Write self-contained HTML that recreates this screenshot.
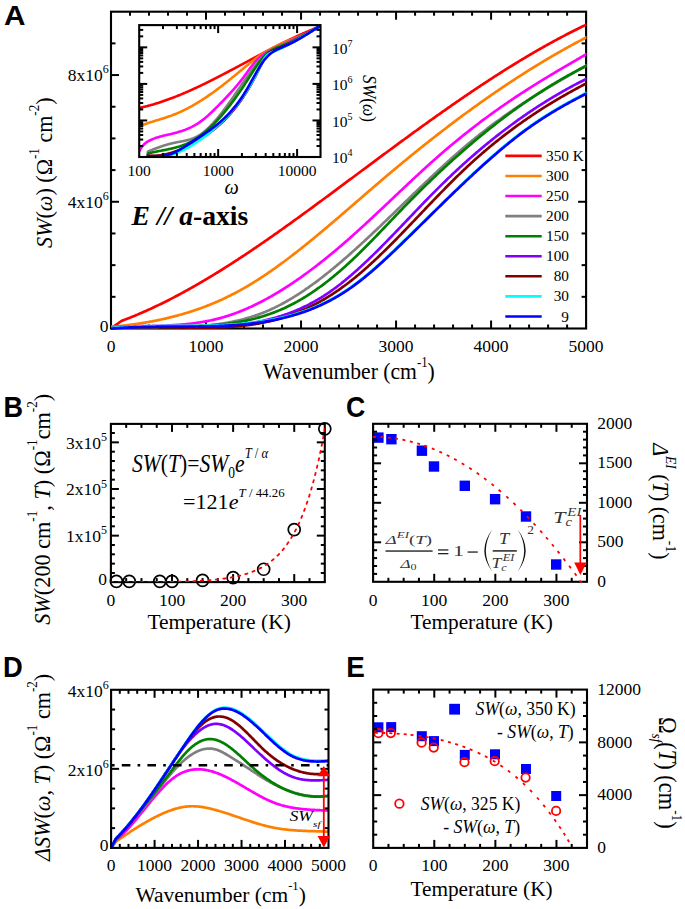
<!DOCTYPE html>
<html><head><meta charset="utf-8"><title>Figure</title>
<style>html,body{margin:0;padding:0;background:#fff;} svg{display:block;} text{fill:#000;}</style>
</head><body>
<svg width="685" height="909" viewBox="0 0 685 909">
<defs>
<clipPath id="clipA"><rect x="111" y="11.7" width="475.4" height="318.1"/></clipPath>
<clipPath id="clipI"><rect x="139.2" y="25.1" width="181.3" height="131.9"/></clipPath>
<clipPath id="clipB"><rect x="110.9" y="423.9" width="213.9" height="158.20000000000005"/></clipPath>
<clipPath id="clipC"><rect x="373.1" y="423.8" width="213.89999999999998" height="157.99999999999994"/></clipPath>
<clipPath id="clipD"><rect x="110.6" y="689.8" width="217.9" height="159.1"/></clipPath>
<clipPath id="clipE"><rect x="373.2" y="689.6" width="213.8" height="158.29999999999995"/></clipPath>
</defs>
<rect width="685" height="909" fill="#fff"/>
<rect x="111" y="11.7" width="475.1" height="316.8" fill="none" stroke="#000" stroke-width="2.1"/>
<line x1="130" y1="328.5" x2="130" y2="324.5" stroke="#000" stroke-width="2" />
<line x1="130" y1="11.7" x2="130" y2="15.7" stroke="#000" stroke-width="2" />
<line x1="149.01" y1="328.5" x2="149.01" y2="324.5" stroke="#000" stroke-width="2" />
<line x1="149.01" y1="11.7" x2="149.01" y2="15.7" stroke="#000" stroke-width="2" />
<line x1="168.01" y1="328.5" x2="168.01" y2="324.5" stroke="#000" stroke-width="2" />
<line x1="168.01" y1="11.7" x2="168.01" y2="15.7" stroke="#000" stroke-width="2" />
<line x1="187.02" y1="328.5" x2="187.02" y2="324.5" stroke="#000" stroke-width="2" />
<line x1="187.02" y1="11.7" x2="187.02" y2="15.7" stroke="#000" stroke-width="2" />
<line x1="206.02" y1="328.5" x2="206.02" y2="320.5" stroke="#000" stroke-width="2" />
<line x1="206.02" y1="11.7" x2="206.02" y2="19.7" stroke="#000" stroke-width="2" />
<line x1="225.02" y1="328.5" x2="225.02" y2="324.5" stroke="#000" stroke-width="2" />
<line x1="225.02" y1="11.7" x2="225.02" y2="15.7" stroke="#000" stroke-width="2" />
<line x1="244.03" y1="328.5" x2="244.03" y2="324.5" stroke="#000" stroke-width="2" />
<line x1="244.03" y1="11.7" x2="244.03" y2="15.7" stroke="#000" stroke-width="2" />
<line x1="263.03" y1="328.5" x2="263.03" y2="324.5" stroke="#000" stroke-width="2" />
<line x1="263.03" y1="11.7" x2="263.03" y2="15.7" stroke="#000" stroke-width="2" />
<line x1="282.04" y1="328.5" x2="282.04" y2="324.5" stroke="#000" stroke-width="2" />
<line x1="282.04" y1="11.7" x2="282.04" y2="15.7" stroke="#000" stroke-width="2" />
<line x1="301.04" y1="328.5" x2="301.04" y2="320.5" stroke="#000" stroke-width="2" />
<line x1="301.04" y1="11.7" x2="301.04" y2="19.7" stroke="#000" stroke-width="2" />
<line x1="320.04" y1="328.5" x2="320.04" y2="324.5" stroke="#000" stroke-width="2" />
<line x1="320.04" y1="11.7" x2="320.04" y2="15.7" stroke="#000" stroke-width="2" />
<line x1="339.05" y1="328.5" x2="339.05" y2="324.5" stroke="#000" stroke-width="2" />
<line x1="339.05" y1="11.7" x2="339.05" y2="15.7" stroke="#000" stroke-width="2" />
<line x1="358.05" y1="328.5" x2="358.05" y2="324.5" stroke="#000" stroke-width="2" />
<line x1="358.05" y1="11.7" x2="358.05" y2="15.7" stroke="#000" stroke-width="2" />
<line x1="377.06" y1="328.5" x2="377.06" y2="324.5" stroke="#000" stroke-width="2" />
<line x1="377.06" y1="11.7" x2="377.06" y2="15.7" stroke="#000" stroke-width="2" />
<line x1="396.06" y1="328.5" x2="396.06" y2="320.5" stroke="#000" stroke-width="2" />
<line x1="396.06" y1="11.7" x2="396.06" y2="19.7" stroke="#000" stroke-width="2" />
<line x1="415.06" y1="328.5" x2="415.06" y2="324.5" stroke="#000" stroke-width="2" />
<line x1="415.06" y1="11.7" x2="415.06" y2="15.7" stroke="#000" stroke-width="2" />
<line x1="434.07" y1="328.5" x2="434.07" y2="324.5" stroke="#000" stroke-width="2" />
<line x1="434.07" y1="11.7" x2="434.07" y2="15.7" stroke="#000" stroke-width="2" />
<line x1="453.07" y1="328.5" x2="453.07" y2="324.5" stroke="#000" stroke-width="2" />
<line x1="453.07" y1="11.7" x2="453.07" y2="15.7" stroke="#000" stroke-width="2" />
<line x1="472.08" y1="328.5" x2="472.08" y2="324.5" stroke="#000" stroke-width="2" />
<line x1="472.08" y1="11.7" x2="472.08" y2="15.7" stroke="#000" stroke-width="2" />
<line x1="491.08" y1="328.5" x2="491.08" y2="320.5" stroke="#000" stroke-width="2" />
<line x1="491.08" y1="11.7" x2="491.08" y2="19.7" stroke="#000" stroke-width="2" />
<line x1="510.08" y1="328.5" x2="510.08" y2="324.5" stroke="#000" stroke-width="2" />
<line x1="510.08" y1="11.7" x2="510.08" y2="15.7" stroke="#000" stroke-width="2" />
<line x1="529.09" y1="328.5" x2="529.09" y2="324.5" stroke="#000" stroke-width="2" />
<line x1="529.09" y1="11.7" x2="529.09" y2="15.7" stroke="#000" stroke-width="2" />
<line x1="548.09" y1="328.5" x2="548.09" y2="324.5" stroke="#000" stroke-width="2" />
<line x1="548.09" y1="11.7" x2="548.09" y2="15.7" stroke="#000" stroke-width="2" />
<line x1="567.1" y1="328.5" x2="567.1" y2="324.5" stroke="#000" stroke-width="2" />
<line x1="567.1" y1="11.7" x2="567.1" y2="15.7" stroke="#000" stroke-width="2" />
<line x1="111" y1="296.82" x2="115.5" y2="296.82" stroke="#000" stroke-width="2" />
<line x1="586.1" y1="296.82" x2="581.6" y2="296.82" stroke="#000" stroke-width="2" />
<line x1="111" y1="265.14" x2="115.5" y2="265.14" stroke="#000" stroke-width="2" />
<line x1="586.1" y1="265.14" x2="581.6" y2="265.14" stroke="#000" stroke-width="2" />
<line x1="111" y1="233.46" x2="115.5" y2="233.46" stroke="#000" stroke-width="2" />
<line x1="586.1" y1="233.46" x2="581.6" y2="233.46" stroke="#000" stroke-width="2" />
<line x1="111" y1="201.78" x2="119" y2="201.78" stroke="#000" stroke-width="2" />
<line x1="586.1" y1="201.78" x2="578.1" y2="201.78" stroke="#000" stroke-width="2" />
<line x1="111" y1="170.1" x2="115.5" y2="170.1" stroke="#000" stroke-width="2" />
<line x1="586.1" y1="170.1" x2="581.6" y2="170.1" stroke="#000" stroke-width="2" />
<line x1="111" y1="138.42" x2="115.5" y2="138.42" stroke="#000" stroke-width="2" />
<line x1="586.1" y1="138.42" x2="581.6" y2="138.42" stroke="#000" stroke-width="2" />
<line x1="111" y1="106.74" x2="115.5" y2="106.74" stroke="#000" stroke-width="2" />
<line x1="586.1" y1="106.74" x2="581.6" y2="106.74" stroke="#000" stroke-width="2" />
<line x1="111" y1="75.06" x2="119" y2="75.06" stroke="#000" stroke-width="2" />
<line x1="586.1" y1="75.06" x2="578.1" y2="75.06" stroke="#000" stroke-width="2" />
<line x1="111" y1="43.38" x2="115.5" y2="43.38" stroke="#000" stroke-width="2" />
<line x1="586.1" y1="43.38" x2="581.6" y2="43.38" stroke="#000" stroke-width="2" />
<g clip-path="url(#clipA)">
<path d="M111.2,328.3 L121.4,320.98 L122.4,320.61 L123.4,320.23 L124.4,319.85 L125.4,319.47 L126.4,319.09 L127.4,318.7 L128.4,318.3 L129.4,317.91 L130.4,317.51 L131.4,317.11 L132.4,316.7 L133.4,316.29 L134.4,315.88 L135.4,315.47 L136.4,315.05 L137.4,314.63 L138.4,314.21 L139.4,313.78 L140.4,313.35 L141.4,312.92 L142.4,312.49 L143.4,312.05 L144.4,311.61 L145.4,311.16 L146.4,310.72 L147.4,310.27 L148.4,309.81 L149.4,309.36 L150.4,308.9 L151.4,308.44 L152.4,307.98 L153.4,307.51 L154.4,307.04 L155.4,306.57 L156.4,306.09 L157.4,305.62 L158.4,305.14 L159.4,304.65 L160.4,304.17 L161.4,303.68 L162.4,303.19 L163.4,302.69 L164.4,302.2 L165.4,301.7 L166.4,301.2 L167.4,300.69 L168.4,300.19 L169.4,299.68 L170.4,299.17 L171.4,298.65 L172.4,298.13 L173.4,297.61 L174.4,297.09 L175.4,296.57 L176.4,296.04 L177.4,295.51 L178.4,294.98 L179.4,294.45 L180.4,293.91 L181.4,293.37 L182.4,292.83 L183.4,292.28 L184.4,291.74 L185.4,291.19 L186.4,290.64 L187.4,290.09 L188.4,289.53 L189.4,288.97 L190.4,288.41 L191.4,287.85 L192.4,287.29 L193.4,286.72 L194.4,286.15 L195.4,285.58 L196.4,285.01 L197.4,284.43 L198.4,283.85 L199.4,283.27 L200.4,282.69 L201.4,282.11 L202.4,281.52 L203.4,280.93 L204.4,280.34 L205.4,279.75 L206.4,279.15 L207.4,278.56 L208.4,277.96 L209.4,277.36 L210.4,276.75 L211.4,276.15 L212.4,275.54 L213.4,274.94 L214.4,274.32 L215.4,273.71 L216.4,273.1 L217.4,272.48 L218.4,271.86 L219.4,271.24 L220.4,270.62 L221.4,270 L222.4,269.37 L223.4,268.74 L224.4,268.12 L225.4,267.48 L226.4,266.85 L227.4,266.22 L228.4,265.58 L229.4,264.94 L230.4,264.3 L231.4,263.66 L232.4,263.02 L233.4,262.37 L234.4,261.73 L235.4,261.08 L236.4,260.43 L237.4,259.78 L238.4,259.13 L239.4,258.47 L240.4,257.82 L241.4,257.16 L242.4,256.5 L243.4,255.84 L244.4,255.18 L245.4,254.51 L246.4,253.85 L247.4,253.18 L248.4,252.51 L249.4,251.84 L250.4,251.17 L251.4,250.5 L252.4,249.83 L253.4,249.15 L254.4,248.47 L255.4,247.8 L256.4,247.12 L257.4,246.44 L258.4,245.75 L259.4,245.07 L260.4,244.39 L261.4,243.7 L262.4,243.01 L263.4,242.32 L264.4,241.63 L265.4,240.94 L266.4,240.25 L267.4,239.56 L268.4,238.86 L269.4,238.17 L270.4,237.47 L271.4,236.77 L272.4,236.07 L273.4,235.37 L274.4,234.67 L275.4,233.97 L276.4,233.27 L277.4,232.56 L278.4,231.86 L279.4,231.15 L280.4,230.44 L281.4,229.73 L282.4,229.02 L283.4,228.31 L284.4,227.6 L285.4,226.89 L286.4,226.17 L287.4,225.46 L288.4,224.75 L289.4,224.03 L290.4,223.31 L291.4,222.59 L292.4,221.88 L293.4,221.16 L294.4,220.44 L295.4,219.71 L296.4,218.99 L297.4,218.27 L298.4,217.55 L299.4,216.82 L300.4,216.1 L301.4,215.37 L302.4,214.64 L303.4,213.92 L304.4,213.19 L305.4,212.46 L306.4,211.73 L307.4,211 L308.4,210.27 L309.4,209.54 L310.4,208.81 L311.4,208.08 L312.4,207.34 L313.4,206.61 L314.4,205.88 L315.4,205.14 L316.4,204.41 L317.4,203.67 L318.4,202.93 L319.4,202.2 L320.4,201.46 L321.4,200.72 L322.4,199.99 L323.4,199.25 L324.4,198.51 L325.4,197.77 L326.4,197.03 L327.4,196.29 L328.4,195.55 L329.4,194.81 L330.4,194.07 L331.4,193.33 L332.4,192.59 L333.4,191.85 L334.4,191.1 L335.4,190.36 L336.4,189.62 L337.4,188.88 L338.4,188.13 L339.4,187.39 L340.4,186.65 L341.4,185.9 L342.4,185.16 L343.4,184.42 L344.4,183.67 L345.4,182.93 L346.4,182.19 L347.4,181.44 L348.4,180.7 L349.4,179.95 L350.4,179.21 L351.4,178.47 L352.4,177.72 L353.4,176.98 L354.4,176.23 L355.4,175.49 L356.4,174.74 L357.4,174 L358.4,173.26 L359.4,172.51 L360.4,171.77 L361.4,171.02 L362.4,170.28 L363.4,169.54 L364.4,168.79 L365.4,168.05 L366.4,167.31 L367.4,166.56 L368.4,165.82 L369.4,165.08 L370.4,164.33 L371.4,163.59 L372.4,162.85 L373.4,162.11 L374.4,161.37 L375.4,160.62 L376.4,159.88 L377.4,159.14 L378.4,158.4 L379.4,157.66 L380.4,156.92 L381.4,156.18 L382.4,155.44 L383.4,154.7 L384.4,153.96 L385.4,153.22 L386.4,152.48 L387.4,151.74 L388.4,151 L389.4,150.27 L390.4,149.53 L391.4,148.79 L392.4,148.05 L393.4,147.32 L394.4,146.58 L395.4,145.85 L396.4,145.11 L397.4,144.38 L398.4,143.64 L399.4,142.91 L400.4,142.18 L401.4,141.44 L402.4,140.71 L403.4,139.98 L404.4,139.25 L405.4,138.52 L406.4,137.79 L407.4,137.06 L408.4,136.33 L409.4,135.6 L410.4,134.87 L411.4,134.14 L412.4,133.42 L413.4,132.69 L414.4,131.96 L415.4,131.24 L416.4,130.51 L417.4,129.79 L418.4,129.07 L419.4,128.34 L420.4,127.62 L421.4,126.9 L422.4,126.18 L423.4,125.46 L424.4,124.74 L425.4,124.02 L426.4,123.31 L427.4,122.59 L428.4,121.87 L429.4,121.16 L430.4,120.44 L431.4,119.73 L432.4,119.01 L433.4,118.3 L434.4,117.59 L435.4,116.88 L436.4,116.17 L437.4,115.46 L438.4,114.75 L439.4,114.04 L440.4,113.34 L441.4,112.63 L442.4,111.93 L443.4,111.22 L444.4,110.52 L445.4,109.82 L446.4,109.12 L447.4,108.42 L448.4,107.72 L449.4,107.02 L450.4,106.32 L451.4,105.62 L452.4,104.93 L453.4,104.23 L454.4,103.54 L455.4,102.85 L456.4,102.16 L457.4,101.46 L458.4,100.78 L459.4,100.09 L460.4,99.4 L461.4,98.71 L462.4,98.03 L463.4,97.34 L464.4,96.66 L465.4,95.98 L466.4,95.3 L467.4,94.62 L468.4,93.94 L469.4,93.26 L470.4,92.59 L471.4,91.91 L472.4,91.24 L473.4,90.56 L474.4,89.89 L475.4,89.22 L476.4,88.55 L477.4,87.89 L478.4,87.22 L479.4,86.55 L480.4,85.89 L481.4,85.23 L482.4,84.56 L483.4,83.9 L484.4,83.25 L485.4,82.59 L486.4,81.93 L487.4,81.28 L488.4,80.62 L489.4,79.97 L490.4,79.32 L491.4,78.67 L492.4,78.02 L493.4,77.37 L494.4,76.73 L495.4,76.09 L496.4,75.44 L497.4,74.8 L498.4,74.16 L499.4,73.52 L500.4,72.89 L501.4,72.25 L502.4,71.62 L503.4,70.98 L504.4,70.35 L505.4,69.72 L506.4,69.1 L507.4,68.47 L508.4,67.84 L509.4,67.22 L510.4,66.6 L511.4,65.98 L512.4,65.36 L513.4,64.74 L514.4,64.13 L515.4,63.51 L516.4,62.9 L517.4,62.29 L518.4,61.68 L519.4,61.08 L520.4,60.47 L521.4,59.87 L522.4,59.26 L523.4,58.66 L524.4,58.06 L525.4,57.47 L526.4,56.87 L527.4,56.28 L528.4,55.68 L529.4,55.09 L530.4,54.51 L531.4,53.92 L532.4,53.33 L533.4,52.75 L534.4,52.17 L535.4,51.59 L536.4,51.01 L537.4,50.44 L538.4,49.86 L539.4,49.29 L540.4,48.72 L541.4,48.15 L542.4,47.58 L543.4,47.02 L544.4,46.46 L545.4,45.89 L546.4,45.34 L547.4,44.78 L548.4,44.22 L549.4,43.67 L550.4,43.12 L551.4,42.57 L552.4,42.02 L553.4,41.48 L554.4,40.93 L555.4,40.39 L556.4,39.85 L557.4,39.31 L558.4,38.78 L559.4,38.25 L560.4,37.71 L561.4,37.18 L562.4,36.66 L563.4,36.13 L564.4,35.61 L565.4,35.09 L566.4,34.57 L567.4,34.05 L568.4,33.54 L569.4,33.03 L570.4,32.52 L571.4,32.01 L572.4,31.5 L573.4,31 L574.4,30.5 L575.4,30 L576.4,29.5 L577.4,29.01 L578.4,28.51 L579.4,28.02 L580.4,27.53 L581.4,27.05 L582.4,26.57 L583.4,26.08 L584.4,25.61 L585.4,25.13 L586.4,24.65 L587,24.37" fill="none" stroke="#ff0000" stroke-width="2.7" stroke-linejoin="round" stroke-linecap="round" />
<path d="M111.2,326.96 L112.2,326.87 L113.2,326.77 L114.2,326.67 L115.2,326.57 L116.2,326.47 L117.2,326.36 L118.2,326.25 L119.2,326.15 L120.2,326.04 L121.2,325.92 L122.2,325.81 L123.2,325.69 L124.2,325.58 L125.2,325.45 L126.2,325.33 L127.2,325.21 L128.2,325.08 L129.2,324.95 L130.2,324.82 L131.2,324.69 L132.2,324.55 L133.2,324.41 L134.2,324.27 L135.2,324.13 L136.2,323.98 L137.2,323.84 L138.2,323.69 L139.2,323.53 L140.2,323.38 L141.2,323.22 L142.2,323.06 L143.2,322.9 L144.2,322.73 L145.2,322.56 L146.2,322.39 L147.2,322.22 L148.2,322.04 L149.2,321.86 L150.2,321.68 L151.2,321.5 L152.2,321.31 L153.2,321.12 L154.2,320.93 L155.2,320.73 L156.2,320.53 L157.2,320.33 L158.2,320.12 L159.2,319.91 L160.2,319.7 L161.2,319.49 L162.2,319.27 L163.2,319.05 L164.2,318.83 L165.2,318.6 L166.2,318.37 L167.2,318.13 L168.2,317.9 L169.2,317.66 L170.2,317.41 L171.2,317.17 L172.2,316.92 L173.2,316.66 L174.2,316.4 L175.2,316.14 L176.2,315.88 L177.2,315.61 L178.2,315.34 L179.2,315.06 L180.2,314.78 L181.2,314.5 L182.2,314.22 L183.2,313.93 L184.2,313.63 L185.2,313.33 L186.2,313.03 L187.2,312.73 L188.2,312.42 L189.2,312.1 L190.2,311.79 L191.2,311.47 L192.2,311.14 L193.2,310.81 L194.2,310.48 L195.2,310.14 L196.2,309.8 L197.2,309.46 L198.2,309.11 L199.2,308.75 L200.2,308.4 L201.2,308.03 L202.2,307.67 L203.2,307.3 L204.2,306.92 L205.2,306.54 L206.2,306.16 L207.2,305.77 L208.2,305.38 L209.2,304.98 L210.2,304.58 L211.2,304.17 L212.2,303.76 L213.2,303.35 L214.2,302.93 L215.2,302.5 L216.2,302.07 L217.2,301.64 L218.2,301.2 L219.2,300.76 L220.2,300.31 L221.2,299.86 L222.2,299.4 L223.2,298.94 L224.2,298.47 L225.2,298 L226.2,297.52 L227.2,297.04 L228.2,296.55 L229.2,296.06 L230.2,295.56 L231.2,295.06 L232.2,294.55 L233.2,294.04 L234.2,293.52 L235.2,293 L236.2,292.47 L237.2,291.94 L238.2,291.4 L239.2,290.86 L240.2,290.31 L241.2,289.75 L242.2,289.19 L243.2,288.63 L244.2,288.05 L245.2,287.48 L246.2,286.9 L247.2,286.31 L248.2,285.72 L249.2,285.13 L250.2,284.52 L251.2,283.92 L252.2,283.31 L253.2,282.69 L254.2,282.07 L255.2,281.45 L256.2,280.82 L257.2,280.18 L258.2,279.54 L259.2,278.9 L260.2,278.25 L261.2,277.6 L262.2,276.94 L263.2,276.28 L264.2,275.62 L265.2,274.95 L266.2,274.28 L267.2,273.6 L268.2,272.92 L269.2,272.23 L270.2,271.54 L271.2,270.84 L272.2,270.15 L273.2,269.44 L274.2,268.74 L275.2,268.03 L276.2,267.32 L277.2,266.6 L278.2,265.88 L279.2,265.15 L280.2,264.43 L281.2,263.69 L282.2,262.96 L283.2,262.22 L284.2,261.48 L285.2,260.73 L286.2,259.99 L287.2,259.23 L288.2,258.48 L289.2,257.72 L290.2,256.96 L291.2,256.2 L292.2,255.43 L293.2,254.66 L294.2,253.89 L295.2,253.11 L296.2,252.33 L297.2,251.55 L298.2,250.76 L299.2,249.98 L300.2,249.19 L301.2,248.39 L302.2,247.6 L303.2,246.8 L304.2,246 L305.2,245.2 L306.2,244.4 L307.2,243.59 L308.2,242.78 L309.2,241.97 L310.2,241.15 L311.2,240.34 L312.2,239.52 L313.2,238.7 L314.2,237.88 L315.2,237.05 L316.2,236.23 L317.2,235.4 L318.2,234.57 L319.2,233.74 L320.2,232.9 L321.2,232.07 L322.2,231.23 L323.2,230.39 L324.2,229.55 L325.2,228.71 L326.2,227.87 L327.2,227.03 L328.2,226.18 L329.2,225.33 L330.2,224.49 L331.2,223.64 L332.2,222.78 L333.2,221.93 L334.2,221.08 L335.2,220.23 L336.2,219.37 L337.2,218.52 L338.2,217.66 L339.2,216.8 L340.2,215.94 L341.2,215.08 L342.2,214.22 L343.2,213.36 L344.2,212.5 L345.2,211.64 L346.2,210.78 L347.2,209.91 L348.2,209.05 L349.2,208.18 L350.2,207.32 L351.2,206.46 L352.2,205.59 L353.2,204.73 L354.2,203.86 L355.2,202.99 L356.2,202.13 L357.2,201.26 L358.2,200.4 L359.2,199.53 L360.2,198.67 L361.2,197.8 L362.2,196.94 L363.2,196.07 L364.2,195.21 L365.2,194.34 L366.2,193.48 L367.2,192.61 L368.2,191.75 L369.2,190.89 L370.2,190.03 L371.2,189.16 L372.2,188.3 L373.2,187.44 L374.2,186.58 L375.2,185.72 L376.2,184.87 L377.2,184.01 L378.2,183.15 L379.2,182.3 L380.2,181.44 L381.2,180.59 L382.2,179.74 L383.2,178.89 L384.2,178.04 L385.2,177.19 L386.2,176.34 L387.2,175.5 L388.2,174.65 L389.2,173.81 L390.2,172.97 L391.2,172.12 L392.2,171.28 L393.2,170.45 L394.2,169.61 L395.2,168.77 L396.2,167.94 L397.2,167.11 L398.2,166.27 L399.2,165.44 L400.2,164.61 L401.2,163.79 L402.2,162.96 L403.2,162.13 L404.2,161.31 L405.2,160.49 L406.2,159.67 L407.2,158.85 L408.2,158.03 L409.2,157.21 L410.2,156.4 L411.2,155.58 L412.2,154.77 L413.2,153.96 L414.2,153.15 L415.2,152.34 L416.2,151.53 L417.2,150.72 L418.2,149.92 L419.2,149.12 L420.2,148.31 L421.2,147.51 L422.2,146.71 L423.2,145.92 L424.2,145.12 L425.2,144.32 L426.2,143.53 L427.2,142.74 L428.2,141.95 L429.2,141.16 L430.2,140.37 L431.2,139.58 L432.2,138.8 L433.2,138.02 L434.2,137.23 L435.2,136.45 L436.2,135.67 L437.2,134.9 L438.2,134.12 L439.2,133.35 L440.2,132.57 L441.2,131.8 L442.2,131.03 L443.2,130.26 L444.2,129.49 L445.2,128.73 L446.2,127.96 L447.2,127.2 L448.2,126.44 L449.2,125.68 L450.2,124.92 L451.2,124.16 L452.2,123.41 L453.2,122.65 L454.2,121.9 L455.2,121.15 L456.2,120.4 L457.2,119.65 L458.2,118.91 L459.2,118.16 L460.2,117.42 L461.2,116.68 L462.2,115.94 L463.2,115.2 L464.2,114.46 L465.2,113.73 L466.2,112.99 L467.2,112.26 L468.2,111.53 L469.2,110.8 L470.2,110.07 L471.2,109.35 L472.2,108.62 L473.2,107.9 L474.2,107.18 L475.2,106.46 L476.2,105.74 L477.2,105.03 L478.2,104.31 L479.2,103.6 L480.2,102.89 L481.2,102.18 L482.2,101.47 L483.2,100.76 L484.2,100.06 L485.2,99.36 L486.2,98.65 L487.2,97.95 L488.2,97.26 L489.2,96.56 L490.2,95.86 L491.2,95.17 L492.2,94.48 L493.2,93.79 L494.2,93.1 L495.2,92.41 L496.2,91.73 L497.2,91.05 L498.2,90.37 L499.2,89.69 L500.2,89.01 L501.2,88.33 L502.2,87.66 L503.2,86.98 L504.2,86.31 L505.2,85.64 L506.2,84.97 L507.2,84.31 L508.2,83.64 L509.2,82.98 L510.2,82.32 L511.2,81.66 L512.2,81 L513.2,80.35 L514.2,79.69 L515.2,79.04 L516.2,78.39 L517.2,77.74 L518.2,77.1 L519.2,76.45 L520.2,75.81 L521.2,75.17 L522.2,74.53 L523.2,73.89 L524.2,73.25 L525.2,72.62 L526.2,71.98 L527.2,71.35 L528.2,70.72 L529.2,70.1 L530.2,69.47 L531.2,68.85 L532.2,68.23 L533.2,67.61 L534.2,66.99 L535.2,66.37 L536.2,65.76 L537.2,65.15 L538.2,64.53 L539.2,63.93 L540.2,63.32 L541.2,62.71 L542.2,62.11 L543.2,61.51 L544.2,60.91 L545.2,60.31 L546.2,59.72 L547.2,59.12 L548.2,58.53 L549.2,57.94 L550.2,57.35 L551.2,56.76 L552.2,56.18 L553.2,55.6 L554.2,55.02 L555.2,54.44 L556.2,53.86 L557.2,53.29 L558.2,52.71 L559.2,52.14 L560.2,51.57 L561.2,51 L562.2,50.44 L563.2,49.88 L564.2,49.31 L565.2,48.75 L566.2,48.2 L567.2,47.64 L568.2,47.09 L569.2,46.54 L570.2,45.99 L571.2,45.44 L572.2,44.89 L573.2,44.35 L574.2,43.81 L575.2,43.27 L576.2,42.73 L577.2,42.19 L578.2,41.66 L579.2,41.13 L580.2,40.6 L581.2,40.07 L582.2,39.54 L583.2,39.02 L584.2,38.5 L585.2,37.98 L586.2,37.46 L587,37.05" fill="none" stroke="#ff8000" stroke-width="2.7" stroke-linejoin="round" stroke-linecap="round" />
<path d="M111.2,327.2 L112.2,327.14 L113.2,327.08 L114.2,327.03 L115.2,326.98 L116.2,326.92 L117.2,326.88 L118.2,326.83 L119.2,326.79 L120.2,326.75 L121.2,326.71 L122.2,326.67 L123.2,326.63 L124.2,326.6 L125.2,326.56 L126.2,326.53 L127.2,326.5 L128.2,326.47 L129.2,326.45 L130.2,326.42 L131.2,326.39 L132.2,326.37 L133.2,326.35 L134.2,326.32 L135.2,326.3 L136.2,326.28 L137.2,326.26 L138.2,326.24 L139.2,326.22 L140.2,326.2 L141.2,326.18 L142.2,326.16 L143.2,326.14 L144.2,326.12 L145.2,326.1 L146.2,326.08 L147.2,326.06 L148.2,326.04 L149.2,326.02 L150.2,326 L151.2,325.98 L152.2,325.95 L153.2,325.93 L154.2,325.91 L155.2,325.88 L156.2,325.85 L157.2,325.83 L158.2,325.8 L159.2,325.77 L160.2,325.74 L161.2,325.7 L162.2,325.67 L163.2,325.63 L164.2,325.59 L165.2,325.55 L166.2,325.51 L167.2,325.47 L168.2,325.42 L169.2,325.37 L170.2,325.32 L171.2,325.27 L172.2,325.22 L173.2,325.16 L174.2,325.1 L175.2,325.04 L176.2,324.97 L177.2,324.9 L178.2,324.83 L179.2,324.76 L180.2,324.68 L181.2,324.6 L182.2,324.52 L183.2,324.43 L184.2,324.34 L185.2,324.25 L186.2,324.15 L187.2,324.05 L188.2,323.94 L189.2,323.84 L190.2,323.72 L191.2,323.61 L192.2,323.49 L193.2,323.36 L194.2,323.23 L195.2,323.1 L196.2,322.96 L197.2,322.82 L198.2,322.67 L199.2,322.52 L200.2,322.36 L201.2,322.2 L202.2,322.04 L203.2,321.86 L204.2,321.69 L205.2,321.51 L206.2,321.32 L207.2,321.13 L208.2,320.93 L209.2,320.73 L210.2,320.52 L211.2,320.3 L212.2,320.08 L213.2,319.86 L214.2,319.63 L215.2,319.39 L216.2,319.14 L217.2,318.89 L218.2,318.64 L219.2,318.37 L220.2,318.1 L221.2,317.83 L222.2,317.54 L223.2,317.26 L224.2,316.96 L225.2,316.66 L226.2,316.35 L227.2,316.03 L228.2,315.71 L229.2,315.39 L230.2,315.05 L231.2,314.71 L232.2,314.37 L233.2,314.02 L234.2,313.66 L235.2,313.29 L236.2,312.92 L237.2,312.55 L238.2,312.16 L239.2,311.77 L240.2,311.38 L241.2,310.98 L242.2,310.57 L243.2,310.16 L244.2,309.74 L245.2,309.32 L246.2,308.89 L247.2,308.45 L248.2,308.01 L249.2,307.56 L250.2,307.11 L251.2,306.65 L252.2,306.19 L253.2,305.72 L254.2,305.24 L255.2,304.76 L256.2,304.27 L257.2,303.78 L258.2,303.28 L259.2,302.78 L260.2,302.27 L261.2,301.76 L262.2,301.24 L263.2,300.71 L264.2,300.18 L265.2,299.65 L266.2,299.11 L267.2,298.56 L268.2,298.01 L269.2,297.45 L270.2,296.89 L271.2,296.33 L272.2,295.75 L273.2,295.18 L274.2,294.6 L275.2,294.01 L276.2,293.42 L277.2,292.82 L278.2,292.22 L279.2,291.61 L280.2,291 L281.2,290.38 L282.2,289.76 L283.2,289.14 L284.2,288.51 L285.2,287.87 L286.2,287.23 L287.2,286.59 L288.2,285.94 L289.2,285.28 L290.2,284.63 L291.2,283.96 L292.2,283.29 L293.2,282.62 L294.2,281.95 L295.2,281.26 L296.2,280.58 L297.2,279.89 L298.2,279.19 L299.2,278.5 L300.2,277.79 L301.2,277.09 L302.2,276.37 L303.2,275.66 L304.2,274.94 L305.2,274.21 L306.2,273.49 L307.2,272.75 L308.2,272.02 L309.2,271.28 L310.2,270.53 L311.2,269.78 L312.2,269.03 L313.2,268.27 L314.2,267.51 L315.2,266.75 L316.2,265.98 L317.2,265.21 L318.2,264.43 L319.2,263.65 L320.2,262.87 L321.2,262.08 L322.2,261.29 L323.2,260.5 L324.2,259.7 L325.2,258.9 L326.2,258.09 L327.2,257.28 L328.2,256.47 L329.2,255.65 L330.2,254.83 L331.2,254.01 L332.2,253.18 L333.2,252.36 L334.2,251.52 L335.2,250.69 L336.2,249.85 L337.2,249 L338.2,248.16 L339.2,247.31 L340.2,246.45 L341.2,245.6 L342.2,244.74 L343.2,243.88 L344.2,243.01 L345.2,242.14 L346.2,241.27 L347.2,240.4 L348.2,239.52 L349.2,238.64 L350.2,237.76 L351.2,236.87 L352.2,235.98 L353.2,235.09 L354.2,234.2 L355.2,233.3 L356.2,232.4 L357.2,231.5 L358.2,230.59 L359.2,229.69 L360.2,228.78 L361.2,227.87 L362.2,226.95 L363.2,226.04 L364.2,225.12 L365.2,224.2 L366.2,223.28 L367.2,222.36 L368.2,221.43 L369.2,220.5 L370.2,219.58 L371.2,218.65 L372.2,217.72 L373.2,216.78 L374.2,215.85 L375.2,214.91 L376.2,213.98 L377.2,213.04 L378.2,212.1 L379.2,211.16 L380.2,210.22 L381.2,209.28 L382.2,208.34 L383.2,207.4 L384.2,206.45 L385.2,205.51 L386.2,204.56 L387.2,203.62 L388.2,202.67 L389.2,201.73 L390.2,200.78 L391.2,199.84 L392.2,198.89 L393.2,197.94 L394.2,197 L395.2,196.05 L396.2,195.1 L397.2,194.16 L398.2,193.21 L399.2,192.27 L400.2,191.32 L401.2,190.38 L402.2,189.43 L403.2,188.49 L404.2,187.55 L405.2,186.61 L406.2,185.67 L407.2,184.73 L408.2,183.79 L409.2,182.85 L410.2,181.91 L411.2,180.98 L412.2,180.04 L413.2,179.11 L414.2,178.18 L415.2,177.25 L416.2,176.32 L417.2,175.39 L418.2,174.46 L419.2,173.54 L420.2,172.62 L421.2,171.7 L422.2,170.78 L423.2,169.86 L424.2,168.95 L425.2,168.03 L426.2,167.12 L427.2,166.21 L428.2,165.31 L429.2,164.4 L430.2,163.5 L431.2,162.61 L432.2,161.71 L433.2,160.82 L434.2,159.93 L435.2,159.04 L436.2,158.15 L437.2,157.27 L438.2,156.39 L439.2,155.51 L440.2,154.64 L441.2,153.77 L442.2,152.91 L443.2,152.04 L444.2,151.18 L445.2,150.32 L446.2,149.47 L447.2,148.62 L448.2,147.77 L449.2,146.93 L450.2,146.08 L451.2,145.25 L452.2,144.41 L453.2,143.58 L454.2,142.75 L455.2,141.92 L456.2,141.1 L457.2,140.28 L458.2,139.46 L459.2,138.64 L460.2,137.83 L461.2,137.02 L462.2,136.22 L463.2,135.41 L464.2,134.61 L465.2,133.82 L466.2,133.02 L467.2,132.23 L468.2,131.44 L469.2,130.66 L470.2,129.87 L471.2,129.09 L472.2,128.32 L473.2,127.54 L474.2,126.77 L475.2,126 L476.2,125.24 L477.2,124.47 L478.2,123.71 L479.2,122.95 L480.2,122.2 L481.2,121.45 L482.2,120.7 L483.2,119.95 L484.2,119.21 L485.2,118.46 L486.2,117.73 L487.2,116.99 L488.2,116.26 L489.2,115.53 L490.2,114.8 L491.2,114.07 L492.2,113.35 L493.2,112.63 L494.2,111.91 L495.2,111.19 L496.2,110.48 L497.2,109.77 L498.2,109.06 L499.2,108.36 L500.2,107.66 L501.2,106.96 L502.2,106.26 L503.2,105.56 L504.2,104.87 L505.2,104.18 L506.2,103.49 L507.2,102.81 L508.2,102.13 L509.2,101.45 L510.2,100.77 L511.2,100.09 L512.2,99.42 L513.2,98.75 L514.2,98.08 L515.2,97.41 L516.2,96.75 L517.2,96.09 L518.2,95.43 L519.2,94.77 L520.2,94.12 L521.2,93.47 L522.2,92.82 L523.2,92.17 L524.2,91.52 L525.2,90.88 L526.2,90.24 L527.2,89.6 L528.2,88.96 L529.2,88.32 L530.2,87.69 L531.2,87.06 L532.2,86.43 L533.2,85.8 L534.2,85.17 L535.2,84.54 L536.2,83.92 L537.2,83.3 L538.2,82.68 L539.2,82.06 L540.2,81.45 L541.2,80.83 L542.2,80.22 L543.2,79.61 L544.2,79 L545.2,78.39 L546.2,77.78 L547.2,77.17 L548.2,76.57 L549.2,75.96 L550.2,75.36 L551.2,74.76 L552.2,74.16 L553.2,73.56 L554.2,72.97 L555.2,72.37 L556.2,71.78 L557.2,71.18 L558.2,70.59 L559.2,70 L560.2,69.41 L561.2,68.82 L562.2,68.23 L563.2,67.64 L564.2,67.06 L565.2,66.47 L566.2,65.89 L567.2,65.3 L568.2,64.72 L569.2,64.14 L570.2,63.55 L571.2,62.97 L572.2,62.39 L573.2,61.81 L574.2,61.23 L575.2,60.65 L576.2,60.08 L577.2,59.5 L578.2,58.92 L579.2,58.34 L580.2,57.77 L581.2,57.19 L582.2,56.62 L583.2,56.04 L584.2,55.47 L585.2,54.89 L586.2,54.32 L587,53.86" fill="none" stroke="#ff00ff" stroke-width="2.7" stroke-linejoin="round" stroke-linecap="round" />
<path d="M111.2,328.16 L112.2,328.09 L113.2,328.03 L114.2,327.96 L115.2,327.9 L116.2,327.85 L117.2,327.79 L118.2,327.74 L119.2,327.69 L120.2,327.64 L121.2,327.6 L122.2,327.55 L123.2,327.51 L124.2,327.48 L125.2,327.44 L126.2,327.41 L127.2,327.37 L128.2,327.34 L129.2,327.32 L130.2,327.29 L131.2,327.27 L132.2,327.24 L133.2,327.22 L134.2,327.2 L135.2,327.19 L136.2,327.17 L137.2,327.15 L138.2,327.14 L139.2,327.13 L140.2,327.12 L141.2,327.11 L142.2,327.1 L143.2,327.09 L144.2,327.08 L145.2,327.07 L146.2,327.07 L147.2,327.06 L148.2,327.06 L149.2,327.05 L150.2,327.05 L151.2,327.04 L152.2,327.04 L153.2,327.04 L154.2,327.04 L155.2,327.03 L156.2,327.03 L157.2,327.03 L158.2,327.03 L159.2,327.02 L160.2,327.02 L161.2,327.02 L162.2,327.01 L163.2,327.01 L164.2,327 L165.2,327 L166.2,326.99 L167.2,326.99 L168.2,326.98 L169.2,326.97 L170.2,326.96 L171.2,326.95 L172.2,326.94 L173.2,326.93 L174.2,326.92 L175.2,326.9 L176.2,326.88 L177.2,326.87 L178.2,326.85 L179.2,326.83 L180.2,326.81 L181.2,326.78 L182.2,326.76 L183.2,326.73 L184.2,326.7 L185.2,326.67 L186.2,326.64 L187.2,326.6 L188.2,326.57 L189.2,326.53 L190.2,326.48 L191.2,326.44 L192.2,326.39 L193.2,326.35 L194.2,326.29 L195.2,326.24 L196.2,326.18 L197.2,326.12 L198.2,326.06 L199.2,326 L200.2,325.93 L201.2,325.86 L202.2,325.78 L203.2,325.71 L204.2,325.63 L205.2,325.54 L206.2,325.45 L207.2,325.36 L208.2,325.27 L209.2,325.17 L210.2,325.07 L211.2,324.96 L212.2,324.86 L213.2,324.74 L214.2,324.63 L215.2,324.51 L216.2,324.38 L217.2,324.25 L218.2,324.12 L219.2,323.98 L220.2,323.84 L221.2,323.69 L222.2,323.54 L223.2,323.39 L224.2,323.23 L225.2,323.07 L226.2,322.9 L227.2,322.72 L228.2,322.54 L229.2,322.36 L230.2,322.17 L231.2,321.98 L232.2,321.78 L233.2,321.57 L234.2,321.37 L235.2,321.15 L236.2,320.93 L237.2,320.71 L238.2,320.47 L239.2,320.24 L240.2,319.99 L241.2,319.75 L242.2,319.49 L243.2,319.23 L244.2,318.97 L245.2,318.69 L246.2,318.42 L247.2,318.13 L248.2,317.84 L249.2,317.55 L250.2,317.24 L251.2,316.93 L252.2,316.62 L253.2,316.29 L254.2,315.96 L255.2,315.63 L256.2,315.29 L257.2,314.94 L258.2,314.58 L259.2,314.22 L260.2,313.85 L261.2,313.47 L262.2,313.08 L263.2,312.69 L264.2,312.29 L265.2,311.88 L266.2,311.47 L267.2,311.05 L268.2,310.62 L269.2,310.18 L270.2,309.74 L271.2,309.28 L272.2,308.82 L273.2,308.35 L274.2,307.88 L275.2,307.4 L276.2,306.91 L277.2,306.41 L278.2,305.9 L279.2,305.39 L280.2,304.87 L281.2,304.34 L282.2,303.81 L283.2,303.26 L284.2,302.72 L285.2,302.16 L286.2,301.6 L287.2,301.03 L288.2,300.45 L289.2,299.87 L290.2,299.28 L291.2,298.68 L292.2,298.08 L293.2,297.47 L294.2,296.86 L295.2,296.23 L296.2,295.61 L297.2,294.97 L298.2,294.33 L299.2,293.68 L300.2,293.03 L301.2,292.37 L302.2,291.71 L303.2,291.03 L304.2,290.36 L305.2,289.67 L306.2,288.99 L307.2,288.29 L308.2,287.59 L309.2,286.89 L310.2,286.18 L311.2,285.46 L312.2,284.74 L313.2,284.01 L314.2,283.28 L315.2,282.54 L316.2,281.8 L317.2,281.05 L318.2,280.3 L319.2,279.54 L320.2,278.77 L321.2,278.01 L322.2,277.23 L323.2,276.46 L324.2,275.67 L325.2,274.89 L326.2,274.1 L327.2,273.3 L328.2,272.5 L329.2,271.7 L330.2,270.89 L331.2,270.07 L332.2,269.26 L333.2,268.43 L334.2,267.61 L335.2,266.78 L336.2,265.94 L337.2,265.11 L338.2,264.26 L339.2,263.42 L340.2,262.57 L341.2,261.71 L342.2,260.86 L343.2,260 L344.2,259.13 L345.2,258.27 L346.2,257.39 L347.2,256.52 L348.2,255.64 L349.2,254.76 L350.2,253.88 L351.2,252.99 L352.2,252.1 L353.2,251.21 L354.2,250.31 L355.2,249.41 L356.2,248.51 L357.2,247.6 L358.2,246.7 L359.2,245.79 L360.2,244.87 L361.2,243.96 L362.2,243.04 L363.2,242.12 L364.2,241.2 L365.2,240.27 L366.2,239.35 L367.2,238.42 L368.2,237.48 L369.2,236.55 L370.2,235.61 L371.2,234.68 L372.2,233.74 L373.2,232.8 L374.2,231.85 L375.2,230.91 L376.2,229.96 L377.2,229.01 L378.2,228.06 L379.2,227.11 L380.2,226.16 L381.2,225.2 L382.2,224.25 L383.2,223.29 L384.2,222.33 L385.2,221.37 L386.2,220.41 L387.2,219.45 L388.2,218.49 L389.2,217.52 L390.2,216.56 L391.2,215.6 L392.2,214.63 L393.2,213.66 L394.2,212.7 L395.2,211.73 L396.2,210.76 L397.2,209.79 L398.2,208.82 L399.2,207.85 L400.2,206.89 L401.2,205.92 L402.2,204.95 L403.2,203.98 L404.2,203.01 L405.2,202.04 L406.2,201.07 L407.2,200.1 L408.2,199.13 L409.2,198.16 L410.2,197.19 L411.2,196.23 L412.2,195.26 L413.2,194.29 L414.2,193.33 L415.2,192.36 L416.2,191.4 L417.2,190.43 L418.2,189.47 L419.2,188.51 L420.2,187.55 L421.2,186.59 L422.2,185.63 L423.2,184.67 L424.2,183.72 L425.2,182.76 L426.2,181.81 L427.2,180.86 L428.2,179.91 L429.2,178.96 L430.2,178.01 L431.2,177.07 L432.2,176.13 L433.2,175.18 L434.2,174.24 L435.2,173.31 L436.2,172.37 L437.2,171.44 L438.2,170.51 L439.2,169.58 L440.2,168.65 L441.2,167.73 L442.2,166.8 L443.2,165.88 L444.2,164.97 L445.2,164.05 L446.2,163.14 L447.2,162.23 L448.2,161.33 L449.2,160.42 L450.2,159.52 L451.2,158.63 L452.2,157.73 L453.2,156.84 L454.2,155.95 L455.2,155.07 L456.2,154.19 L457.2,153.31 L458.2,152.43 L459.2,151.56 L460.2,150.69 L461.2,149.83 L462.2,148.97 L463.2,148.11 L464.2,147.26 L465.2,146.41 L466.2,145.56 L467.2,144.72 L468.2,143.89 L469.2,143.05 L470.2,142.22 L471.2,141.4 L472.2,140.57 L473.2,139.76 L474.2,138.94 L475.2,138.13 L476.2,137.32 L477.2,136.52 L478.2,135.72 L479.2,134.92 L480.2,134.13 L481.2,133.34 L482.2,132.56 L483.2,131.78 L484.2,131 L485.2,130.22 L486.2,129.45 L487.2,128.69 L488.2,127.92 L489.2,127.16 L490.2,126.4 L491.2,125.65 L492.2,124.9 L493.2,124.15 L494.2,123.41 L495.2,122.67 L496.2,121.93 L497.2,121.2 L498.2,120.47 L499.2,119.74 L500.2,119.02 L501.2,118.3 L502.2,117.58 L503.2,116.87 L504.2,116.16 L505.2,115.45 L506.2,114.75 L507.2,114.05 L508.2,113.35 L509.2,112.66 L510.2,111.97 L511.2,111.28 L512.2,110.59 L513.2,109.91 L514.2,109.23 L515.2,108.55 L516.2,107.88 L517.2,107.21 L518.2,106.54 L519.2,105.88 L520.2,105.22 L521.2,104.56 L522.2,103.9 L523.2,103.25 L524.2,102.6 L525.2,101.95 L526.2,101.3 L527.2,100.66 L528.2,100.02 L529.2,99.38 L530.2,98.74 L531.2,98.11 L532.2,97.48 L533.2,96.85 L534.2,96.22 L535.2,95.6 L536.2,94.97 L537.2,94.35 L538.2,93.73 L539.2,93.12 L540.2,92.5 L541.2,91.89 L542.2,91.28 L543.2,90.67 L544.2,90.06 L545.2,89.45 L546.2,88.85 L547.2,88.25 L548.2,87.65 L549.2,87.05 L550.2,86.45 L551.2,85.85 L552.2,85.26 L553.2,84.66 L554.2,84.07 L555.2,83.48 L556.2,82.89 L557.2,82.3 L558.2,81.71 L559.2,81.12 L560.2,80.54 L561.2,79.95 L562.2,79.37 L563.2,78.79 L564.2,78.2 L565.2,77.62 L566.2,77.04 L567.2,76.46 L568.2,75.89 L569.2,75.31 L570.2,74.73 L571.2,74.15 L572.2,73.58 L573.2,73 L574.2,72.42 L575.2,71.85 L576.2,71.27 L577.2,70.7 L578.2,70.12 L579.2,69.55 L580.2,68.98 L581.2,68.4 L582.2,67.83 L583.2,67.26 L584.2,66.68 L585.2,66.11 L586.2,65.53 L587,65.07" fill="none" stroke="#808080" stroke-width="2.7" stroke-linejoin="round" stroke-linecap="round" />
<path d="M111.2,328.35 L112.2,328.26 L113.2,328.16 L114.2,328.08 L115.2,327.99 L116.2,327.91 L117.2,327.83 L118.2,327.75 L119.2,327.68 L120.2,327.61 L121.2,327.54 L122.2,327.48 L123.2,327.42 L124.2,327.36 L125.2,327.3 L126.2,327.25 L127.2,327.2 L128.2,327.15 L129.2,327.1 L130.2,327.06 L131.2,327.02 L132.2,326.98 L133.2,326.94 L134.2,326.91 L135.2,326.87 L136.2,326.84 L137.2,326.81 L138.2,326.79 L139.2,326.76 L140.2,326.74 L141.2,326.71 L142.2,326.69 L143.2,326.67 L144.2,326.65 L145.2,326.64 L146.2,326.62 L147.2,326.61 L148.2,326.6 L149.2,326.58 L150.2,326.57 L151.2,326.56 L152.2,326.55 L153.2,326.54 L154.2,326.54 L155.2,326.53 L156.2,326.52 L157.2,326.52 L158.2,326.51 L159.2,326.51 L160.2,326.51 L161.2,326.5 L162.2,326.5 L163.2,326.49 L164.2,326.49 L165.2,326.49 L166.2,326.48 L167.2,326.48 L168.2,326.48 L169.2,326.47 L170.2,326.47 L171.2,326.47 L172.2,326.46 L173.2,326.46 L174.2,326.45 L175.2,326.45 L176.2,326.44 L177.2,326.43 L178.2,326.42 L179.2,326.42 L180.2,326.41 L181.2,326.4 L182.2,326.38 L183.2,326.37 L184.2,326.36 L185.2,326.34 L186.2,326.33 L187.2,326.31 L188.2,326.29 L189.2,326.27 L190.2,326.25 L191.2,326.22 L192.2,326.2 L193.2,326.17 L194.2,326.14 L195.2,326.11 L196.2,326.08 L197.2,326.04 L198.2,326.01 L199.2,325.97 L200.2,325.93 L201.2,325.88 L202.2,325.84 L203.2,325.79 L204.2,325.74 L205.2,325.69 L206.2,325.63 L207.2,325.57 L208.2,325.51 L209.2,325.45 L210.2,325.38 L211.2,325.31 L212.2,325.24 L213.2,325.17 L214.2,325.09 L215.2,325.01 L216.2,324.92 L217.2,324.84 L218.2,324.75 L219.2,324.65 L220.2,324.55 L221.2,324.45 L222.2,324.35 L223.2,324.24 L224.2,324.13 L225.2,324.01 L226.2,323.89 L227.2,323.77 L228.2,323.64 L229.2,323.51 L230.2,323.37 L231.2,323.23 L232.2,323.09 L233.2,322.94 L234.2,322.79 L235.2,322.63 L236.2,322.47 L237.2,322.3 L238.2,322.13 L239.2,321.95 L240.2,321.77 L241.2,321.59 L242.2,321.4 L243.2,321.2 L244.2,321 L245.2,320.8 L246.2,320.59 L247.2,320.37 L248.2,320.15 L249.2,319.93 L250.2,319.7 L251.2,319.46 L252.2,319.22 L253.2,318.97 L254.2,318.72 L255.2,318.46 L256.2,318.19 L257.2,317.92 L258.2,317.65 L259.2,317.37 L260.2,317.08 L261.2,316.78 L262.2,316.48 L263.2,316.18 L264.2,315.86 L265.2,315.54 L266.2,315.22 L267.2,314.89 L268.2,314.55 L269.2,314.2 L270.2,313.85 L271.2,313.49 L272.2,313.13 L273.2,312.75 L274.2,312.37 L275.2,311.99 L276.2,311.59 L277.2,311.19 L278.2,310.79 L279.2,310.37 L280.2,309.95 L281.2,309.52 L282.2,309.08 L283.2,308.64 L284.2,308.19 L285.2,307.73 L286.2,307.26 L287.2,306.79 L288.2,306.3 L289.2,305.81 L290.2,305.31 L291.2,304.81 L292.2,304.29 L293.2,303.77 L294.2,303.24 L295.2,302.7 L296.2,302.16 L297.2,301.6 L298.2,301.04 L299.2,300.47 L300.2,299.9 L301.2,299.31 L302.2,298.72 L303.2,298.12 L304.2,297.51 L305.2,296.9 L306.2,296.27 L307.2,295.64 L308.2,295.01 L309.2,294.36 L310.2,293.71 L311.2,293.05 L312.2,292.38 L313.2,291.71 L314.2,291.02 L315.2,290.34 L316.2,289.64 L317.2,288.94 L318.2,288.22 L319.2,287.51 L320.2,286.78 L321.2,286.05 L322.2,285.31 L323.2,284.56 L324.2,283.81 L325.2,283.05 L326.2,282.28 L327.2,281.51 L328.2,280.73 L329.2,279.94 L330.2,279.14 L331.2,278.34 L332.2,277.53 L333.2,276.72 L334.2,275.9 L335.2,275.07 L336.2,274.23 L337.2,273.39 L338.2,272.54 L339.2,271.69 L340.2,270.83 L341.2,269.96 L342.2,269.08 L343.2,268.2 L344.2,267.31 L345.2,266.42 L346.2,265.52 L347.2,264.61 L348.2,263.7 L349.2,262.78 L350.2,261.86 L351.2,260.92 L352.2,259.99 L353.2,259.04 L354.2,258.09 L355.2,257.14 L356.2,256.18 L357.2,255.21 L358.2,254.24 L359.2,253.27 L360.2,252.29 L361.2,251.3 L362.2,250.31 L363.2,249.32 L364.2,248.32 L365.2,247.32 L366.2,246.32 L367.2,245.31 L368.2,244.29 L369.2,243.28 L370.2,242.26 L371.2,241.24 L372.2,240.21 L373.2,239.18 L374.2,238.15 L375.2,237.12 L376.2,236.09 L377.2,235.05 L378.2,234.01 L379.2,232.97 L380.2,231.93 L381.2,230.89 L382.2,229.84 L383.2,228.8 L384.2,227.75 L385.2,226.71 L386.2,225.66 L387.2,224.61 L388.2,223.56 L389.2,222.51 L390.2,221.46 L391.2,220.42 L392.2,219.37 L393.2,218.32 L394.2,217.27 L395.2,216.23 L396.2,215.18 L397.2,214.14 L398.2,213.1 L399.2,212.06 L400.2,211.02 L401.2,209.98 L402.2,208.95 L403.2,207.91 L404.2,206.88 L405.2,205.85 L406.2,204.83 L407.2,203.8 L408.2,202.78 L409.2,201.77 L410.2,200.75 L411.2,199.74 L412.2,198.73 L413.2,197.72 L414.2,196.71 L415.2,195.71 L416.2,194.71 L417.2,193.71 L418.2,192.72 L419.2,191.73 L420.2,190.74 L421.2,189.75 L422.2,188.77 L423.2,187.79 L424.2,186.81 L425.2,185.83 L426.2,184.86 L427.2,183.89 L428.2,182.92 L429.2,181.95 L430.2,180.99 L431.2,180.03 L432.2,179.07 L433.2,178.12 L434.2,177.17 L435.2,176.22 L436.2,175.27 L437.2,174.33 L438.2,173.39 L439.2,172.45 L440.2,171.51 L441.2,170.58 L442.2,169.65 L443.2,168.72 L444.2,167.8 L445.2,166.87 L446.2,165.95 L447.2,165.04 L448.2,164.12 L449.2,163.21 L450.2,162.3 L451.2,161.4 L452.2,160.5 L453.2,159.6 L454.2,158.7 L455.2,157.8 L456.2,156.91 L457.2,156.02 L458.2,155.14 L459.2,154.25 L460.2,153.37 L461.2,152.49 L462.2,151.62 L463.2,150.75 L464.2,149.88 L465.2,149.01 L466.2,148.15 L467.2,147.29 L468.2,146.43 L469.2,145.57 L470.2,144.72 L471.2,143.87 L472.2,143.02 L473.2,142.18 L474.2,141.34 L475.2,140.5 L476.2,139.66 L477.2,138.83 L478.2,138 L479.2,137.17 L480.2,136.35 L481.2,135.53 L482.2,134.71 L483.2,133.89 L484.2,133.08 L485.2,132.27 L486.2,131.46 L487.2,130.66 L488.2,129.86 L489.2,129.06 L490.2,128.26 L491.2,127.47 L492.2,126.68 L493.2,125.89 L494.2,125.11 L495.2,124.33 L496.2,123.55 L497.2,122.78 L498.2,122 L499.2,121.24 L500.2,120.47 L501.2,119.71 L502.2,118.95 L503.2,118.19 L504.2,117.43 L505.2,116.68 L506.2,115.93 L507.2,115.19 L508.2,114.45 L509.2,113.71 L510.2,112.97 L511.2,112.24 L512.2,111.51 L513.2,110.78 L514.2,110.05 L515.2,109.33 L516.2,108.61 L517.2,107.9 L518.2,107.18 L519.2,106.47 L520.2,105.77 L521.2,105.06 L522.2,104.36 L523.2,103.67 L524.2,102.97 L525.2,102.28 L526.2,101.59 L527.2,100.91 L528.2,100.22 L529.2,99.54 L530.2,98.87 L531.2,98.19 L532.2,97.52 L533.2,96.86 L534.2,96.19 L535.2,95.53 L536.2,94.87 L537.2,94.22 L538.2,93.57 L539.2,92.92 L540.2,92.27 L541.2,91.63 L542.2,90.99 L543.2,90.35 L544.2,89.72 L545.2,89.09 L546.2,88.46 L547.2,87.84 L548.2,87.22 L549.2,86.6 L550.2,85.99 L551.2,85.38 L552.2,84.77 L553.2,84.16 L554.2,83.56 L555.2,82.96 L556.2,82.37 L557.2,81.77 L558.2,81.18 L559.2,80.6 L560.2,80.01 L561.2,79.43 L562.2,78.86 L563.2,78.28 L564.2,77.71 L565.2,77.15 L566.2,76.58 L567.2,76.02 L568.2,75.46 L569.2,74.91 L570.2,74.36 L571.2,73.81 L572.2,73.27 L573.2,72.72 L574.2,72.19 L575.2,71.65 L576.2,71.12 L577.2,70.59 L578.2,70.06 L579.2,69.54 L580.2,69.02 L581.2,68.51 L582.2,67.99 L583.2,67.49 L584.2,66.98 L585.2,66.48 L586.2,65.98 L587,65.58" fill="none" stroke="#008000" stroke-width="2.7" stroke-linejoin="round" stroke-linecap="round" />
<path d="M111.2,328.34 L112.2,328.24 L113.2,328.14 L114.2,328.04 L115.2,327.95 L116.2,327.86 L117.2,327.77 L118.2,327.69 L119.2,327.6 L120.2,327.53 L121.2,327.45 L122.2,327.38 L123.2,327.32 L124.2,327.25 L125.2,327.19 L126.2,327.13 L127.2,327.07 L128.2,327.02 L129.2,326.97 L130.2,326.92 L131.2,326.88 L132.2,326.84 L133.2,326.8 L134.2,326.76 L135.2,326.72 L136.2,326.69 L137.2,326.66 L138.2,326.63 L139.2,326.6 L140.2,326.58 L141.2,326.56 L142.2,326.54 L143.2,326.52 L144.2,326.5 L145.2,326.49 L146.2,326.47 L147.2,326.46 L148.2,326.45 L149.2,326.44 L150.2,326.43 L151.2,326.43 L152.2,326.42 L153.2,326.42 L154.2,326.42 L155.2,326.42 L156.2,326.42 L157.2,326.42 L158.2,326.43 L159.2,326.43 L160.2,326.43 L161.2,326.44 L162.2,326.45 L163.2,326.45 L164.2,326.46 L165.2,326.47 L166.2,326.48 L167.2,326.49 L168.2,326.5 L169.2,326.51 L170.2,326.52 L171.2,326.53 L172.2,326.54 L173.2,326.55 L174.2,326.56 L175.2,326.57 L176.2,326.58 L177.2,326.59 L178.2,326.6 L179.2,326.61 L180.2,326.62 L181.2,326.63 L182.2,326.64 L183.2,326.65 L184.2,326.66 L185.2,326.67 L186.2,326.68 L187.2,326.68 L188.2,326.69 L189.2,326.7 L190.2,326.7 L191.2,326.7 L192.2,326.71 L193.2,326.71 L194.2,326.71 L195.2,326.71 L196.2,326.71 L197.2,326.7 L198.2,326.7 L199.2,326.69 L200.2,326.69 L201.2,326.68 L202.2,326.67 L203.2,326.65 L204.2,326.64 L205.2,326.63 L206.2,326.61 L207.2,326.59 L208.2,326.57 L209.2,326.55 L210.2,326.52 L211.2,326.49 L212.2,326.46 L213.2,326.43 L214.2,326.4 L215.2,326.36 L216.2,326.33 L217.2,326.29 L218.2,326.24 L219.2,326.2 L220.2,326.15 L221.2,326.1 L222.2,326.04 L223.2,325.99 L224.2,325.93 L225.2,325.87 L226.2,325.8 L227.2,325.73 L228.2,325.66 L229.2,325.59 L230.2,325.51 L231.2,325.43 L232.2,325.34 L233.2,325.26 L234.2,325.17 L235.2,325.07 L236.2,324.97 L237.2,324.87 L238.2,324.77 L239.2,324.66 L240.2,324.55 L241.2,324.43 L242.2,324.31 L243.2,324.19 L244.2,324.06 L245.2,323.92 L246.2,323.79 L247.2,323.65 L248.2,323.5 L249.2,323.35 L250.2,323.2 L251.2,323.04 L252.2,322.88 L253.2,322.71 L254.2,322.54 L255.2,322.36 L256.2,322.18 L257.2,322 L258.2,321.81 L259.2,321.61 L260.2,321.41 L261.2,321.21 L262.2,321 L263.2,320.78 L264.2,320.56 L265.2,320.33 L266.2,320.1 L267.2,319.87 L268.2,319.62 L269.2,319.38 L270.2,319.12 L271.2,318.86 L272.2,318.6 L273.2,318.33 L274.2,318.06 L275.2,317.77 L276.2,317.49 L277.2,317.19 L278.2,316.89 L279.2,316.59 L280.2,316.28 L281.2,315.96 L282.2,315.64 L283.2,315.31 L284.2,314.97 L285.2,314.63 L286.2,314.28 L287.2,313.92 L288.2,313.56 L289.2,313.19 L290.2,312.81 L291.2,312.43 L292.2,312.04 L293.2,311.65 L294.2,311.24 L295.2,310.83 L296.2,310.42 L297.2,309.99 L298.2,309.56 L299.2,309.12 L300.2,308.68 L301.2,308.22 L302.2,307.76 L303.2,307.29 L304.2,306.82 L305.2,306.33 L306.2,305.84 L307.2,305.35 L308.2,304.84 L309.2,304.33 L310.2,303.8 L311.2,303.27 L312.2,302.74 L313.2,302.19 L314.2,301.64 L315.2,301.07 L316.2,300.5 L317.2,299.93 L318.2,299.34 L319.2,298.74 L320.2,298.14 L321.2,297.53 L322.2,296.91 L323.2,296.28 L324.2,295.64 L325.2,294.99 L326.2,294.34 L327.2,293.67 L328.2,293 L329.2,292.32 L330.2,291.63 L331.2,290.92 L332.2,290.22 L333.2,289.5 L334.2,288.77 L335.2,288.03 L336.2,287.29 L337.2,286.54 L338.2,285.78 L339.2,285.01 L340.2,284.23 L341.2,283.45 L342.2,282.66 L343.2,281.86 L344.2,281.05 L345.2,280.23 L346.2,279.41 L347.2,278.58 L348.2,277.75 L349.2,276.9 L350.2,276.05 L351.2,275.19 L352.2,274.33 L353.2,273.46 L354.2,272.58 L355.2,271.7 L356.2,270.81 L357.2,269.92 L358.2,269.02 L359.2,268.11 L360.2,267.2 L361.2,266.28 L362.2,265.36 L363.2,264.43 L364.2,263.49 L365.2,262.55 L366.2,261.61 L367.2,260.66 L368.2,259.71 L369.2,258.75 L370.2,257.79 L371.2,256.82 L372.2,255.85 L373.2,254.87 L374.2,253.89 L375.2,252.91 L376.2,251.92 L377.2,250.93 L378.2,249.94 L379.2,248.94 L380.2,247.94 L381.2,246.93 L382.2,245.92 L383.2,244.91 L384.2,243.9 L385.2,242.88 L386.2,241.86 L387.2,240.84 L388.2,239.82 L389.2,238.79 L390.2,237.76 L391.2,236.73 L392.2,235.7 L393.2,234.66 L394.2,233.63 L395.2,232.59 L396.2,231.55 L397.2,230.51 L398.2,229.47 L399.2,228.42 L400.2,227.38 L401.2,226.33 L402.2,225.29 L403.2,224.24 L404.2,223.19 L405.2,222.15 L406.2,221.1 L407.2,220.05 L408.2,219 L409.2,217.95 L410.2,216.9 L411.2,215.86 L412.2,214.81 L413.2,213.76 L414.2,212.71 L415.2,211.67 L416.2,210.62 L417.2,209.58 L418.2,208.54 L419.2,207.5 L420.2,206.45 L421.2,205.42 L422.2,204.38 L423.2,203.34 L424.2,202.31 L425.2,201.28 L426.2,200.25 L427.2,199.22 L428.2,198.19 L429.2,197.17 L430.2,196.15 L431.2,195.13 L432.2,194.11 L433.2,193.1 L434.2,192.09 L435.2,191.08 L436.2,190.08 L437.2,189.08 L438.2,188.08 L439.2,187.09 L440.2,186.1 L441.2,185.11 L442.2,184.13 L443.2,183.15 L444.2,182.17 L445.2,181.2 L446.2,180.23 L447.2,179.27 L448.2,178.31 L449.2,177.35 L450.2,176.4 L451.2,175.45 L452.2,174.5 L453.2,173.56 L454.2,172.62 L455.2,171.69 L456.2,170.75 L457.2,169.83 L458.2,168.9 L459.2,167.98 L460.2,167.06 L461.2,166.15 L462.2,165.24 L463.2,164.34 L464.2,163.43 L465.2,162.53 L466.2,161.64 L467.2,160.75 L468.2,159.86 L469.2,158.98 L470.2,158.09 L471.2,157.22 L472.2,156.34 L473.2,155.47 L474.2,154.61 L475.2,153.74 L476.2,152.88 L477.2,152.03 L478.2,151.18 L479.2,150.33 L480.2,149.48 L481.2,148.64 L482.2,147.8 L483.2,146.97 L484.2,146.14 L485.2,145.31 L486.2,144.48 L487.2,143.66 L488.2,142.85 L489.2,142.03 L490.2,141.22 L491.2,140.42 L492.2,139.61 L493.2,138.81 L494.2,138.02 L495.2,137.22 L496.2,136.43 L497.2,135.65 L498.2,134.86 L499.2,134.09 L500.2,133.31 L501.2,132.54 L502.2,131.77 L503.2,131 L504.2,130.24 L505.2,129.48 L506.2,128.73 L507.2,127.98 L508.2,127.23 L509.2,126.48 L510.2,125.74 L511.2,125 L512.2,124.27 L513.2,123.54 L514.2,122.81 L515.2,122.09 L516.2,121.36 L517.2,120.65 L518.2,119.93 L519.2,119.22 L520.2,118.51 L521.2,117.81 L522.2,117.11 L523.2,116.41 L524.2,115.72 L525.2,115.02 L526.2,114.34 L527.2,113.65 L528.2,112.97 L529.2,112.29 L530.2,111.62 L531.2,110.95 L532.2,110.28 L533.2,109.61 L534.2,108.95 L535.2,108.3 L536.2,107.64 L537.2,106.99 L538.2,106.34 L539.2,105.7 L540.2,105.05 L541.2,104.42 L542.2,103.78 L543.2,103.15 L544.2,102.52 L545.2,101.89 L546.2,101.27 L547.2,100.65 L548.2,100.04 L549.2,99.42 L550.2,98.81 L551.2,98.21 L552.2,97.61 L553.2,97.01 L554.2,96.41 L555.2,95.82 L556.2,95.23 L557.2,94.64 L558.2,94.05 L559.2,93.47 L560.2,92.9 L561.2,92.32 L562.2,91.75 L563.2,91.18 L564.2,90.62 L565.2,90.06 L566.2,89.5 L567.2,88.94 L568.2,88.39 L569.2,87.84 L570.2,87.29 L571.2,86.75 L572.2,86.21 L573.2,85.67 L574.2,85.14 L575.2,84.61 L576.2,84.08 L577.2,83.56 L578.2,83.04 L579.2,82.52 L580.2,82 L581.2,81.49 L582.2,80.98 L583.2,80.48 L584.2,79.97 L585.2,79.47 L586.2,78.98 L587,78.58" fill="none" stroke="#8000ff" stroke-width="2.7" stroke-linejoin="round" stroke-linecap="round" />
<path d="M111.2,328.29 L112.2,328.2 L113.2,328.12 L114.2,328.04 L115.2,327.96 L116.2,327.88 L117.2,327.81 L118.2,327.74 L119.2,327.68 L120.2,327.61 L121.2,327.55 L122.2,327.5 L123.2,327.44 L124.2,327.39 L125.2,327.35 L126.2,327.3 L127.2,327.26 L128.2,327.22 L129.2,327.18 L130.2,327.15 L131.2,327.11 L132.2,327.08 L133.2,327.06 L134.2,327.03 L135.2,327.01 L136.2,326.99 L137.2,326.97 L138.2,326.95 L139.2,326.94 L140.2,326.93 L141.2,326.92 L142.2,326.91 L143.2,326.9 L144.2,326.9 L145.2,326.89 L146.2,326.89 L147.2,326.89 L148.2,326.89 L149.2,326.9 L150.2,326.9 L151.2,326.91 L152.2,326.92 L153.2,326.92 L154.2,326.93 L155.2,326.94 L156.2,326.96 L157.2,326.97 L158.2,326.98 L159.2,327 L160.2,327.01 L161.2,327.03 L162.2,327.05 L163.2,327.06 L164.2,327.08 L165.2,327.1 L166.2,327.12 L167.2,327.14 L168.2,327.16 L169.2,327.18 L170.2,327.2 L171.2,327.22 L172.2,327.25 L173.2,327.27 L174.2,327.29 L175.2,327.31 L176.2,327.33 L177.2,327.35 L178.2,327.38 L179.2,327.4 L180.2,327.42 L181.2,327.44 L182.2,327.46 L183.2,327.48 L184.2,327.5 L185.2,327.52 L186.2,327.53 L187.2,327.55 L188.2,327.57 L189.2,327.58 L190.2,327.6 L191.2,327.61 L192.2,327.63 L193.2,327.64 L194.2,327.65 L195.2,327.66 L196.2,327.67 L197.2,327.68 L198.2,327.68 L199.2,327.69 L200.2,327.69 L201.2,327.69 L202.2,327.69 L203.2,327.69 L204.2,327.69 L205.2,327.69 L206.2,327.68 L207.2,327.67 L208.2,327.66 L209.2,327.65 L210.2,327.64 L211.2,327.62 L212.2,327.6 L213.2,327.58 L214.2,327.56 L215.2,327.54 L216.2,327.51 L217.2,327.48 L218.2,327.45 L219.2,327.42 L220.2,327.38 L221.2,327.34 L222.2,327.3 L223.2,327.26 L224.2,327.21 L225.2,327.16 L226.2,327.11 L227.2,327.05 L228.2,326.99 L229.2,326.93 L230.2,326.87 L231.2,326.8 L232.2,326.73 L233.2,326.66 L234.2,326.58 L235.2,326.5 L236.2,326.41 L237.2,326.33 L238.2,326.23 L239.2,326.14 L240.2,326.04 L241.2,325.94 L242.2,325.83 L243.2,325.72 L244.2,325.61 L245.2,325.49 L246.2,325.37 L247.2,325.24 L248.2,325.11 L249.2,324.98 L250.2,324.84 L251.2,324.7 L252.2,324.55 L253.2,324.4 L254.2,324.25 L255.2,324.09 L256.2,323.92 L257.2,323.75 L258.2,323.58 L259.2,323.4 L260.2,323.22 L261.2,323.03 L262.2,322.84 L263.2,322.64 L264.2,322.43 L265.2,322.23 L266.2,322.01 L267.2,321.79 L268.2,321.57 L269.2,321.34 L270.2,321.11 L271.2,320.87 L272.2,320.62 L273.2,320.37 L274.2,320.12 L275.2,319.85 L276.2,319.59 L277.2,319.31 L278.2,319.03 L279.2,318.75 L280.2,318.46 L281.2,318.16 L282.2,317.86 L283.2,317.55 L284.2,317.23 L285.2,316.91 L286.2,316.59 L287.2,316.25 L288.2,315.91 L289.2,315.57 L290.2,315.21 L291.2,314.85 L292.2,314.49 L293.2,314.11 L294.2,313.73 L295.2,313.35 L296.2,312.96 L297.2,312.56 L298.2,312.15 L299.2,311.74 L300.2,311.32 L301.2,310.9 L302.2,310.46 L303.2,310.02 L304.2,309.58 L305.2,309.12 L306.2,308.67 L307.2,308.2 L308.2,307.73 L309.2,307.25 L310.2,306.76 L311.2,306.26 L312.2,305.76 L313.2,305.26 L314.2,304.74 L315.2,304.22 L316.2,303.69 L317.2,303.16 L318.2,302.61 L319.2,302.06 L320.2,301.51 L321.2,300.94 L322.2,300.37 L323.2,299.79 L324.2,299.21 L325.2,298.62 L326.2,298.02 L327.2,297.41 L328.2,296.8 L329.2,296.18 L330.2,295.55 L331.2,294.91 L332.2,294.27 L333.2,293.62 L334.2,292.96 L335.2,292.3 L336.2,291.62 L337.2,290.94 L338.2,290.26 L339.2,289.56 L340.2,288.86 L341.2,288.15 L342.2,287.44 L343.2,286.71 L344.2,285.98 L345.2,285.24 L346.2,284.49 L347.2,283.74 L348.2,282.98 L349.2,282.21 L350.2,281.43 L351.2,280.64 L352.2,279.85 L353.2,279.05 L354.2,278.25 L355.2,277.43 L356.2,276.61 L357.2,275.78 L358.2,274.95 L359.2,274.1 L360.2,273.26 L361.2,272.4 L362.2,271.54 L363.2,270.67 L364.2,269.8 L365.2,268.92 L366.2,268.03 L367.2,267.14 L368.2,266.24 L369.2,265.34 L370.2,264.43 L371.2,263.51 L372.2,262.59 L373.2,261.67 L374.2,260.74 L375.2,259.8 L376.2,258.86 L377.2,257.92 L378.2,256.97 L379.2,256.01 L380.2,255.06 L381.2,254.09 L382.2,253.12 L383.2,252.15 L384.2,251.18 L385.2,250.2 L386.2,249.21 L387.2,248.23 L388.2,247.24 L389.2,246.24 L390.2,245.25 L391.2,244.24 L392.2,243.24 L393.2,242.23 L394.2,241.22 L395.2,240.21 L396.2,239.19 L397.2,238.18 L398.2,237.16 L399.2,236.13 L400.2,235.11 L401.2,234.08 L402.2,233.05 L403.2,232.02 L404.2,230.98 L405.2,229.95 L406.2,228.91 L407.2,227.87 L408.2,226.83 L409.2,225.79 L410.2,224.75 L411.2,223.7 L412.2,222.66 L413.2,221.61 L414.2,220.57 L415.2,219.52 L416.2,218.47 L417.2,217.42 L418.2,216.37 L419.2,215.32 L420.2,214.27 L421.2,213.22 L422.2,212.18 L423.2,211.13 L424.2,210.08 L425.2,209.03 L426.2,207.98 L427.2,206.93 L428.2,205.89 L429.2,204.84 L430.2,203.8 L431.2,202.75 L432.2,201.71 L433.2,200.67 L434.2,199.63 L435.2,198.59 L436.2,197.55 L437.2,196.52 L438.2,195.49 L439.2,194.45 L440.2,193.42 L441.2,192.4 L442.2,191.37 L443.2,190.35 L444.2,189.33 L445.2,188.31 L446.2,187.3 L447.2,186.28 L448.2,185.27 L449.2,184.27 L450.2,183.26 L451.2,182.26 L452.2,181.27 L453.2,180.27 L454.2,179.28 L455.2,178.3 L456.2,177.31 L457.2,176.34 L458.2,175.36 L459.2,174.39 L460.2,173.42 L461.2,172.46 L462.2,171.5 L463.2,170.55 L464.2,169.6 L465.2,168.66 L466.2,167.72 L467.2,166.78 L468.2,165.85 L469.2,164.93 L470.2,164.01 L471.2,163.09 L472.2,162.18 L473.2,161.28 L474.2,160.37 L475.2,159.48 L476.2,158.58 L477.2,157.7 L478.2,156.81 L479.2,155.93 L480.2,155.06 L481.2,154.19 L482.2,153.32 L483.2,152.46 L484.2,151.61 L485.2,150.75 L486.2,149.91 L487.2,149.06 L488.2,148.22 L489.2,147.39 L490.2,146.56 L491.2,145.73 L492.2,144.91 L493.2,144.09 L494.2,143.28 L495.2,142.47 L496.2,141.66 L497.2,140.86 L498.2,140.07 L499.2,139.27 L500.2,138.48 L501.2,137.7 L502.2,136.92 L503.2,136.14 L504.2,135.37 L505.2,134.6 L506.2,133.83 L507.2,133.07 L508.2,132.32 L509.2,131.56 L510.2,130.81 L511.2,130.07 L512.2,129.33 L513.2,128.59 L514.2,127.85 L515.2,127.12 L516.2,126.4 L517.2,125.67 L518.2,124.95 L519.2,124.24 L520.2,123.53 L521.2,122.82 L522.2,122.11 L523.2,121.41 L524.2,120.71 L525.2,120.02 L526.2,119.33 L527.2,118.64 L528.2,117.96 L529.2,117.28 L530.2,116.6 L531.2,115.92 L532.2,115.25 L533.2,114.59 L534.2,113.92 L535.2,113.26 L536.2,112.61 L537.2,111.95 L538.2,111.3 L539.2,110.65 L540.2,110.01 L541.2,109.37 L542.2,108.73 L543.2,108.1 L544.2,107.47 L545.2,106.84 L546.2,106.21 L547.2,105.59 L548.2,104.97 L549.2,104.35 L550.2,103.74 L551.2,103.13 L552.2,102.52 L553.2,101.92 L554.2,101.32 L555.2,100.72 L556.2,100.12 L557.2,99.53 L558.2,98.94 L559.2,98.35 L560.2,97.77 L561.2,97.19 L562.2,96.61 L563.2,96.03 L564.2,95.46 L565.2,94.89 L566.2,94.32 L567.2,93.75 L568.2,93.19 L569.2,92.63 L570.2,92.07 L571.2,91.51 L572.2,90.96 L573.2,90.41 L574.2,89.86 L575.2,89.32 L576.2,88.77 L577.2,88.23 L578.2,87.69 L579.2,87.16 L580.2,86.62 L581.2,86.09 L582.2,85.56 L583.2,85.04 L584.2,84.51 L585.2,83.99 L586.2,83.47 L587,83.05" fill="none" stroke="#800000" stroke-width="2.7" stroke-linejoin="round" stroke-linecap="round" />
<path d="M111.2,327.95 L112.2,327.86 L113.2,327.78 L114.2,327.69 L115.2,327.61 L116.2,327.54 L117.2,327.46 L118.2,327.39 L119.2,327.32 L120.2,327.25 L121.2,327.18 L122.2,327.12 L123.2,327.06 L124.2,327 L125.2,326.94 L126.2,326.89 L127.2,326.84 L128.2,326.79 L129.2,326.74 L130.2,326.69 L131.2,326.64 L132.2,326.6 L133.2,326.56 L134.2,326.52 L135.2,326.48 L136.2,326.45 L137.2,326.41 L138.2,326.38 L139.2,326.35 L140.2,326.32 L141.2,326.29 L142.2,326.26 L143.2,326.24 L144.2,326.21 L145.2,326.19 L146.2,326.17 L147.2,326.15 L148.2,326.13 L149.2,326.11 L150.2,326.09 L151.2,326.08 L152.2,326.06 L153.2,326.05 L154.2,326.04 L155.2,326.03 L156.2,326.01 L157.2,326 L158.2,325.99 L159.2,325.99 L160.2,325.98 L161.2,325.97 L162.2,325.96 L163.2,325.96 L164.2,325.95 L165.2,325.95 L166.2,325.94 L167.2,325.94 L168.2,325.93 L169.2,325.93 L170.2,325.93 L171.2,325.92 L172.2,325.92 L173.2,325.92 L174.2,325.92 L175.2,325.91 L176.2,325.91 L177.2,325.91 L178.2,325.91 L179.2,325.9 L180.2,325.9 L181.2,325.9 L182.2,325.89 L183.2,325.89 L184.2,325.89 L185.2,325.88 L186.2,325.88 L187.2,325.87 L188.2,325.87 L189.2,325.86 L190.2,325.86 L191.2,325.85 L192.2,325.84 L193.2,325.84 L194.2,325.83 L195.2,325.82 L196.2,325.81 L197.2,325.8 L198.2,325.79 L199.2,325.77 L200.2,325.76 L201.2,325.74 L202.2,325.73 L203.2,325.71 L204.2,325.69 L205.2,325.68 L206.2,325.66 L207.2,325.63 L208.2,325.61 L209.2,325.59 L210.2,325.56 L211.2,325.54 L212.2,325.51 L213.2,325.48 L214.2,325.45 L215.2,325.41 L216.2,325.38 L217.2,325.34 L218.2,325.31 L219.2,325.27 L220.2,325.23 L221.2,325.18 L222.2,325.14 L223.2,325.09 L224.2,325.04 L225.2,324.99 L226.2,324.94 L227.2,324.89 L228.2,324.83 L229.2,324.77 L230.2,324.71 L231.2,324.65 L232.2,324.58 L233.2,324.52 L234.2,324.45 L235.2,324.37 L236.2,324.3 L237.2,324.22 L238.2,324.14 L239.2,324.06 L240.2,323.97 L241.2,323.89 L242.2,323.8 L243.2,323.7 L244.2,323.61 L245.2,323.51 L246.2,323.41 L247.2,323.31 L248.2,323.2 L249.2,323.09 L250.2,322.98 L251.2,322.86 L252.2,322.74 L253.2,322.62 L254.2,322.5 L255.2,322.37 L256.2,322.24 L257.2,322.1 L258.2,321.96 L259.2,321.82 L260.2,321.68 L261.2,321.53 L262.2,321.38 L263.2,321.22 L264.2,321.06 L265.2,320.9 L266.2,320.73 L267.2,320.56 L268.2,320.39 L269.2,320.21 L270.2,320.03 L271.2,319.85 L272.2,319.66 L273.2,319.47 L274.2,319.27 L275.2,319.07 L276.2,318.86 L277.2,318.65 L278.2,318.44 L279.2,318.22 L280.2,318 L281.2,317.77 L282.2,317.54 L283.2,317.31 L284.2,317.06 L285.2,316.82 L286.2,316.57 L287.2,316.31 L288.2,316.05 L289.2,315.79 L290.2,315.52 L291.2,315.24 L292.2,314.96 L293.2,314.68 L294.2,314.38 L295.2,314.09 L296.2,313.79 L297.2,313.48 L298.2,313.16 L299.2,312.85 L300.2,312.52 L301.2,312.19 L302.2,311.85 L303.2,311.51 L304.2,311.16 L305.2,310.81 L306.2,310.45 L307.2,310.08 L308.2,309.71 L309.2,309.33 L310.2,308.95 L311.2,308.55 L312.2,308.16 L313.2,307.75 L314.2,307.34 L315.2,306.92 L316.2,306.5 L317.2,306.06 L318.2,305.63 L319.2,305.18 L320.2,304.73 L321.2,304.27 L322.2,303.8 L323.2,303.33 L324.2,302.84 L325.2,302.36 L326.2,301.86 L327.2,301.36 L328.2,300.85 L329.2,300.33 L330.2,299.8 L331.2,299.27 L332.2,298.72 L333.2,298.17 L334.2,297.62 L335.2,297.05 L336.2,296.48 L337.2,295.9 L338.2,295.31 L339.2,294.71 L340.2,294.1 L341.2,293.49 L342.2,292.86 L343.2,292.23 L344.2,291.59 L345.2,290.94 L346.2,290.28 L347.2,289.62 L348.2,288.94 L349.2,288.26 L350.2,287.56 L351.2,286.86 L352.2,286.15 L353.2,285.43 L354.2,284.7 L355.2,283.97 L356.2,283.22 L357.2,282.47 L358.2,281.71 L359.2,280.94 L360.2,280.16 L361.2,279.38 L362.2,278.59 L363.2,277.79 L364.2,276.98 L365.2,276.17 L366.2,275.35 L367.2,274.53 L368.2,273.69 L369.2,272.85 L370.2,272.01 L371.2,271.16 L372.2,270.3 L373.2,269.44 L374.2,268.57 L375.2,267.69 L376.2,266.81 L377.2,265.93 L378.2,265.04 L379.2,264.14 L380.2,263.24 L381.2,262.34 L382.2,261.43 L383.2,260.52 L384.2,259.6 L385.2,258.68 L386.2,257.75 L387.2,256.82 L388.2,255.89 L389.2,254.95 L390.2,254.01 L391.2,253.07 L392.2,252.12 L393.2,251.17 L394.2,250.22 L395.2,249.27 L396.2,248.31 L397.2,247.35 L398.2,246.39 L399.2,245.43 L400.2,244.46 L401.2,243.49 L402.2,242.52 L403.2,241.55 L404.2,240.58 L405.2,239.61 L406.2,238.63 L407.2,237.66 L408.2,236.68 L409.2,235.7 L410.2,234.73 L411.2,233.75 L412.2,232.77 L413.2,231.79 L414.2,230.81 L415.2,229.82 L416.2,228.84 L417.2,227.86 L418.2,226.88 L419.2,225.89 L420.2,224.91 L421.2,223.92 L422.2,222.94 L423.2,221.95 L424.2,220.97 L425.2,219.98 L426.2,219 L427.2,218.01 L428.2,217.03 L429.2,216.04 L430.2,215.06 L431.2,214.07 L432.2,213.09 L433.2,212.1 L434.2,211.12 L435.2,210.14 L436.2,209.15 L437.2,208.17 L438.2,207.19 L439.2,206.21 L440.2,205.23 L441.2,204.25 L442.2,203.27 L443.2,202.29 L444.2,201.31 L445.2,200.34 L446.2,199.36 L447.2,198.39 L448.2,197.41 L449.2,196.44 L450.2,195.47 L451.2,194.5 L452.2,193.53 L453.2,192.56 L454.2,191.6 L455.2,190.63 L456.2,189.67 L457.2,188.71 L458.2,187.75 L459.2,186.79 L460.2,185.83 L461.2,184.88 L462.2,183.93 L463.2,182.97 L464.2,182.03 L465.2,181.08 L466.2,180.13 L467.2,179.19 L468.2,178.25 L469.2,177.31 L470.2,176.37 L471.2,175.44 L472.2,174.51 L473.2,173.58 L474.2,172.65 L475.2,171.72 L476.2,170.8 L477.2,169.88 L478.2,168.96 L479.2,168.05 L480.2,167.14 L481.2,166.23 L482.2,165.32 L483.2,164.42 L484.2,163.52 L485.2,162.62 L486.2,161.72 L487.2,160.83 L488.2,159.95 L489.2,159.06 L490.2,158.18 L491.2,157.3 L492.2,156.42 L493.2,155.55 L494.2,154.68 L495.2,153.82 L496.2,152.96 L497.2,152.1 L498.2,151.24 L499.2,150.39 L500.2,149.55 L501.2,148.7 L502.2,147.87 L503.2,147.03 L504.2,146.2 L505.2,145.37 L506.2,144.55 L507.2,143.73 L508.2,142.91 L509.2,142.1 L510.2,141.3 L511.2,140.49 L512.2,139.7 L513.2,138.9 L514.2,138.11 L515.2,137.33 L516.2,136.55 L517.2,135.77 L518.2,135 L519.2,134.24 L520.2,133.48 L521.2,132.72 L522.2,131.97 L523.2,131.22 L524.2,130.48 L525.2,129.74 L526.2,129.01 L527.2,128.29 L528.2,127.57 L529.2,126.85 L530.2,126.14 L531.2,125.43 L532.2,124.73 L533.2,124.04 L534.2,123.35 L535.2,122.67 L536.2,121.99 L537.2,121.31 L538.2,120.64 L539.2,119.98 L540.2,119.32 L541.2,118.66 L542.2,118.01 L543.2,117.36 L544.2,116.72 L545.2,116.09 L546.2,115.45 L547.2,114.82 L548.2,114.2 L549.2,113.58 L550.2,112.96 L551.2,112.35 L552.2,111.74 L553.2,111.14 L554.2,110.54 L555.2,109.94 L556.2,109.35 L557.2,108.76 L558.2,108.18 L559.2,107.6 L560.2,107.02 L561.2,106.45 L562.2,105.88 L563.2,105.31 L564.2,104.74 L565.2,104.18 L566.2,103.63 L567.2,103.07 L568.2,102.52 L569.2,101.97 L570.2,101.43 L571.2,100.88 L572.2,100.34 L573.2,99.81 L574.2,99.27 L575.2,98.74 L576.2,98.21 L577.2,97.68 L578.2,97.16 L579.2,96.64 L580.2,96.12 L581.2,95.6 L582.2,95.08 L583.2,94.57 L584.2,94.06 L585.2,93.55 L586.2,93.04 L587,92.64" fill="none" stroke="#00ffff" stroke-width="2.7" stroke-linejoin="round" stroke-linecap="round" />
<path d="M111.2,328.65 L112.2,328.56 L113.2,328.48 L114.2,328.39 L115.2,328.31 L116.2,328.24 L117.2,328.16 L118.2,328.09 L119.2,328.02 L120.2,327.95 L121.2,327.88 L122.2,327.82 L123.2,327.76 L124.2,327.7 L125.2,327.64 L126.2,327.59 L127.2,327.54 L128.2,327.49 L129.2,327.44 L130.2,327.39 L131.2,327.34 L132.2,327.3 L133.2,327.26 L134.2,327.22 L135.2,327.18 L136.2,327.15 L137.2,327.11 L138.2,327.08 L139.2,327.05 L140.2,327.02 L141.2,326.99 L142.2,326.96 L143.2,326.94 L144.2,326.91 L145.2,326.89 L146.2,326.87 L147.2,326.85 L148.2,326.83 L149.2,326.81 L150.2,326.79 L151.2,326.78 L152.2,326.76 L153.2,326.75 L154.2,326.74 L155.2,326.73 L156.2,326.71 L157.2,326.7 L158.2,326.69 L159.2,326.69 L160.2,326.68 L161.2,326.67 L162.2,326.66 L163.2,326.66 L164.2,326.65 L165.2,326.65 L166.2,326.64 L167.2,326.64 L168.2,326.63 L169.2,326.63 L170.2,326.63 L171.2,326.62 L172.2,326.62 L173.2,326.62 L174.2,326.62 L175.2,326.61 L176.2,326.61 L177.2,326.61 L178.2,326.61 L179.2,326.6 L180.2,326.6 L181.2,326.6 L182.2,326.59 L183.2,326.59 L184.2,326.59 L185.2,326.58 L186.2,326.58 L187.2,326.57 L188.2,326.57 L189.2,326.56 L190.2,326.56 L191.2,326.55 L192.2,326.54 L193.2,326.54 L194.2,326.53 L195.2,326.52 L196.2,326.51 L197.2,326.5 L198.2,326.49 L199.2,326.47 L200.2,326.46 L201.2,326.44 L202.2,326.43 L203.2,326.41 L204.2,326.39 L205.2,326.38 L206.2,326.36 L207.2,326.33 L208.2,326.31 L209.2,326.29 L210.2,326.26 L211.2,326.24 L212.2,326.21 L213.2,326.18 L214.2,326.15 L215.2,326.11 L216.2,326.08 L217.2,326.04 L218.2,326.01 L219.2,325.97 L220.2,325.93 L221.2,325.88 L222.2,325.84 L223.2,325.79 L224.2,325.74 L225.2,325.69 L226.2,325.64 L227.2,325.59 L228.2,325.53 L229.2,325.47 L230.2,325.41 L231.2,325.35 L232.2,325.28 L233.2,325.22 L234.2,325.15 L235.2,325.07 L236.2,325 L237.2,324.92 L238.2,324.84 L239.2,324.76 L240.2,324.67 L241.2,324.59 L242.2,324.5 L243.2,324.4 L244.2,324.31 L245.2,324.21 L246.2,324.11 L247.2,324.01 L248.2,323.9 L249.2,323.79 L250.2,323.68 L251.2,323.56 L252.2,323.44 L253.2,323.32 L254.2,323.2 L255.2,323.07 L256.2,322.94 L257.2,322.8 L258.2,322.66 L259.2,322.52 L260.2,322.38 L261.2,322.23 L262.2,322.08 L263.2,321.92 L264.2,321.76 L265.2,321.6 L266.2,321.43 L267.2,321.26 L268.2,321.09 L269.2,320.91 L270.2,320.73 L271.2,320.55 L272.2,320.36 L273.2,320.17 L274.2,319.97 L275.2,319.77 L276.2,319.56 L277.2,319.35 L278.2,319.14 L279.2,318.92 L280.2,318.7 L281.2,318.47 L282.2,318.24 L283.2,318.01 L284.2,317.76 L285.2,317.52 L286.2,317.27 L287.2,317.01 L288.2,316.75 L289.2,316.49 L290.2,316.22 L291.2,315.94 L292.2,315.66 L293.2,315.38 L294.2,315.08 L295.2,314.79 L296.2,314.49 L297.2,314.18 L298.2,313.86 L299.2,313.55 L300.2,313.22 L301.2,312.89 L302.2,312.55 L303.2,312.21 L304.2,311.86 L305.2,311.51 L306.2,311.15 L307.2,310.78 L308.2,310.41 L309.2,310.03 L310.2,309.65 L311.2,309.25 L312.2,308.86 L313.2,308.45 L314.2,308.04 L315.2,307.62 L316.2,307.2 L317.2,306.76 L318.2,306.33 L319.2,305.88 L320.2,305.43 L321.2,304.97 L322.2,304.5 L323.2,304.03 L324.2,303.54 L325.2,303.06 L326.2,302.56 L327.2,302.06 L328.2,301.55 L329.2,301.03 L330.2,300.5 L331.2,299.97 L332.2,299.42 L333.2,298.87 L334.2,298.32 L335.2,297.75 L336.2,297.18 L337.2,296.6 L338.2,296.01 L339.2,295.41 L340.2,294.8 L341.2,294.19 L342.2,293.56 L343.2,292.93 L344.2,292.29 L345.2,291.64 L346.2,290.98 L347.2,290.32 L348.2,289.64 L349.2,288.96 L350.2,288.26 L351.2,287.56 L352.2,286.85 L353.2,286.13 L354.2,285.4 L355.2,284.67 L356.2,283.92 L357.2,283.17 L358.2,282.41 L359.2,281.64 L360.2,280.86 L361.2,280.08 L362.2,279.29 L363.2,278.49 L364.2,277.68 L365.2,276.87 L366.2,276.05 L367.2,275.23 L368.2,274.39 L369.2,273.55 L370.2,272.71 L371.2,271.86 L372.2,271 L373.2,270.14 L374.2,269.27 L375.2,268.39 L376.2,267.51 L377.2,266.63 L378.2,265.74 L379.2,264.84 L380.2,263.94 L381.2,263.04 L382.2,262.13 L383.2,261.22 L384.2,260.3 L385.2,259.38 L386.2,258.45 L387.2,257.52 L388.2,256.59 L389.2,255.65 L390.2,254.71 L391.2,253.77 L392.2,252.82 L393.2,251.87 L394.2,250.92 L395.2,249.97 L396.2,249.01 L397.2,248.05 L398.2,247.09 L399.2,246.13 L400.2,245.16 L401.2,244.19 L402.2,243.22 L403.2,242.25 L404.2,241.28 L405.2,240.31 L406.2,239.33 L407.2,238.36 L408.2,237.38 L409.2,236.4 L410.2,235.43 L411.2,234.45 L412.2,233.47 L413.2,232.49 L414.2,231.51 L415.2,230.52 L416.2,229.54 L417.2,228.56 L418.2,227.58 L419.2,226.59 L420.2,225.61 L421.2,224.62 L422.2,223.64 L423.2,222.65 L424.2,221.67 L425.2,220.68 L426.2,219.7 L427.2,218.71 L428.2,217.73 L429.2,216.74 L430.2,215.76 L431.2,214.77 L432.2,213.79 L433.2,212.8 L434.2,211.82 L435.2,210.84 L436.2,209.85 L437.2,208.87 L438.2,207.89 L439.2,206.91 L440.2,205.93 L441.2,204.95 L442.2,203.97 L443.2,202.99 L444.2,202.01 L445.2,201.04 L446.2,200.06 L447.2,199.09 L448.2,198.11 L449.2,197.14 L450.2,196.17 L451.2,195.2 L452.2,194.23 L453.2,193.26 L454.2,192.3 L455.2,191.33 L456.2,190.37 L457.2,189.41 L458.2,188.45 L459.2,187.49 L460.2,186.53 L461.2,185.58 L462.2,184.63 L463.2,183.67 L464.2,182.73 L465.2,181.78 L466.2,180.83 L467.2,179.89 L468.2,178.95 L469.2,178.01 L470.2,177.07 L471.2,176.14 L472.2,175.21 L473.2,174.28 L474.2,173.35 L475.2,172.42 L476.2,171.5 L477.2,170.58 L478.2,169.66 L479.2,168.75 L480.2,167.84 L481.2,166.93 L482.2,166.02 L483.2,165.12 L484.2,164.22 L485.2,163.32 L486.2,162.42 L487.2,161.53 L488.2,160.65 L489.2,159.76 L490.2,158.88 L491.2,158 L492.2,157.12 L493.2,156.25 L494.2,155.38 L495.2,154.52 L496.2,153.66 L497.2,152.8 L498.2,151.94 L499.2,151.09 L500.2,150.25 L501.2,149.4 L502.2,148.57 L503.2,147.73 L504.2,146.9 L505.2,146.07 L506.2,145.25 L507.2,144.43 L508.2,143.61 L509.2,142.8 L510.2,142 L511.2,141.19 L512.2,140.4 L513.2,139.6 L514.2,138.81 L515.2,138.03 L516.2,137.25 L517.2,136.47 L518.2,135.7 L519.2,134.94 L520.2,134.18 L521.2,133.42 L522.2,132.67 L523.2,131.92 L524.2,131.18 L525.2,130.44 L526.2,129.71 L527.2,128.99 L528.2,128.27 L529.2,127.55 L530.2,126.84 L531.2,126.13 L532.2,125.43 L533.2,124.74 L534.2,124.05 L535.2,123.37 L536.2,122.69 L537.2,122.01 L538.2,121.34 L539.2,120.68 L540.2,120.02 L541.2,119.36 L542.2,118.71 L543.2,118.06 L544.2,117.42 L545.2,116.79 L546.2,116.15 L547.2,115.52 L548.2,114.9 L549.2,114.28 L550.2,113.66 L551.2,113.05 L552.2,112.44 L553.2,111.84 L554.2,111.24 L555.2,110.64 L556.2,110.05 L557.2,109.46 L558.2,108.88 L559.2,108.3 L560.2,107.72 L561.2,107.15 L562.2,106.58 L563.2,106.01 L564.2,105.44 L565.2,104.88 L566.2,104.33 L567.2,103.77 L568.2,103.22 L569.2,102.67 L570.2,102.13 L571.2,101.58 L572.2,101.04 L573.2,100.51 L574.2,99.97 L575.2,99.44 L576.2,98.91 L577.2,98.38 L578.2,97.86 L579.2,97.34 L580.2,96.82 L581.2,96.3 L582.2,95.78 L583.2,95.27 L584.2,94.76 L585.2,94.25 L586.2,93.74 L587,93.34" fill="none" stroke="#0000ff" stroke-width="2.7" stroke-linejoin="round" stroke-linecap="round" />
</g>
<text x="111" y="352.3" font-size="17.5" text-anchor="middle" style="font-family:'Liberation Serif',serif;" >0</text>
<text x="206.02" y="352.3" font-size="17.5" text-anchor="middle" style="font-family:'Liberation Serif',serif;" >1000</text>
<text x="301.04" y="352.3" font-size="17.5" text-anchor="middle" style="font-family:'Liberation Serif',serif;" >2000</text>
<text x="396.06" y="352.3" font-size="17.5" text-anchor="middle" style="font-family:'Liberation Serif',serif;" >3000</text>
<text x="491.08" y="352.3" font-size="17.5" text-anchor="middle" style="font-family:'Liberation Serif',serif;" >4000</text>
<text x="586.1" y="352.3" font-size="17.5" text-anchor="middle" style="font-family:'Liberation Serif',serif;" >5000</text>
<text x="108.5" y="332.3" font-size="17.5" text-anchor="end" style="font-family:'Liberation Serif',serif;" >0</text>
<text x="108.8" y="207.88" font-size="17.5" text-anchor="end" style="font-family:'Liberation Serif',serif;" >4x10<tspan font-size="12" dy="-7.8">6</tspan></text>
<text x="108.8" y="81.16" font-size="17.5" text-anchor="end" style="font-family:'Liberation Serif',serif;" >8x10<tspan font-size="12" dy="-7.8">6</tspan></text>
<line x1="505.3" y1="155.9" x2="541.7" y2="155.9" stroke="#ff0000" stroke-width="2.6" />
<text x="546" y="161" font-size="15.3" text-anchor="start" style="font-family:'Liberation Serif',serif;" >350 K</text>
<line x1="505.3" y1="175.97" x2="541.7" y2="175.97" stroke="#ff8000" stroke-width="2.6" />
<text x="569" y="181.07" font-size="15.3" text-anchor="end" style="font-family:'Liberation Serif',serif;" >300</text>
<line x1="505.3" y1="196.04" x2="541.7" y2="196.04" stroke="#ff00ff" stroke-width="2.6" />
<text x="569" y="201.14" font-size="15.3" text-anchor="end" style="font-family:'Liberation Serif',serif;" >250</text>
<line x1="505.3" y1="216.11" x2="541.7" y2="216.11" stroke="#808080" stroke-width="2.6" />
<text x="569" y="221.21" font-size="15.3" text-anchor="end" style="font-family:'Liberation Serif',serif;" >200</text>
<line x1="505.3" y1="236.18" x2="541.7" y2="236.18" stroke="#008000" stroke-width="2.6" />
<text x="569" y="241.28" font-size="15.3" text-anchor="end" style="font-family:'Liberation Serif',serif;" >150</text>
<line x1="505.3" y1="256.25" x2="541.7" y2="256.25" stroke="#8000ff" stroke-width="2.6" />
<text x="569" y="261.35" font-size="15.3" text-anchor="end" style="font-family:'Liberation Serif',serif;" >100</text>
<line x1="505.3" y1="276.32" x2="541.7" y2="276.32" stroke="#800000" stroke-width="2.6" />
<text x="569" y="281.42" font-size="15.3" text-anchor="end" style="font-family:'Liberation Serif',serif;" >80</text>
<line x1="505.3" y1="296.39" x2="541.7" y2="296.39" stroke="#00ffff" stroke-width="2.6" />
<text x="569" y="301.49" font-size="15.3" text-anchor="end" style="font-family:'Liberation Serif',serif;" >30</text>
<line x1="505.3" y1="316.46" x2="541.7" y2="316.46" stroke="#0000ff" stroke-width="2.6" />
<text x="569" y="321.56" font-size="15.3" text-anchor="end" style="font-family:'Liberation Serif',serif;" >9</text>
<rect x="139.2" y="25.1" width="181.3" height="131.9" fill="#fff" stroke="none"/>
<g clip-path="url(#clipI)">
<path d="M139.2,107.98 L139.9,107.83 L140.6,107.68 L141.3,107.52 L142,107.36 L142.7,107.2 L143.4,107.03 L144.1,106.86 L144.8,106.69 L145.5,106.52 L146.2,106.34 L146.9,106.16 L147.6,105.98 L148.3,105.79 L149,105.6 L149.7,105.41 L150.4,105.22 L151.1,105.02 L151.8,104.83 L152.5,104.63 L153.2,104.42 L153.9,104.22 L154.6,104.01 L155.3,103.8 L156,103.58 L156.7,103.37 L157.4,103.15 L158.1,102.93 L158.8,102.7 L159.5,102.48 L160.2,102.25 L160.9,102.02 L161.6,101.78 L162.3,101.55 L163,101.31 L163.7,101.07 L164.4,100.83 L165.1,100.58 L165.8,100.34 L166.5,100.09 L167.2,99.84 L167.9,99.58 L168.6,99.33 L169.3,99.07 L170,98.81 L170.7,98.55 L171.4,98.29 L172.1,98.02 L172.8,97.75 L173.5,97.48 L174.2,97.21 L174.9,96.94 L175.6,96.66 L176.3,96.38 L177,96.1 L177.7,95.82 L178.4,95.54 L179.1,95.25 L179.8,94.96 L180.5,94.68 L181.2,94.38 L181.9,94.09 L182.6,93.8 L183.3,93.5 L184,93.2 L184.7,92.9 L185.4,92.6 L186.1,92.3 L186.8,91.99 L187.5,91.69 L188.2,91.38 L188.9,91.07 L189.6,90.76 L190.3,90.45 L191,90.13 L191.7,89.82 L192.4,89.5 L193.1,89.18 L193.8,88.86 L194.5,88.54 L195.2,88.21 L195.9,87.89 L196.6,87.56 L197.3,87.24 L198,86.91 L198.7,86.58 L199.4,86.24 L200.1,85.91 L200.8,85.58 L201.5,85.24 L202.2,84.91 L202.9,84.57 L203.6,84.23 L204.3,83.89 L205,83.55 L205.7,83.21 L206.4,82.86 L207.1,82.52 L207.8,82.17 L208.5,81.82 L209.2,81.48 L209.9,81.13 L210.6,80.78 L211.3,80.43 L212,80.07 L212.7,79.72 L213.4,79.37 L214.1,79.01 L214.8,78.66 L215.5,78.3 L216.2,77.94 L216.9,77.58 L217.6,77.23 L218.3,76.87 L219,76.5 L219.7,76.14 L220.4,75.78 L221.1,75.42 L221.8,75.05 L222.5,74.69 L223.2,74.32 L223.9,73.96 L224.6,73.59 L225.3,73.23 L226,72.86 L226.7,72.49 L227.4,72.12 L228.1,71.75 L228.8,71.38 L229.5,71.01 L230.2,70.64 L230.9,70.27 L231.6,69.9 L232.3,69.53 L233,69.16 L233.7,68.78 L234.4,68.41 L235.1,68.04 L235.8,67.66 L236.5,67.29 L237.2,66.91 L237.9,66.54 L238.6,66.17 L239.3,65.79 L240,65.42 L240.7,65.04 L241.4,64.67 L242.1,64.29 L242.8,63.92 L243.5,63.54 L244.2,63.16 L244.9,62.79 L245.6,62.41 L246.3,62.04 L247,61.66 L247.7,61.29 L248.4,60.91 L249.1,60.54 L249.8,60.16 L250.5,59.79 L251.2,59.41 L251.9,59.04 L252.6,58.66 L253.3,58.29 L254,57.91 L254.7,57.54 L255.4,57.17 L256.1,56.79 L256.8,56.42 L257.5,56.05 L258.2,55.68 L258.9,55.3 L259.6,54.93 L260.3,54.56 L261,54.19 L261.7,53.82 L262.4,53.45 L263.1,53.08 L263.8,52.71 L264.5,52.35 L265.2,51.98 L265.9,51.61 L266.6,51.24 L267.3,50.88 L268,50.51 L268.7,50.15 L269.4,49.79 L270.1,49.42 L270.8,49.06 L271.5,48.7 L272.2,48.34 L272.9,47.98 L273.6,47.62 L274.3,47.26 L275,46.9 L275.7,46.55 L276.4,46.19 L277.1,45.84 L277.8,45.48 L278.5,45.13 L279.2,44.78 L279.9,44.43 L280.6,44.08 L281.3,43.73 L282,43.38 L282.7,43.04 L283.4,42.69 L284.1,42.35 L284.8,42 L285.5,41.66 L286.2,41.32 L286.9,40.98 L287.6,40.64 L288.3,40.3 L289,39.97 L289.7,39.63 L290.4,39.3 L291.1,38.97 L291.8,38.63 L292.5,38.31 L293.2,37.98 L293.9,37.65 L294.6,37.32 L295.3,37 L296,36.68 L296.7,36.35 L297.4,36.03 L298.1,35.71 L298.8,35.4 L299.5,35.08 L300.2,34.77 L300.9,34.45 L301.6,34.14 L302.3,33.83 L303,33.52 L303.7,33.21 L304.4,32.91 L305.1,32.6 L305.8,32.3 L306.5,32 L307.2,31.7 L307.9,31.4 L308.6,31.11 L309.3,30.81 L310,30.52 L310.7,30.23 L311.4,29.94 L312.1,29.65 L312.8,29.36 L313.5,29.08 L314.2,28.79 L314.9,28.51 L315.6,28.23 L316.3,27.95 L317,27.68 L317.7,27.4 L318.4,27.13 L319.1,26.86 L319.8,26.59 L320.5,26.32 L320.8,26.21" fill="none" stroke="#ff0000" stroke-width="2.6" stroke-linejoin="round" stroke-linecap="round" />
<path d="M139.2,126.5 L139.9,126.2 L140.6,125.91 L141.3,125.62 L142,125.33 L142.7,125.06 L143.4,124.79 L144.1,124.52 L144.8,124.26 L145.5,124 L146.2,123.75 L146.9,123.5 L147.6,123.26 L148.3,123.02 L149,122.78 L149.7,122.55 L150.4,122.32 L151.1,122.09 L151.8,121.87 L152.5,121.64 L153.2,121.42 L153.9,121.2 L154.6,120.99 L155.3,120.77 L156,120.55 L156.7,120.34 L157.4,120.13 L158.1,119.91 L158.8,119.7 L159.5,119.49 L160.2,119.27 L160.9,119.06 L161.6,118.84 L162.3,118.63 L163,118.41 L163.7,118.19 L164.4,117.97 L165.1,117.75 L165.8,117.52 L166.5,117.29 L167.2,117.06 L167.9,116.83 L168.6,116.59 L169.3,116.35 L170,116.1 L170.7,115.85 L171.4,115.6 L172.1,115.34 L172.8,115.08 L173.5,114.81 L174.2,114.54 L174.9,114.26 L175.6,113.98 L176.3,113.69 L177,113.4 L177.7,113.1 L178.4,112.79 L179.1,112.49 L179.8,112.17 L180.5,111.86 L181.2,111.53 L181.9,111.21 L182.6,110.88 L183.3,110.54 L184,110.2 L184.7,109.85 L185.4,109.5 L186.1,109.15 L186.8,108.79 L187.5,108.43 L188.2,108.06 L188.9,107.69 L189.6,107.31 L190.3,106.93 L191,106.55 L191.7,106.16 L192.4,105.76 L193.1,105.37 L193.8,104.97 L194.5,104.56 L195.2,104.15 L195.9,103.74 L196.6,103.32 L197.3,102.9 L198,102.47 L198.7,102.04 L199.4,101.61 L200.1,101.17 L200.8,100.73 L201.5,100.29 L202.2,99.84 L202.9,99.39 L203.6,98.93 L204.3,98.48 L205,98.01 L205.7,97.55 L206.4,97.08 L207.1,96.61 L207.8,96.13 L208.5,95.65 L209.2,95.17 L209.9,94.68 L210.6,94.19 L211.3,93.7 L212,93.2 L212.7,92.71 L213.4,92.2 L214.1,91.7 L214.8,91.19 L215.5,90.68 L216.2,90.17 L216.9,89.65 L217.6,89.13 L218.3,88.61 L219,88.08 L219.7,87.55 L220.4,87.02 L221.1,86.49 L221.8,85.95 L222.5,85.41 L223.2,84.87 L223.9,84.33 L224.6,83.78 L225.3,83.23 L226,82.68 L226.7,82.13 L227.4,81.57 L228.1,81.01 L228.8,80.45 L229.5,79.89 L230.2,79.32 L230.9,78.75 L231.6,78.18 L232.3,77.61 L233,77.04 L233.7,76.46 L234.4,75.88 L235.1,75.31 L235.8,74.73 L236.5,74.15 L237.2,73.57 L237.9,72.98 L238.6,72.4 L239.3,71.82 L240,71.24 L240.7,70.66 L241.4,70.08 L242.1,69.5 L242.8,68.92 L243.5,68.35 L244.2,67.77 L244.9,67.2 L245.6,66.62 L246.3,66.05 L247,65.49 L247.7,64.92 L248.4,64.36 L249.1,63.8 L249.8,63.24 L250.5,62.69 L251.2,62.13 L251.9,61.59 L252.6,61.04 L253.3,60.51 L254,59.97 L254.7,59.44 L255.4,58.91 L256.1,58.39 L256.8,57.88 L257.5,57.37 L258.2,56.86 L258.9,56.36 L259.6,55.87 L260.3,55.38 L261,54.9 L261.7,54.42 L262.4,53.95 L263.1,53.49 L263.8,53.04 L264.5,52.59 L265.2,52.15 L265.9,51.72 L266.6,51.29 L267.3,50.87 L268,50.46 L268.7,50.06 L269.4,49.66 L270.1,49.27 L270.8,48.88 L271.5,48.51 L272.2,48.13 L272.9,47.76 L273.6,47.4 L274.3,47.05 L275,46.7 L275.7,46.35 L276.4,46.01 L277.1,45.67 L277.8,45.34 L278.5,45.01 L279.2,44.69 L279.9,44.37 L280.6,44.06 L281.3,43.75 L282,43.44 L282.7,43.13 L283.4,42.83 L284.1,42.54 L284.8,42.24 L285.5,41.95 L286.2,41.66 L286.9,41.37 L287.6,41.09 L288.3,40.8 L289,40.52 L289.7,40.24 L290.4,39.96 L291.1,39.68 L291.8,39.41 L292.5,39.13 L293.2,38.85 L293.9,38.57 L294.6,38.29 L295.3,38.01 L296,37.73 L296.7,37.45 L297.4,37.17 L298.1,36.89 L298.8,36.6 L299.5,36.31 L300.2,36.02 L300.9,35.73 L301.6,35.43 L302.3,35.13 L303,34.83 L303.7,34.53 L304.4,34.22 L305.1,33.9 L305.8,33.58 L306.5,33.26 L307.2,32.93 L307.9,32.6 L308.6,32.27 L309.3,31.92 L310,31.57 L310.7,31.22 L311.4,30.86 L312.1,30.49 L312.8,30.12 L313.5,29.74 L314.2,29.35 L314.9,28.95 L315.6,28.55 L316.3,28.14 L317,27.72 L317.7,27.29 L318.4,26.85 L319.1,26.41 L319.8,25.95 L320.5,25.49 L320.8,25.29" fill="none" stroke="#ff8000" stroke-width="2.6" stroke-linejoin="round" stroke-linecap="round" />
<path d="M139.2,151.41 L139.9,150.05 L140.6,148.82 L141.3,147.72 L142,146.72 L142.7,145.83 L143.4,145.03 L144.1,144.31 L144.8,143.67 L145.5,143.09 L146.2,142.57 L146.9,142.09 L147.6,141.66 L148.3,141.25 L149,140.87 L149.7,140.5 L150.4,140.15 L151.1,139.81 L151.8,139.49 L152.5,139.19 L153.2,138.89 L153.9,138.61 L154.6,138.35 L155.3,138.09 L156,137.85 L156.7,137.61 L157.4,137.39 L158.1,137.17 L158.8,136.97 L159.5,136.77 L160.2,136.58 L160.9,136.39 L161.6,136.21 L162.3,136.03 L163,135.86 L163.7,135.69 L164.4,135.53 L165.1,135.36 L165.8,135.2 L166.5,135.04 L167.2,134.88 L167.9,134.72 L168.6,134.56 L169.3,134.39 L170,134.23 L170.7,134.06 L171.4,133.89 L172.1,133.72 L172.8,133.55 L173.5,133.37 L174.2,133.19 L174.9,133.01 L175.6,132.82 L176.3,132.63 L177,132.44 L177.7,132.24 L178.4,132.04 L179.1,131.83 L179.8,131.62 L180.5,131.4 L181.2,131.17 L181.9,130.94 L182.6,130.7 L183.3,130.46 L184,130.21 L184.7,129.95 L185.4,129.69 L186.1,129.41 L186.8,129.13 L187.5,128.84 L188.2,128.55 L188.9,128.24 L189.6,127.92 L190.3,127.6 L191,127.26 L191.7,126.92 L192.4,126.57 L193.1,126.2 L193.8,125.83 L194.5,125.44 L195.2,125.04 L195.9,124.63 L196.6,124.21 L197.3,123.78 L198,123.33 L198.7,122.88 L199.4,122.41 L200.1,121.92 L200.8,121.43 L201.5,120.92 L202.2,120.39 L202.9,119.85 L203.6,119.3 L204.3,118.74 L205,118.16 L205.7,117.57 L206.4,116.97 L207.1,116.36 L207.8,115.73 L208.5,115.1 L209.2,114.46 L209.9,113.81 L210.6,113.16 L211.3,112.49 L212,111.82 L212.7,111.15 L213.4,110.47 L214.1,109.78 L214.8,109.09 L215.5,108.4 L216.2,107.7 L216.9,107 L217.6,106.3 L218.3,105.59 L219,104.89 L219.7,104.18 L220.4,103.48 L221.1,102.77 L221.8,102.05 L222.5,101.34 L223.2,100.62 L223.9,99.9 L224.6,99.18 L225.3,98.45 L226,97.72 L226.7,96.98 L227.4,96.24 L228.1,95.5 L228.8,94.74 L229.5,93.99 L230.2,93.23 L230.9,92.46 L231.6,91.68 L232.3,90.9 L233,90.11 L233.7,89.32 L234.4,88.51 L235.1,87.7 L235.8,86.88 L236.5,86.06 L237.2,85.22 L237.9,84.38 L238.6,83.52 L239.3,82.66 L240,81.78 L240.7,80.9 L241.4,80 L242.1,79.1 L242.8,78.18 L243.5,77.25 L244.2,76.31 L244.9,75.36 L245.6,74.41 L246.3,73.44 L247,72.48 L247.7,71.51 L248.4,70.55 L249.1,69.59 L249.8,68.64 L250.5,67.7 L251.2,66.77 L251.9,65.86 L252.6,64.97 L253.3,64.1 L254,63.25 L254.7,62.43 L255.4,61.64 L256.1,60.88 L256.8,60.15 L257.5,59.44 L258.2,58.77 L258.9,58.11 L259.6,57.49 L260.3,56.89 L261,56.31 L261.7,55.75 L262.4,55.21 L263.1,54.7 L263.8,54.2 L264.5,53.72 L265.2,53.26 L265.9,52.81 L266.6,52.38 L267.3,51.96 L268,51.55 L268.7,51.16 L269.4,50.78 L270.1,50.4 L270.8,50.04 L271.5,49.68 L272.2,49.33 L272.9,48.98 L273.6,48.64 L274.3,48.3 L275,47.97 L275.7,47.63 L276.4,47.3 L277.1,46.97 L277.8,46.64 L278.5,46.32 L279.2,45.99 L279.9,45.67 L280.6,45.34 L281.3,45.02 L282,44.7 L282.7,44.38 L283.4,44.06 L284.1,43.74 L284.8,43.43 L285.5,43.11 L286.2,42.79 L286.9,42.47 L287.6,42.16 L288.3,41.84 L289,41.52 L289.7,41.21 L290.4,40.89 L291.1,40.57 L291.8,40.25 L292.5,39.93 L293.2,39.62 L293.9,39.3 L294.6,38.97 L295.3,38.65 L296,38.33 L296.7,38.01 L297.4,37.68 L298.1,37.35 L298.8,37.03 L299.5,36.7 L300.2,36.36 L300.9,36.03 L301.6,35.7 L302.3,35.36 L303,35.02 L303.7,34.68 L304.4,34.33 L305.1,33.99 L305.8,33.64 L306.5,33.29 L307.2,32.93 L307.9,32.58 L308.6,32.22 L309.3,31.85 L310,31.49 L310.7,31.12 L311.4,30.75 L312.1,30.37 L312.8,29.99 L313.5,29.61 L314.2,29.22 L314.9,28.83 L315.6,28.44 L316.3,28.04 L317,27.64 L317.7,27.23 L318.4,26.82 L319.1,26.4 L319.8,25.98 L320.5,25.56 L320.8,25.37" fill="none" stroke="#ff00ff" stroke-width="2.6" stroke-linejoin="round" stroke-linecap="round" />
<path d="M147.9,157 L147.9,151.6 L148.6,151.3 L149.3,151.01 L150,150.72 L150.7,150.43 L151.4,150.15 L152.1,149.86 L152.8,149.58 L153.5,149.31 L154.2,149.03 L154.9,148.76 L155.6,148.49 L156.3,148.22 L157,147.96 L157.7,147.7 L158.4,147.44 L159.1,147.19 L159.8,146.94 L160.5,146.7 L161.2,146.46 L161.9,146.22 L162.6,145.99 L163.3,145.76 L164,145.53 L164.7,145.31 L165.4,145.1 L166.1,144.89 L166.8,144.68 L167.5,144.48 L168.2,144.28 L168.9,144.09 L169.6,143.91 L170.3,143.73 L171,143.55 L171.7,143.38 L172.4,143.22 L173.1,143.06 L173.8,142.91 L174.5,142.77 L175.2,142.62 L175.9,142.49 L176.6,142.35 L177.3,142.22 L178,142.09 L178.7,141.96 L179.4,141.83 L180.1,141.7 L180.8,141.57 L181.5,141.43 L182.2,141.3 L182.9,141.16 L183.6,141.01 L184.3,140.86 L185,140.71 L185.7,140.55 L186.4,140.38 L187.1,140.21 L187.8,140.02 L188.5,139.83 L189.2,139.63 L189.9,139.41 L190.6,139.19 L191.3,138.95 L192,138.7 L192.7,138.44 L193.4,138.17 L194.1,137.87 L194.8,137.57 L195.5,137.24 L196.2,136.9 L196.9,136.55 L197.6,136.17 L198.3,135.77 L199,135.36 L199.7,134.92 L200.4,134.47 L201.1,133.99 L201.8,133.5 L202.5,132.98 L203.2,132.45 L203.9,131.9 L204.6,131.34 L205.3,130.75 L206,130.15 L206.7,129.53 L207.4,128.9 L208.1,128.25 L208.8,127.58 L209.5,126.9 L210.2,126.2 L210.9,125.49 L211.6,124.76 L212.3,124.02 L213,123.26 L213.7,122.5 L214.4,121.71 L215.1,120.92 L215.8,120.11 L216.5,119.3 L217.2,118.47 L217.9,117.62 L218.6,116.77 L219.3,115.91 L220,115.03 L220.7,114.15 L221.4,113.26 L222.1,112.35 L222.8,111.44 L223.5,110.52 L224.2,109.59 L224.9,108.65 L225.6,107.71 L226.3,106.75 L227,105.79 L227.7,104.83 L228.4,103.85 L229.1,102.88 L229.8,101.89 L230.5,100.9 L231.2,99.91 L231.9,98.91 L232.6,97.9 L233.3,96.89 L234,95.88 L234.7,94.86 L235.4,93.85 L236.1,92.82 L236.8,91.8 L237.5,90.77 L238.2,89.75 L238.9,88.72 L239.6,87.69 L240.3,86.66 L241,85.63 L241.7,84.59 L242.4,83.56 L243.1,82.53 L243.8,81.5 L244.5,80.48 L245.2,79.45 L245.9,78.43 L246.6,77.42 L247.3,76.41 L248,75.4 L248.7,74.41 L249.4,73.42 L250.1,72.43 L250.8,71.46 L251.5,70.5 L252.2,69.54 L252.9,68.6 L253.6,67.67 L254.3,66.75 L255,65.85 L255.7,64.96 L256.4,64.09 L257.1,63.23 L257.8,62.38 L258.5,61.56 L259.2,60.75 L259.9,59.96 L260.6,59.19 L261.3,58.44 L262,57.72 L262.7,57.01 L263.4,56.33 L264.1,55.67 L264.8,55.03 L265.5,54.42 L266.2,53.83 L266.9,53.26 L267.6,52.72 L268.3,52.2 L269,51.69 L269.7,51.21 L270.4,50.75 L271.1,50.3 L271.8,49.87 L272.5,49.45 L273.2,49.05 L273.9,48.67 L274.6,48.29 L275.3,47.93 L276,47.58 L276.7,47.24 L277.4,46.91 L278.1,46.58 L278.8,46.27 L279.5,45.96 L280.2,45.65 L280.9,45.35 L281.6,45.06 L282.3,44.77 L283,44.47 L283.7,44.18 L284.4,43.89 L285.1,43.6 L285.8,43.31 L286.5,43.02 L287.2,42.73 L287.9,42.43 L288.6,42.14 L289.3,41.84 L290,41.54 L290.7,41.24 L291.4,40.93 L292.1,40.63 L292.8,40.32 L293.5,40.01 L294.2,39.7 L294.9,39.39 L295.6,39.07 L296.3,38.76 L297,38.44 L297.7,38.11 L298.4,37.79 L299.1,37.46 L299.8,37.12 L300.5,36.79 L301.2,36.45 L301.9,36.11 L302.6,35.76 L303.3,35.41 L304,35.06 L304.7,34.71 L305.4,34.35 L306.1,33.98 L306.8,33.61 L307.5,33.24 L308.2,32.86 L308.9,32.48 L309.6,32.1 L310.3,31.71 L311,31.31 L311.7,30.91 L312.4,30.51 L313.1,30.1 L313.8,29.69 L314.5,29.27 L315.2,28.84 L315.9,28.41 L316.6,27.97 L317.3,27.53 L318,27.09 L318.7,26.63 L319.4,26.17 L320.1,25.71 L320.8,25.24 L320.8,25.24" fill="none" stroke="#808080" stroke-width="2.6" stroke-linejoin="round" stroke-linecap="round" />
<path d="M147.9,157 L147.9,153.55 L148.6,153.37 L149.3,153.19 L150,153.01 L150.7,152.84 L151.4,152.67 L152.1,152.51 L152.8,152.35 L153.5,152.2 L154.2,152.05 L154.9,151.9 L155.6,151.75 L156.3,151.61 L157,151.47 L157.7,151.33 L158.4,151.19 L159.1,151.06 L159.8,150.92 L160.5,150.79 L161.2,150.65 L161.9,150.52 L162.6,150.39 L163.3,150.25 L164,150.12 L164.7,149.98 L165.4,149.85 L166.1,149.71 L166.8,149.57 L167.5,149.43 L168.2,149.29 L168.9,149.14 L169.6,148.99 L170.3,148.84 L171,148.69 L171.7,148.53 L172.4,148.37 L173.1,148.2 L173.8,148.03 L174.5,147.85 L175.2,147.67 L175.9,147.49 L176.6,147.3 L177.3,147.1 L178,146.9 L178.7,146.69 L179.4,146.47 L180.1,146.25 L180.8,146.02 L181.5,145.78 L182.2,145.54 L182.9,145.28 L183.6,145.02 L184.3,144.75 L185,144.47 L185.7,144.19 L186.4,143.89 L187.1,143.58 L187.8,143.27 L188.5,142.94 L189.2,142.6 L189.9,142.26 L190.6,141.9 L191.3,141.53 L192,141.15 L192.7,140.76 L193.4,140.35 L194.1,139.94 L194.8,139.51 L195.5,139.08 L196.2,138.63 L196.9,138.17 L197.6,137.71 L198.3,137.23 L199,136.74 L199.7,136.24 L200.4,135.73 L201.1,135.2 L201.8,134.67 L202.5,134.13 L203.2,133.58 L203.9,133.02 L204.6,132.44 L205.3,131.86 L206,131.27 L206.7,130.67 L207.4,130.05 L208.1,129.43 L208.8,128.8 L209.5,128.15 L210.2,127.5 L210.9,126.84 L211.6,126.17 L212.3,125.49 L213,124.8 L213.7,124.1 L214.4,123.39 L215.1,122.67 L215.8,121.94 L216.5,121.2 L217.2,120.45 L217.9,119.7 L218.6,118.93 L219.3,118.16 L220,117.38 L220.7,116.58 L221.4,115.78 L222.1,114.97 L222.8,114.15 L223.5,113.33 L224.2,112.49 L224.9,111.65 L225.6,110.79 L226.3,109.93 L227,109.06 L227.7,108.18 L228.4,107.3 L229.1,106.4 L229.8,105.5 L230.5,104.59 L231.2,103.67 L231.9,102.74 L232.6,101.8 L233.3,100.86 L234,99.91 L234.7,98.95 L235.4,97.98 L236.1,97.01 L236.8,96.03 L237.5,95.04 L238.2,94.04 L238.9,93.03 L239.6,92.02 L240.3,91 L241,89.97 L241.7,88.94 L242.4,87.9 L243.1,86.85 L243.8,85.79 L244.5,84.73 L245.2,83.66 L245.9,82.58 L246.6,81.5 L247.3,80.41 L248,79.31 L248.7,78.21 L249.4,77.1 L250.1,76 L250.8,74.89 L251.5,73.79 L252.2,72.69 L252.9,71.6 L253.6,70.52 L254.3,69.44 L255,68.38 L255.7,67.33 L256.4,66.29 L257.1,65.27 L257.8,64.27 L258.5,63.29 L259.2,62.32 L259.9,61.39 L260.6,60.48 L261.3,59.59 L262,58.73 L262.7,57.91 L263.4,57.11 L264.1,56.35 L264.8,55.63 L265.5,54.94 L266.2,54.29 L266.9,53.67 L267.6,53.09 L268.3,52.53 L269,52.01 L269.7,51.51 L270.4,51.04 L271.1,50.6 L271.8,50.18 L272.5,49.78 L273.2,49.4 L273.9,49.03 L274.6,48.69 L275.3,48.36 L276,48.04 L276.7,47.74 L277.4,47.45 L278.1,47.16 L278.8,46.89 L279.5,46.62 L280.2,46.35 L280.9,46.09 L281.6,45.82 L282.3,45.56 L283,45.3 L283.7,45.03 L284.4,44.75 L285.1,44.48 L285.8,44.19 L286.5,43.9 L287.2,43.6 L287.9,43.29 L288.6,42.98 L289.3,42.67 L290,42.34 L290.7,42.02 L291.4,41.69 L292.1,41.35 L292.8,41.01 L293.5,40.66 L294.2,40.31 L294.9,39.95 L295.6,39.6 L296.3,39.23 L297,38.87 L297.7,38.5 L298.4,38.12 L299.1,37.75 L299.8,37.37 L300.5,36.98 L301.2,36.6 L301.9,36.21 L302.6,35.82 L303.3,35.43 L304,35.04 L304.7,34.64 L305.4,34.24 L306.1,33.85 L306.8,33.45 L307.5,33.05 L308.2,32.64 L308.9,32.24 L309.6,31.84 L310.3,31.44 L311,31.03 L311.7,30.63 L312.4,30.23 L313.1,29.82 L313.8,29.42 L314.5,29.02 L315.2,28.62 L315.9,28.22 L316.6,27.82 L317.3,27.42 L318,27.03 L318.7,26.64 L319.4,26.24 L320.1,25.86 L320.8,25.47 L320.8,25.47" fill="none" stroke="#008000" stroke-width="2.6" stroke-linejoin="round" stroke-linecap="round" />
<path d="M147.9,157.5 L147.9,155.85 L148.6,155.92 L149.3,155.98 L150,156.02 L150.7,156.06 L151.4,156.09 L152.1,156.11 L152.8,156.11 L153.5,156.11 L154.2,156.11 L154.9,156.09 L155.6,156.06 L156.3,156.03 L157,155.98 L157.7,155.93 L158.4,155.87 L159.1,155.8 L159.8,155.72 L160.5,155.63 L161.2,155.54 L161.9,155.44 L162.6,155.32 L163.3,155.2 L164,155.08 L164.7,154.94 L165.4,154.8 L166.1,154.65 L166.8,154.49 L167.5,154.32 L168.2,154.15 L168.9,153.96 L169.6,153.77 L170.3,153.58 L171,153.37 L171.7,153.16 L172.4,152.94 L173.1,152.72 L173.8,152.48 L174.5,152.24 L175.2,152 L175.9,151.74 L176.6,151.48 L177.3,151.22 L178,150.94 L178.7,150.66 L179.4,150.37 L180.1,150.08 L180.8,149.78 L181.5,149.47 L182.2,149.16 L182.9,148.84 L183.6,148.52 L184.3,148.19 L185,147.85 L185.7,147.51 L186.4,147.16 L187.1,146.81 L187.8,146.45 L188.5,146.08 L189.2,145.71 L189.9,145.33 L190.6,144.95 L191.3,144.57 L192,144.17 L192.7,143.78 L193.4,143.37 L194.1,142.97 L194.8,142.55 L195.5,142.14 L196.2,141.71 L196.9,141.29 L197.6,140.85 L198.3,140.42 L199,139.98 L199.7,139.53 L200.4,139.08 L201.1,138.63 L201.8,138.17 L202.5,137.7 L203.2,137.24 L203.9,136.77 L204.6,136.29 L205.3,135.81 L206,135.32 L206.7,134.83 L207.4,134.33 L208.1,133.83 L208.8,133.32 L209.5,132.81 L210.2,132.29 L210.9,131.76 L211.6,131.23 L212.3,130.69 L213,130.14 L213.7,129.58 L214.4,129.02 L215.1,128.45 L215.8,127.88 L216.5,127.29 L217.2,126.7 L217.9,126.09 L218.6,125.48 L219.3,124.86 L220,124.24 L220.7,123.6 L221.4,122.95 L222.1,122.29 L222.8,121.63 L223.5,120.95 L224.2,120.27 L224.9,119.57 L225.6,118.86 L226.3,118.14 L227,117.42 L227.7,116.68 L228.4,115.92 L229.1,115.16 L229.8,114.39 L230.5,113.6 L231.2,112.8 L231.9,111.99 L232.6,111.17 L233.3,110.33 L234,109.48 L234.7,108.62 L235.4,107.74 L236.1,106.85 L236.8,105.95 L237.5,105.03 L238.2,104.1 L238.9,103.16 L239.6,102.2 L240.3,101.22 L241,100.24 L241.7,99.23 L242.4,98.21 L243.1,97.18 L243.8,96.13 L244.5,95.06 L245.2,93.98 L245.9,92.88 L246.6,91.76 L247.3,90.63 L248,89.48 L248.7,88.32 L249.4,87.14 L250.1,85.93 L250.8,84.72 L251.5,83.48 L252.2,82.23 L252.9,80.96 L253.6,79.67 L254.3,78.36 L255,77.03 L255.7,75.68 L256.4,74.32 L257.1,72.93 L257.8,71.53 L258.5,70.1 L259.2,68.66 L259.9,67.21 L260.6,65.78 L261.3,64.36 L262,62.98 L262.7,61.65 L263.4,60.39 L264.1,59.2 L264.8,58.1 L265.5,57.1 L266.2,56.19 L266.9,55.38 L267.6,54.64 L268.3,53.98 L269,53.39 L269.7,52.86 L270.4,52.38 L271.1,51.95 L271.8,51.55 L272.5,51.19 L273.2,50.85 L273.9,50.52 L274.6,50.21 L275.3,49.9 L276,49.59 L276.7,49.28 L277.4,48.98 L278.1,48.67 L278.8,48.37 L279.5,48.07 L280.2,47.76 L280.9,47.46 L281.6,47.16 L282.3,46.85 L283,46.55 L283.7,46.24 L284.4,45.93 L285.1,45.62 L285.8,45.31 L286.5,44.99 L287.2,44.67 L287.9,44.35 L288.6,44.03 L289.3,43.7 L290,43.37 L290.7,43.03 L291.4,42.69 L292.1,42.34 L292.8,41.99 L293.5,41.64 L294.2,41.27 L294.9,40.9 L295.6,40.53 L296.3,40.15 L297,39.76 L297.7,39.37 L298.4,38.98 L299.1,38.58 L299.8,38.18 L300.5,37.77 L301.2,37.36 L301.9,36.94 L302.6,36.52 L303.3,36.1 L304,35.68 L304.7,35.26 L305.4,34.83 L306.1,34.4 L306.8,33.97 L307.5,33.54 L308.2,33.1 L308.9,32.67 L309.6,32.24 L310.3,31.8 L311,31.37 L311.7,30.94 L312.4,30.5 L313.1,30.07 L313.8,29.64 L314.5,29.21 L315.2,28.79 L315.9,28.36 L316.6,27.94 L317.3,27.52 L318,27.1 L318.7,26.69 L319.4,26.27 L320.1,25.87 L320.8,25.46 L320.8,25.46" fill="none" stroke="#8000ff" stroke-width="2.6" stroke-linejoin="round" stroke-linecap="round" />
<path d="M147.9,157.5 L147.9,155.66 L148.6,155.71 L149.3,155.75 L150,155.78 L150.7,155.81 L151.4,155.82 L152.1,155.83 L152.8,155.82 L153.5,155.81 L154.2,155.79 L154.9,155.76 L155.6,155.73 L156.3,155.68 L157,155.63 L157.7,155.57 L158.4,155.5 L159.1,155.42 L159.8,155.33 L160.5,155.24 L161.2,155.14 L161.9,155.03 L162.6,154.91 L163.3,154.78 L164,154.65 L164.7,154.51 L165.4,154.36 L166.1,154.2 L166.8,154.04 L167.5,153.87 L168.2,153.69 L168.9,153.5 L169.6,153.31 L170.3,153.11 L171,152.9 L171.7,152.68 L172.4,152.46 L173.1,152.23 L173.8,152 L174.5,151.76 L175.2,151.51 L175.9,151.25 L176.6,150.99 L177.3,150.72 L178,150.45 L178.7,150.16 L179.4,149.88 L180.1,149.58 L180.8,149.28 L181.5,148.97 L182.2,148.66 L182.9,148.34 L183.6,148.02 L184.3,147.69 L185,147.35 L185.7,147.01 L186.4,146.66 L187.1,146.31 L187.8,145.95 L188.5,145.58 L189.2,145.21 L189.9,144.83 L190.6,144.45 L191.3,144.07 L192,143.67 L192.7,143.28 L193.4,142.88 L194.1,142.47 L194.8,142.06 L195.5,141.64 L196.2,141.22 L196.9,140.79 L197.6,140.36 L198.3,139.92 L199,139.48 L199.7,139.04 L200.4,138.59 L201.1,138.13 L201.8,137.67 L202.5,137.21 L203.2,136.74 L203.9,136.27 L204.6,135.8 L205.3,135.31 L206,134.83 L206.7,134.34 L207.4,133.84 L208.1,133.34 L208.8,132.83 L209.5,132.31 L210.2,131.79 L210.9,131.26 L211.6,130.73 L212.3,130.19 L213,129.64 L213.7,129.08 L214.4,128.52 L215.1,127.95 L215.8,127.37 L216.5,126.79 L217.2,126.19 L217.9,125.59 L218.6,124.98 L219.3,124.36 L220,123.73 L220.7,123.09 L221.4,122.44 L222.1,121.79 L222.8,121.12 L223.5,120.44 L224.2,119.75 L224.9,119.06 L225.6,118.35 L226.3,117.63 L227,116.9 L227.7,116.16 L228.4,115.41 L229.1,114.65 L229.8,113.87 L230.5,113.08 L231.2,112.29 L231.9,111.48 L232.6,110.65 L233.3,109.82 L234,108.97 L234.7,108.11 L235.4,107.23 L236.1,106.34 L236.8,105.44 L237.5,104.52 L238.2,103.59 L238.9,102.65 L239.6,101.69 L240.3,100.72 L241,99.73 L241.7,98.73 L242.4,97.71 L243.1,96.68 L243.8,95.63 L244.5,94.57 L245.2,93.49 L245.9,92.39 L246.6,91.28 L247.3,90.15 L248,89.01 L248.7,87.84 L249.4,86.66 L250.1,85.47 L250.8,84.25 L251.5,83.02 L252.2,81.77 L252.9,80.51 L253.6,79.22 L254.3,77.92 L255,76.59 L255.7,75.25 L256.4,73.89 L257.1,72.51 L257.8,71.12 L258.5,69.7 L259.2,68.26 L259.9,66.82 L260.6,65.39 L261.3,63.99 L262,62.62 L262.7,61.29 L263.4,60.03 L264.1,58.85 L264.8,57.76 L265.5,56.77 L266.2,55.87 L266.9,55.06 L267.6,54.33 L268.3,53.68 L269,53.09 L269.7,52.57 L270.4,52.09 L271.1,51.67 L271.8,51.28 L272.5,50.92 L273.2,50.58 L273.9,50.26 L274.6,49.95 L275.3,49.65 L276,49.34 L276.7,49.04 L277.4,48.74 L278.1,48.43 L278.8,48.13 L279.5,47.83 L280.2,47.53 L280.9,47.23 L281.6,46.93 L282.3,46.63 L283,46.33 L283.7,46.02 L284.4,45.72 L285.1,45.41 L285.8,45.1 L286.5,44.79 L287.2,44.47 L287.9,44.15 L288.6,43.83 L289.3,43.5 L290,43.17 L290.7,42.84 L291.4,42.5 L292.1,42.16 L292.8,41.81 L293.5,41.46 L294.2,41.1 L294.9,40.73 L295.6,40.36 L296.3,39.99 L297,39.61 L297.7,39.22 L298.4,38.83 L299.1,38.44 L299.8,38.04 L300.5,37.64 L301.2,37.23 L301.9,36.82 L302.6,36.41 L303.3,36 L304,35.58 L304.7,35.16 L305.4,34.74 L306.1,34.31 L306.8,33.89 L307.5,33.46 L308.2,33.04 L308.9,32.61 L309.6,32.18 L310.3,31.75 L311,31.32 L311.7,30.89 L312.4,30.47 L313.1,30.04 L313.8,29.61 L314.5,29.19 L315.2,28.76 L315.9,28.34 L316.6,27.92 L317.3,27.5 L318,27.09 L318.7,26.68 L319.4,26.27 L320.1,25.86 L320.8,25.46 L320.8,25.46" fill="none" stroke="#800000" stroke-width="2.6" stroke-linejoin="round" stroke-linecap="round" />
<path d="M155.5,157.51 L156.2,157.48 L156.9,157.43 L157.6,157.38 L158.3,157.32 L159,157.26 L159.7,157.18 L160.4,157.1 L161.1,157 L161.8,156.9 L162.5,156.79 L163.2,156.68 L163.9,156.55 L164.6,156.42 L165.3,156.28 L166,156.13 L166.7,155.97 L167.4,155.81 L168.1,155.63 L168.8,155.45 L169.5,155.26 L170.2,155.07 L170.9,154.86 L171.6,154.65 L172.3,154.43 L173,154.21 L173.7,153.97 L174.4,153.73 L175.1,153.48 L175.8,153.22 L176.5,152.96 L177.2,152.69 L177.9,152.41 L178.6,152.12 L179.3,151.83 L180,151.53 L180.7,151.22 L181.4,150.91 L182.1,150.58 L182.8,150.25 L183.5,149.92 L184.2,149.57 L184.9,149.22 L185.6,148.87 L186.3,148.5 L187,148.13 L187.7,147.75 L188.4,147.37 L189.1,146.98 L189.8,146.58 L190.5,146.17 L191.2,145.76 L191.9,145.34 L192.6,144.92 L193.3,144.48 L194,144.05 L194.7,143.6 L195.4,143.15 L196.1,142.69 L196.8,142.23 L197.5,141.76 L198.2,141.28 L198.9,140.8 L199.6,140.31 L200.3,139.81 L201,139.31 L201.7,138.81 L202.4,138.29 L203.1,137.77 L203.8,137.25 L204.5,136.71 L205.2,136.18 L205.9,135.63 L206.6,135.08 L207.3,134.53 L208,133.97 L208.7,133.4 L209.4,132.83 L210.1,132.25 L210.8,131.67 L211.5,131.08 L212.2,130.48 L212.9,129.88 L213.6,129.27 L214.3,128.66 L215,128.05 L215.7,127.42 L216.4,126.8 L217.1,126.16 L217.8,125.52 L218.5,124.88 L219.2,124.23 L219.9,123.57 L220.6,122.91 L221.3,122.24 L222,121.56 L222.7,120.87 L223.4,120.18 L224.1,119.48 L224.8,118.77 L225.5,118.05 L226.2,117.33 L226.9,116.59 L227.6,115.85 L228.3,115.1 L229,114.33 L229.7,113.56 L230.4,112.77 L231.1,111.98 L231.8,111.17 L232.5,110.36 L233.2,109.53 L233.9,108.69 L234.6,107.84 L235.3,106.97 L236,106.1 L236.7,105.21 L237.4,104.31 L238.1,103.39 L238.8,102.46 L239.5,101.52 L240.2,100.56 L240.9,99.59 L241.6,98.61 L242.3,97.61 L243,96.59 L243.7,95.56 L244.4,94.52 L245.1,93.45 L245.8,92.38 L246.5,91.28 L247.2,90.17 L247.9,89.04 L248.6,87.89 L249.3,86.73 L250,85.55 L250.7,84.35 L251.4,83.13 L252.1,81.9 L252.8,80.64 L253.5,79.37 L254.2,78.08 L254.9,76.77 L255.6,75.43 L256.3,74.08 L257,72.71 L257.7,71.31 L258.4,69.9 L259.1,68.47 L259.8,67.03 L260.5,65.6 L261.2,64.19 L261.9,62.82 L262.6,61.5 L263.3,60.26 L264,59.09 L264.7,58.03 L265.4,57.07 L266.1,56.22 L266.8,55.48 L267.5,54.82 L268.2,54.24 L268.9,53.73 L269.6,53.29 L270.3,52.9 L271,52.56 L271.7,52.25 L272.4,51.97 L273.1,51.71 L273.8,51.45 L274.5,51.2 L275.2,50.94 L275.9,50.67 L276.6,50.4 L277.3,50.11 L278,49.82 L278.7,49.51 L279.4,49.2 L280.1,48.89 L280.8,48.56 L281.5,48.23 L282.2,47.89 L282.9,47.55 L283.6,47.2 L284.3,46.85 L285,46.49 L285.7,46.12 L286.4,45.75 L287.1,45.38 L287.8,45 L288.5,44.62 L289.2,44.24 L289.9,43.85 L290.6,43.46 L291.3,43.07 L292,42.68 L292.7,42.29 L293.4,41.89 L294.1,41.5 L294.8,41.1 L295.5,40.7 L296.2,40.3 L296.9,39.91 L297.6,39.51 L298.3,39.11 L299,38.71 L299.7,38.3 L300.4,37.9 L301.1,37.5 L301.8,37.09 L302.5,36.69 L303.2,36.28 L303.9,35.87 L304.6,35.46 L305.3,35.05 L306,34.64 L306.7,34.22 L307.4,33.8 L308.1,33.39 L308.8,32.97 L309.5,32.54 L310.2,32.12 L310.9,31.69 L311.6,31.26 L312.3,30.83 L313,30.4 L313.7,29.97 L314.4,29.53 L315.1,29.09 L315.8,28.64 L316.5,28.2 L317.2,27.75 L317.9,27.3 L318.6,26.85 L319.3,26.39 L320,25.93 L320.7,25.47 L320.8,25.4" fill="none" stroke="#00ffff" stroke-width="2.6" stroke-linejoin="round" stroke-linecap="round" />
<path d="M147.9,157.42 L148.6,157.35 L149.3,157.28 L150,157.21 L150.7,157.15 L151.4,157.09 L152.1,157.03 L152.8,156.98 L153.5,156.92 L154.2,156.86 L154.9,156.81 L155.6,156.75 L156.3,156.69 L157,156.63 L157.7,156.56 L158.4,156.49 L159.1,156.42 L159.8,156.34 L160.5,156.25 L161.2,156.16 L161.9,156.07 L162.6,155.96 L163.3,155.85 L164,155.73 L164.7,155.6 L165.4,155.46 L166.1,155.31 L166.8,155.16 L167.5,154.99 L168.2,154.8 L168.9,154.61 L169.6,154.4 L170.3,154.18 L171,153.94 L171.7,153.69 L172.4,153.43 L173.1,153.15 L173.8,152.85 L174.5,152.53 L175.2,152.21 L175.9,151.86 L176.6,151.51 L177.3,151.14 L178,150.76 L178.7,150.37 L179.4,149.97 L180.1,149.55 L180.8,149.13 L181.5,148.71 L182.2,148.27 L182.9,147.83 L183.6,147.38 L184.3,146.93 L185,146.47 L185.7,146.01 L186.4,145.55 L187.1,145.09 L187.8,144.62 L188.5,144.15 L189.2,143.69 L189.9,143.22 L190.6,142.76 L191.3,142.3 L192,141.84 L192.7,141.39 L193.4,140.93 L194.1,140.48 L194.8,140.03 L195.5,139.58 L196.2,139.13 L196.9,138.68 L197.6,138.23 L198.3,137.78 L199,137.33 L199.7,136.88 L200.4,136.43 L201.1,135.97 L201.8,135.52 L202.5,135.06 L203.2,134.6 L203.9,134.14 L204.6,133.68 L205.3,133.21 L206,132.74 L206.7,132.26 L207.4,131.78 L208.1,131.3 L208.8,130.81 L209.5,130.32 L210.2,129.82 L210.9,129.32 L211.6,128.81 L212.3,128.3 L213,127.77 L213.7,127.25 L214.4,126.71 L215.1,126.17 L215.8,125.62 L216.5,125.06 L217.2,124.5 L217.9,123.93 L218.6,123.35 L219.3,122.76 L220,122.16 L220.7,121.55 L221.4,120.93 L222.1,120.3 L222.8,119.66 L223.5,119.01 L224.2,118.35 L224.9,117.68 L225.6,116.99 L226.3,116.3 L227,115.59 L227.7,114.87 L228.4,114.14 L229.1,113.4 L229.8,112.64 L230.5,111.87 L231.2,111.08 L231.9,110.28 L232.6,109.47 L233.3,108.64 L234,107.8 L234.7,106.94 L235.4,106.07 L236.1,105.18 L236.8,104.27 L237.5,103.35 L238.2,102.41 L238.9,101.46 L239.6,100.48 L240.3,99.49 L241,98.49 L241.7,97.46 L242.4,96.42 L243.1,95.35 L243.8,94.27 L244.5,93.17 L245.2,92.05 L245.9,90.91 L246.6,89.75 L247.3,88.57 L248,87.37 L248.7,86.15 L249.4,84.92 L250.1,83.67 L250.8,82.42 L251.5,81.16 L252.2,79.89 L252.9,78.63 L253.6,77.36 L254.3,76.1 L255,74.85 L255.7,73.6 L256.4,72.37 L257.1,71.15 L257.8,69.94 L258.5,68.76 L259.2,67.6 L259.9,66.46 L260.6,65.35 L261.3,64.27 L262,63.23 L262.7,62.22 L263.4,61.24 L264.1,60.31 L264.8,59.42 L265.5,58.57 L266.2,57.77 L266.9,57.01 L267.6,56.29 L268.3,55.61 L269,54.97 L269.7,54.36 L270.4,53.78 L271.1,53.23 L271.8,52.72 L272.5,52.23 L273.2,51.77 L273.9,51.33 L274.6,50.91 L275.3,50.51 L276,50.13 L276.7,49.77 L277.4,49.42 L278.1,49.09 L278.8,48.76 L279.5,48.45 L280.2,48.14 L280.9,47.84 L281.6,47.55 L282.3,47.25 L283,46.96 L283.7,46.66 L284.4,46.36 L285.1,46.05 L285.8,45.74 L286.5,45.43 L287.2,45.11 L287.9,44.78 L288.6,44.45 L289.3,44.11 L290,43.77 L290.7,43.43 L291.4,43.08 L292.1,42.73 L292.8,42.37 L293.5,42.01 L294.2,41.64 L294.9,41.27 L295.6,40.89 L296.3,40.51 L297,40.13 L297.7,39.74 L298.4,39.35 L299.1,38.96 L299.8,38.56 L300.5,38.16 L301.2,37.76 L301.9,37.35 L302.6,36.94 L303.3,36.52 L304,36.1 L304.7,35.68 L305.4,35.26 L306.1,34.83 L306.8,34.4 L307.5,33.97 L308.2,33.53 L308.9,33.09 L309.6,32.65 L310.3,32.21 L311,31.76 L311.7,31.32 L312.4,30.87 L313.1,30.41 L313.8,29.96 L314.5,29.5 L315.2,29.05 L315.9,28.59 L316.6,28.13 L317.3,27.66 L318,27.2 L318.7,26.73 L319.4,26.26 L320.1,25.79 L320.8,25.32 L320.8,25.32" fill="none" stroke="#0000ff" stroke-width="2.6" stroke-linejoin="round" stroke-linecap="round" />
</g>
<rect x="139.2" y="25.1" width="181.3" height="131.9" fill="none" stroke="#000" stroke-width="2.1"/>
<line x1="162.97" y1="157" x2="162.97" y2="153" stroke="#000" stroke-width="2" />
<line x1="162.97" y1="25.1" x2="162.97" y2="29.1" stroke="#000" stroke-width="2" />
<line x1="176.87" y1="157" x2="176.87" y2="153" stroke="#000" stroke-width="2" />
<line x1="176.87" y1="25.1" x2="176.87" y2="29.1" stroke="#000" stroke-width="2" />
<line x1="186.73" y1="157" x2="186.73" y2="153" stroke="#000" stroke-width="2" />
<line x1="186.73" y1="25.1" x2="186.73" y2="29.1" stroke="#000" stroke-width="2" />
<line x1="194.38" y1="157" x2="194.38" y2="153" stroke="#000" stroke-width="2" />
<line x1="194.38" y1="25.1" x2="194.38" y2="29.1" stroke="#000" stroke-width="2" />
<line x1="200.64" y1="157" x2="200.64" y2="153" stroke="#000" stroke-width="2" />
<line x1="200.64" y1="25.1" x2="200.64" y2="29.1" stroke="#000" stroke-width="2" />
<line x1="205.92" y1="157" x2="205.92" y2="153" stroke="#000" stroke-width="2" />
<line x1="205.92" y1="25.1" x2="205.92" y2="29.1" stroke="#000" stroke-width="2" />
<line x1="210.5" y1="157" x2="210.5" y2="153" stroke="#000" stroke-width="2" />
<line x1="210.5" y1="25.1" x2="210.5" y2="29.1" stroke="#000" stroke-width="2" />
<line x1="214.54" y1="157" x2="214.54" y2="153" stroke="#000" stroke-width="2" />
<line x1="214.54" y1="25.1" x2="214.54" y2="29.1" stroke="#000" stroke-width="2" />
<line x1="218.15" y1="157" x2="218.15" y2="149" stroke="#000" stroke-width="2" />
<line x1="218.15" y1="25.1" x2="218.15" y2="33.1" stroke="#000" stroke-width="2" />
<line x1="241.92" y1="157" x2="241.92" y2="153" stroke="#000" stroke-width="2" />
<line x1="241.92" y1="25.1" x2="241.92" y2="29.1" stroke="#000" stroke-width="2" />
<line x1="255.82" y1="157" x2="255.82" y2="153" stroke="#000" stroke-width="2" />
<line x1="255.82" y1="25.1" x2="255.82" y2="29.1" stroke="#000" stroke-width="2" />
<line x1="265.68" y1="157" x2="265.68" y2="153" stroke="#000" stroke-width="2" />
<line x1="265.68" y1="25.1" x2="265.68" y2="29.1" stroke="#000" stroke-width="2" />
<line x1="273.33" y1="157" x2="273.33" y2="153" stroke="#000" stroke-width="2" />
<line x1="273.33" y1="25.1" x2="273.33" y2="29.1" stroke="#000" stroke-width="2" />
<line x1="279.59" y1="157" x2="279.59" y2="153" stroke="#000" stroke-width="2" />
<line x1="279.59" y1="25.1" x2="279.59" y2="29.1" stroke="#000" stroke-width="2" />
<line x1="284.87" y1="157" x2="284.87" y2="153" stroke="#000" stroke-width="2" />
<line x1="284.87" y1="25.1" x2="284.87" y2="29.1" stroke="#000" stroke-width="2" />
<line x1="289.45" y1="157" x2="289.45" y2="153" stroke="#000" stroke-width="2" />
<line x1="289.45" y1="25.1" x2="289.45" y2="29.1" stroke="#000" stroke-width="2" />
<line x1="293.49" y1="157" x2="293.49" y2="153" stroke="#000" stroke-width="2" />
<line x1="293.49" y1="25.1" x2="293.49" y2="29.1" stroke="#000" stroke-width="2" />
<line x1="297.1" y1="157" x2="297.1" y2="149" stroke="#000" stroke-width="2" />
<line x1="297.1" y1="25.1" x2="297.1" y2="33.1" stroke="#000" stroke-width="2" />
<line x1="139.2" y1="146" x2="143.2" y2="146" stroke="#000" stroke-width="2" />
<line x1="320.5" y1="146" x2="316.5" y2="146" stroke="#000" stroke-width="2" />
<line x1="139.2" y1="139.56" x2="143.2" y2="139.56" stroke="#000" stroke-width="2" />
<line x1="320.5" y1="139.56" x2="316.5" y2="139.56" stroke="#000" stroke-width="2" />
<line x1="139.2" y1="134.99" x2="143.2" y2="134.99" stroke="#000" stroke-width="2" />
<line x1="320.5" y1="134.99" x2="316.5" y2="134.99" stroke="#000" stroke-width="2" />
<line x1="139.2" y1="131.45" x2="143.2" y2="131.45" stroke="#000" stroke-width="2" />
<line x1="320.5" y1="131.45" x2="316.5" y2="131.45" stroke="#000" stroke-width="2" />
<line x1="139.2" y1="128.56" x2="143.2" y2="128.56" stroke="#000" stroke-width="2" />
<line x1="320.5" y1="128.56" x2="316.5" y2="128.56" stroke="#000" stroke-width="2" />
<line x1="139.2" y1="126.11" x2="143.2" y2="126.11" stroke="#000" stroke-width="2" />
<line x1="320.5" y1="126.11" x2="316.5" y2="126.11" stroke="#000" stroke-width="2" />
<line x1="139.2" y1="123.99" x2="143.2" y2="123.99" stroke="#000" stroke-width="2" />
<line x1="320.5" y1="123.99" x2="316.5" y2="123.99" stroke="#000" stroke-width="2" />
<line x1="139.2" y1="122.12" x2="143.2" y2="122.12" stroke="#000" stroke-width="2" />
<line x1="320.5" y1="122.12" x2="316.5" y2="122.12" stroke="#000" stroke-width="2" />
<line x1="139.2" y1="120.45" x2="147.2" y2="120.45" stroke="#000" stroke-width="2" />
<line x1="320.5" y1="120.45" x2="312.5" y2="120.45" stroke="#000" stroke-width="2" />
<line x1="139.2" y1="109.45" x2="143.2" y2="109.45" stroke="#000" stroke-width="2" />
<line x1="320.5" y1="109.45" x2="316.5" y2="109.45" stroke="#000" stroke-width="2" />
<line x1="139.2" y1="103.01" x2="143.2" y2="103.01" stroke="#000" stroke-width="2" />
<line x1="320.5" y1="103.01" x2="316.5" y2="103.01" stroke="#000" stroke-width="2" />
<line x1="139.2" y1="98.44" x2="143.2" y2="98.44" stroke="#000" stroke-width="2" />
<line x1="320.5" y1="98.44" x2="316.5" y2="98.44" stroke="#000" stroke-width="2" />
<line x1="139.2" y1="94.9" x2="143.2" y2="94.9" stroke="#000" stroke-width="2" />
<line x1="320.5" y1="94.9" x2="316.5" y2="94.9" stroke="#000" stroke-width="2" />
<line x1="139.2" y1="92.01" x2="143.2" y2="92.01" stroke="#000" stroke-width="2" />
<line x1="320.5" y1="92.01" x2="316.5" y2="92.01" stroke="#000" stroke-width="2" />
<line x1="139.2" y1="89.56" x2="143.2" y2="89.56" stroke="#000" stroke-width="2" />
<line x1="320.5" y1="89.56" x2="316.5" y2="89.56" stroke="#000" stroke-width="2" />
<line x1="139.2" y1="87.44" x2="143.2" y2="87.44" stroke="#000" stroke-width="2" />
<line x1="320.5" y1="87.44" x2="316.5" y2="87.44" stroke="#000" stroke-width="2" />
<line x1="139.2" y1="85.57" x2="143.2" y2="85.57" stroke="#000" stroke-width="2" />
<line x1="320.5" y1="85.57" x2="316.5" y2="85.57" stroke="#000" stroke-width="2" />
<line x1="139.2" y1="83.9" x2="147.2" y2="83.9" stroke="#000" stroke-width="2" />
<line x1="320.5" y1="83.9" x2="312.5" y2="83.9" stroke="#000" stroke-width="2" />
<line x1="139.2" y1="72.9" x2="143.2" y2="72.9" stroke="#000" stroke-width="2" />
<line x1="320.5" y1="72.9" x2="316.5" y2="72.9" stroke="#000" stroke-width="2" />
<line x1="139.2" y1="66.46" x2="143.2" y2="66.46" stroke="#000" stroke-width="2" />
<line x1="320.5" y1="66.46" x2="316.5" y2="66.46" stroke="#000" stroke-width="2" />
<line x1="139.2" y1="61.89" x2="143.2" y2="61.89" stroke="#000" stroke-width="2" />
<line x1="320.5" y1="61.89" x2="316.5" y2="61.89" stroke="#000" stroke-width="2" />
<line x1="139.2" y1="58.35" x2="143.2" y2="58.35" stroke="#000" stroke-width="2" />
<line x1="320.5" y1="58.35" x2="316.5" y2="58.35" stroke="#000" stroke-width="2" />
<line x1="139.2" y1="55.46" x2="143.2" y2="55.46" stroke="#000" stroke-width="2" />
<line x1="320.5" y1="55.46" x2="316.5" y2="55.46" stroke="#000" stroke-width="2" />
<line x1="139.2" y1="53.01" x2="143.2" y2="53.01" stroke="#000" stroke-width="2" />
<line x1="320.5" y1="53.01" x2="316.5" y2="53.01" stroke="#000" stroke-width="2" />
<line x1="139.2" y1="50.89" x2="143.2" y2="50.89" stroke="#000" stroke-width="2" />
<line x1="320.5" y1="50.89" x2="316.5" y2="50.89" stroke="#000" stroke-width="2" />
<line x1="139.2" y1="49.02" x2="143.2" y2="49.02" stroke="#000" stroke-width="2" />
<line x1="320.5" y1="49.02" x2="316.5" y2="49.02" stroke="#000" stroke-width="2" />
<line x1="139.2" y1="47.35" x2="147.2" y2="47.35" stroke="#000" stroke-width="2" />
<line x1="320.5" y1="47.35" x2="312.5" y2="47.35" stroke="#000" stroke-width="2" />
<line x1="139.2" y1="36.35" x2="143.2" y2="36.35" stroke="#000" stroke-width="2" />
<line x1="320.5" y1="36.35" x2="316.5" y2="36.35" stroke="#000" stroke-width="2" />
<line x1="139.2" y1="29.91" x2="143.2" y2="29.91" stroke="#000" stroke-width="2" />
<line x1="320.5" y1="29.91" x2="316.5" y2="29.91" stroke="#000" stroke-width="2" />
<text x="139.2" y="176.2" font-size="15.5" text-anchor="middle" style="font-family:'Liberation Serif',serif;" >100</text>
<text x="218.15" y="176.2" font-size="15.5" text-anchor="middle" style="font-family:'Liberation Serif',serif;" >1000</text>
<text x="297.1" y="176.2" font-size="15.5" text-anchor="middle" style="font-family:'Liberation Serif',serif;" >10000</text>
<text x="332" y="163.2" font-size="15.5" text-anchor="start" style="font-family:'Liberation Serif',serif;" >10<tspan font-size="10" dy="-7">4</tspan></text>
<text x="332" y="126.65" font-size="15.5" text-anchor="start" style="font-family:'Liberation Serif',serif;" >10<tspan font-size="10" dy="-7">5</tspan></text>
<text x="332" y="90.1" font-size="15.5" text-anchor="start" style="font-family:'Liberation Serif',serif;" >10<tspan font-size="10" dy="-7">6</tspan></text>
<text x="332" y="53.55" font-size="15.5" text-anchor="start" style="font-family:'Liberation Serif',serif;" >10<tspan font-size="10" dy="-7">7</tspan></text>
<circle cx="116.4" cy="581.37" r="6" fill="none" stroke="#000" stroke-width="1.7"/>
<circle cx="129.23" cy="581.37" r="6" fill="none" stroke="#000" stroke-width="1.7"/>
<circle cx="159.79" cy="581.37" r="6" fill="none" stroke="#000" stroke-width="1.7"/>
<circle cx="172.01" cy="581.37" r="6" fill="none" stroke="#000" stroke-width="1.7"/>
<circle cx="202.57" cy="580.43" r="6" fill="none" stroke="#000" stroke-width="1.7"/>
<circle cx="233.13" cy="577.63" r="6" fill="none" stroke="#000" stroke-width="1.7"/>
<circle cx="263.69" cy="569.24" r="6" fill="none" stroke="#000" stroke-width="1.7"/>
<circle cx="294.24" cy="529.59" r="6" fill="none" stroke="#000" stroke-width="1.7"/>
<circle cx="324.8" cy="428.82" r="6" fill="none" stroke="#000" stroke-width="1.7"/>
<rect x="110.9" y="423.9" width="213.9" height="158.2" fill="none" stroke="#000" stroke-width="2.1"/>
<line x1="126.18" y1="582.1" x2="126.18" y2="578.1" stroke="#000" stroke-width="2" />
<line x1="126.18" y1="423.9" x2="126.18" y2="427.9" stroke="#000" stroke-width="2" />
<line x1="141.46" y1="582.1" x2="141.46" y2="578.1" stroke="#000" stroke-width="2" />
<line x1="141.46" y1="423.9" x2="141.46" y2="427.9" stroke="#000" stroke-width="2" />
<line x1="156.74" y1="582.1" x2="156.74" y2="578.1" stroke="#000" stroke-width="2" />
<line x1="156.74" y1="423.9" x2="156.74" y2="427.9" stroke="#000" stroke-width="2" />
<line x1="172.01" y1="582.1" x2="172.01" y2="574.1" stroke="#000" stroke-width="2" />
<line x1="172.01" y1="423.9" x2="172.01" y2="431.9" stroke="#000" stroke-width="2" />
<line x1="187.29" y1="582.1" x2="187.29" y2="578.1" stroke="#000" stroke-width="2" />
<line x1="187.29" y1="423.9" x2="187.29" y2="427.9" stroke="#000" stroke-width="2" />
<line x1="202.57" y1="582.1" x2="202.57" y2="578.1" stroke="#000" stroke-width="2" />
<line x1="202.57" y1="423.9" x2="202.57" y2="427.9" stroke="#000" stroke-width="2" />
<line x1="217.85" y1="582.1" x2="217.85" y2="578.1" stroke="#000" stroke-width="2" />
<line x1="217.85" y1="423.9" x2="217.85" y2="427.9" stroke="#000" stroke-width="2" />
<line x1="233.13" y1="582.1" x2="233.13" y2="574.1" stroke="#000" stroke-width="2" />
<line x1="233.13" y1="423.9" x2="233.13" y2="431.9" stroke="#000" stroke-width="2" />
<line x1="248.41" y1="582.1" x2="248.41" y2="578.1" stroke="#000" stroke-width="2" />
<line x1="248.41" y1="423.9" x2="248.41" y2="427.9" stroke="#000" stroke-width="2" />
<line x1="263.69" y1="582.1" x2="263.69" y2="578.1" stroke="#000" stroke-width="2" />
<line x1="263.69" y1="423.9" x2="263.69" y2="427.9" stroke="#000" stroke-width="2" />
<line x1="278.96" y1="582.1" x2="278.96" y2="578.1" stroke="#000" stroke-width="2" />
<line x1="278.96" y1="423.9" x2="278.96" y2="427.9" stroke="#000" stroke-width="2" />
<line x1="294.24" y1="582.1" x2="294.24" y2="574.1" stroke="#000" stroke-width="2" />
<line x1="294.24" y1="423.9" x2="294.24" y2="431.9" stroke="#000" stroke-width="2" />
<line x1="309.52" y1="582.1" x2="309.52" y2="578.1" stroke="#000" stroke-width="2" />
<line x1="309.52" y1="423.9" x2="309.52" y2="427.9" stroke="#000" stroke-width="2" />
<line x1="110.9" y1="572.97" x2="114.9" y2="572.97" stroke="#000" stroke-width="2" />
<line x1="324.8" y1="572.97" x2="320.8" y2="572.97" stroke="#000" stroke-width="2" />
<line x1="110.9" y1="563.64" x2="114.9" y2="563.64" stroke="#000" stroke-width="2" />
<line x1="324.8" y1="563.64" x2="320.8" y2="563.64" stroke="#000" stroke-width="2" />
<line x1="110.9" y1="554.31" x2="114.9" y2="554.31" stroke="#000" stroke-width="2" />
<line x1="324.8" y1="554.31" x2="320.8" y2="554.31" stroke="#000" stroke-width="2" />
<line x1="110.9" y1="544.98" x2="114.9" y2="544.98" stroke="#000" stroke-width="2" />
<line x1="324.8" y1="544.98" x2="320.8" y2="544.98" stroke="#000" stroke-width="2" />
<line x1="110.9" y1="535.65" x2="118.9" y2="535.65" stroke="#000" stroke-width="2" />
<line x1="324.8" y1="535.65" x2="316.8" y2="535.65" stroke="#000" stroke-width="2" />
<line x1="110.9" y1="526.32" x2="114.9" y2="526.32" stroke="#000" stroke-width="2" />
<line x1="324.8" y1="526.32" x2="320.8" y2="526.32" stroke="#000" stroke-width="2" />
<line x1="110.9" y1="516.99" x2="114.9" y2="516.99" stroke="#000" stroke-width="2" />
<line x1="324.8" y1="516.99" x2="320.8" y2="516.99" stroke="#000" stroke-width="2" />
<line x1="110.9" y1="507.66" x2="114.9" y2="507.66" stroke="#000" stroke-width="2" />
<line x1="324.8" y1="507.66" x2="320.8" y2="507.66" stroke="#000" stroke-width="2" />
<line x1="110.9" y1="498.33" x2="114.9" y2="498.33" stroke="#000" stroke-width="2" />
<line x1="324.8" y1="498.33" x2="320.8" y2="498.33" stroke="#000" stroke-width="2" />
<line x1="110.9" y1="489" x2="118.9" y2="489" stroke="#000" stroke-width="2" />
<line x1="324.8" y1="489" x2="316.8" y2="489" stroke="#000" stroke-width="2" />
<line x1="110.9" y1="479.67" x2="114.9" y2="479.67" stroke="#000" stroke-width="2" />
<line x1="324.8" y1="479.67" x2="320.8" y2="479.67" stroke="#000" stroke-width="2" />
<line x1="110.9" y1="470.34" x2="114.9" y2="470.34" stroke="#000" stroke-width="2" />
<line x1="324.8" y1="470.34" x2="320.8" y2="470.34" stroke="#000" stroke-width="2" />
<line x1="110.9" y1="461.01" x2="114.9" y2="461.01" stroke="#000" stroke-width="2" />
<line x1="324.8" y1="461.01" x2="320.8" y2="461.01" stroke="#000" stroke-width="2" />
<line x1="110.9" y1="451.68" x2="114.9" y2="451.68" stroke="#000" stroke-width="2" />
<line x1="324.8" y1="451.68" x2="320.8" y2="451.68" stroke="#000" stroke-width="2" />
<line x1="110.9" y1="442.35" x2="118.9" y2="442.35" stroke="#000" stroke-width="2" />
<line x1="324.8" y1="442.35" x2="316.8" y2="442.35" stroke="#000" stroke-width="2" />
<line x1="110.9" y1="433.02" x2="114.9" y2="433.02" stroke="#000" stroke-width="2" />
<line x1="324.8" y1="433.02" x2="320.8" y2="433.02" stroke="#000" stroke-width="2" />
<g clip-path="url(#clipB)">
<path d="M110.9,582.24 L111.97,582.24 L113.05,582.24 L114.12,582.24 L115.2,582.23 L116.27,582.23 L117.35,582.23 L118.42,582.23 L119.5,582.22 L120.57,582.22 L121.65,582.22 L122.72,582.21 L123.8,582.21 L124.87,582.21 L125.95,582.2 L127.02,582.2 L128.1,582.19 L129.17,582.19 L130.25,582.18 L131.32,582.18 L132.4,582.18 L133.47,582.17 L134.55,582.16 L135.62,582.16 L136.7,582.15 L137.77,582.15 L138.85,582.14 L139.92,582.13 L141,582.13 L142.07,582.12 L143.15,582.11 L144.22,582.11 L145.3,582.1 L146.37,582.09 L147.45,582.08 L148.52,582.07 L149.6,582.06 L150.67,582.05 L151.75,582.04 L152.82,582.03 L153.89,582.02 L154.97,582.01 L156.04,582 L157.12,581.99 L158.19,581.98 L159.27,581.96 L160.34,581.95 L161.42,581.93 L162.49,581.92 L163.57,581.9 L164.64,581.89 L165.72,581.87 L166.79,581.85 L167.87,581.84 L168.94,581.82 L170.02,581.8 L171.09,581.78 L172.17,581.76 L173.24,581.73 L174.32,581.71 L175.39,581.69 L176.47,581.66 L177.54,581.64 L178.62,581.61 L179.69,581.58 L180.77,581.55 L181.84,581.52 L182.92,581.49 L183.99,581.46 L185.07,581.42 L186.14,581.39 L187.22,581.35 L188.29,581.31 L189.37,581.27 L190.44,581.23 L191.52,581.19 L192.59,581.14 L193.67,581.1 L194.74,581.05 L195.82,581 L196.89,580.94 L197.96,580.89 L199.04,580.83 L200.11,580.77 L201.19,580.71 L202.26,580.65 L203.34,580.58 L204.41,580.51 L205.49,580.44 L206.56,580.36 L207.64,580.28 L208.71,580.2 L209.79,580.12 L210.86,580.03 L211.94,579.93 L213.01,579.84 L214.09,579.74 L215.16,579.64 L216.24,579.53 L217.31,579.41 L218.39,579.3 L219.46,579.18 L220.54,579.05 L221.61,578.92 L222.69,578.78 L223.76,578.64 L224.84,578.49 L225.91,578.34 L226.99,578.17 L228.06,578.01 L229.14,577.83 L230.21,577.65 L231.29,577.46 L232.36,577.27 L233.44,577.06 L234.51,576.85 L235.59,576.63 L236.66,576.4 L237.74,576.16 L238.81,575.91 L239.88,575.65 L240.96,575.38 L242.03,575.1 L243.11,574.81 L244.18,574.51 L245.26,574.19 L246.33,573.86 L247.41,573.52 L248.48,573.17 L249.56,572.8 L250.63,572.41 L251.71,572.01 L252.78,571.59 L253.86,571.16 L254.93,570.71 L256.01,570.24 L257.08,569.75 L258.16,569.24 L259.23,568.71 L260.31,568.16 L261.38,567.59 L262.46,566.99 L263.53,566.37 L264.61,565.72 L265.68,565.05 L266.76,564.35 L267.83,563.62 L268.91,562.87 L269.98,562.08 L271.06,561.26 L272.13,560.41 L273.21,559.52 L274.28,558.6 L275.36,557.63 L276.43,556.63 L277.51,555.59 L278.58,554.51 L279.66,553.38 L280.73,552.21 L281.81,550.99 L282.88,549.72 L283.95,548.4 L285.03,547.03 L286.1,545.6 L287.18,544.11 L288.25,542.56 L289.33,540.95 L290.4,539.28 L291.48,537.53 L292.55,535.72 L293.63,533.83 L294.7,531.86 L295.78,529.82 L296.85,527.69 L297.93,525.48 L299,523.18 L300.08,520.78 L301.15,518.28 L302.23,515.69 L303.3,512.99 L304.38,510.18 L305.45,507.26 L306.53,504.21 L307.6,501.05 L308.68,497.75 L309.75,494.33 L310.83,490.76 L311.9,487.05 L312.98,483.19 L314.05,479.17 L315.13,474.99 L316.2,470.64 L317.28,466.11 L318.35,461.4 L319.43,456.5 L320.5,451.4 L321.58,446.1 L322.65,440.58 L323.73,434.83 L324.8,428.85" fill="none" stroke="#ff0000" stroke-width="1.8" stroke-linejoin="round" stroke-linecap="round" stroke-dasharray="2.3 5.2" stroke-linecap="butt"/>
</g>
<text x="110.9" y="606.3" font-size="17.5" text-anchor="middle" style="font-family:'Liberation Serif',serif;" >0</text>
<text x="172.01" y="606.3" font-size="17.5" text-anchor="middle" style="font-family:'Liberation Serif',serif;" >100</text>
<text x="233.13" y="606.3" font-size="17.5" text-anchor="middle" style="font-family:'Liberation Serif',serif;" >200</text>
<text x="294.24" y="606.3" font-size="17.5" text-anchor="middle" style="font-family:'Liberation Serif',serif;" >300</text>
<text x="107" y="585.3" font-size="17.5" text-anchor="end" style="font-family:'Liberation Serif',serif;" >0</text>
<text x="107" y="541.95" font-size="17.5" text-anchor="end" style="font-family:'Liberation Serif',serif;" >1x10<tspan font-size="12" dy="-7.8">5</tspan></text>
<text x="107" y="495.3" font-size="17.5" text-anchor="end" style="font-family:'Liberation Serif',serif;" >2x10<tspan font-size="12" dy="-7.8">5</tspan></text>
<text x="107" y="448.65" font-size="17.5" text-anchor="end" style="font-family:'Liberation Serif',serif;" >3x10<tspan font-size="12" dy="-7.8">5</tspan></text>
<rect x="373.2" y="432.4" width="10.4" height="10.4" fill="#0000ff"/>
<rect x="386.2" y="434" width="10.4" height="10.4" fill="#0000ff"/>
<rect x="416.7" y="445.5" width="10.4" height="10.4" fill="#0000ff"/>
<rect x="428.8" y="461.3" width="10.4" height="10.4" fill="#0000ff"/>
<rect x="459.6" y="480.6" width="10.4" height="10.4" fill="#0000ff"/>
<rect x="489.9" y="494" width="10.4" height="10.4" fill="#0000ff"/>
<rect x="520.8" y="511.3" width="10.4" height="10.4" fill="#0000ff"/>
<rect x="551" y="559.3" width="10.4" height="10.4" fill="#0000ff"/>
<rect x="373.1" y="423.8" width="213.9" height="158" fill="none" stroke="#000" stroke-width="2.1"/>
<line x1="388.38" y1="581.8" x2="388.38" y2="577.8" stroke="#000" stroke-width="2" />
<line x1="388.38" y1="423.8" x2="388.38" y2="427.8" stroke="#000" stroke-width="2" />
<line x1="403.66" y1="581.8" x2="403.66" y2="577.8" stroke="#000" stroke-width="2" />
<line x1="403.66" y1="423.8" x2="403.66" y2="427.8" stroke="#000" stroke-width="2" />
<line x1="418.94" y1="581.8" x2="418.94" y2="577.8" stroke="#000" stroke-width="2" />
<line x1="418.94" y1="423.8" x2="418.94" y2="427.8" stroke="#000" stroke-width="2" />
<line x1="434.21" y1="581.8" x2="434.21" y2="573.8" stroke="#000" stroke-width="2" />
<line x1="434.21" y1="423.8" x2="434.21" y2="431.8" stroke="#000" stroke-width="2" />
<line x1="449.49" y1="581.8" x2="449.49" y2="577.8" stroke="#000" stroke-width="2" />
<line x1="449.49" y1="423.8" x2="449.49" y2="427.8" stroke="#000" stroke-width="2" />
<line x1="464.77" y1="581.8" x2="464.77" y2="577.8" stroke="#000" stroke-width="2" />
<line x1="464.77" y1="423.8" x2="464.77" y2="427.8" stroke="#000" stroke-width="2" />
<line x1="480.05" y1="581.8" x2="480.05" y2="577.8" stroke="#000" stroke-width="2" />
<line x1="480.05" y1="423.8" x2="480.05" y2="427.8" stroke="#000" stroke-width="2" />
<line x1="495.33" y1="581.8" x2="495.33" y2="573.8" stroke="#000" stroke-width="2" />
<line x1="495.33" y1="423.8" x2="495.33" y2="431.8" stroke="#000" stroke-width="2" />
<line x1="510.61" y1="581.8" x2="510.61" y2="577.8" stroke="#000" stroke-width="2" />
<line x1="510.61" y1="423.8" x2="510.61" y2="427.8" stroke="#000" stroke-width="2" />
<line x1="525.89" y1="581.8" x2="525.89" y2="577.8" stroke="#000" stroke-width="2" />
<line x1="525.89" y1="423.8" x2="525.89" y2="427.8" stroke="#000" stroke-width="2" />
<line x1="541.16" y1="581.8" x2="541.16" y2="577.8" stroke="#000" stroke-width="2" />
<line x1="541.16" y1="423.8" x2="541.16" y2="427.8" stroke="#000" stroke-width="2" />
<line x1="556.44" y1="581.8" x2="556.44" y2="573.8" stroke="#000" stroke-width="2" />
<line x1="556.44" y1="423.8" x2="556.44" y2="431.8" stroke="#000" stroke-width="2" />
<line x1="571.72" y1="581.8" x2="571.72" y2="577.8" stroke="#000" stroke-width="2" />
<line x1="571.72" y1="423.8" x2="571.72" y2="427.8" stroke="#000" stroke-width="2" />
<line x1="373.1" y1="573.9" x2="377.1" y2="573.9" stroke="#000" stroke-width="2" />
<line x1="587" y1="573.9" x2="583" y2="573.9" stroke="#000" stroke-width="2" />
<line x1="373.1" y1="566" x2="377.1" y2="566" stroke="#000" stroke-width="2" />
<line x1="587" y1="566" x2="583" y2="566" stroke="#000" stroke-width="2" />
<line x1="373.1" y1="558.1" x2="377.1" y2="558.1" stroke="#000" stroke-width="2" />
<line x1="587" y1="558.1" x2="583" y2="558.1" stroke="#000" stroke-width="2" />
<line x1="373.1" y1="550.2" x2="377.1" y2="550.2" stroke="#000" stroke-width="2" />
<line x1="587" y1="550.2" x2="583" y2="550.2" stroke="#000" stroke-width="2" />
<line x1="373.1" y1="542.3" x2="381.1" y2="542.3" stroke="#000" stroke-width="2" />
<line x1="587" y1="542.3" x2="579" y2="542.3" stroke="#000" stroke-width="2" />
<line x1="373.1" y1="534.4" x2="377.1" y2="534.4" stroke="#000" stroke-width="2" />
<line x1="587" y1="534.4" x2="583" y2="534.4" stroke="#000" stroke-width="2" />
<line x1="373.1" y1="526.5" x2="377.1" y2="526.5" stroke="#000" stroke-width="2" />
<line x1="587" y1="526.5" x2="583" y2="526.5" stroke="#000" stroke-width="2" />
<line x1="373.1" y1="518.6" x2="377.1" y2="518.6" stroke="#000" stroke-width="2" />
<line x1="587" y1="518.6" x2="583" y2="518.6" stroke="#000" stroke-width="2" />
<line x1="373.1" y1="510.7" x2="377.1" y2="510.7" stroke="#000" stroke-width="2" />
<line x1="587" y1="510.7" x2="583" y2="510.7" stroke="#000" stroke-width="2" />
<line x1="373.1" y1="502.8" x2="381.1" y2="502.8" stroke="#000" stroke-width="2" />
<line x1="587" y1="502.8" x2="579" y2="502.8" stroke="#000" stroke-width="2" />
<line x1="373.1" y1="494.9" x2="377.1" y2="494.9" stroke="#000" stroke-width="2" />
<line x1="587" y1="494.9" x2="583" y2="494.9" stroke="#000" stroke-width="2" />
<line x1="373.1" y1="487" x2="377.1" y2="487" stroke="#000" stroke-width="2" />
<line x1="587" y1="487" x2="583" y2="487" stroke="#000" stroke-width="2" />
<line x1="373.1" y1="479.1" x2="377.1" y2="479.1" stroke="#000" stroke-width="2" />
<line x1="587" y1="479.1" x2="583" y2="479.1" stroke="#000" stroke-width="2" />
<line x1="373.1" y1="471.2" x2="377.1" y2="471.2" stroke="#000" stroke-width="2" />
<line x1="587" y1="471.2" x2="583" y2="471.2" stroke="#000" stroke-width="2" />
<line x1="373.1" y1="463.3" x2="381.1" y2="463.3" stroke="#000" stroke-width="2" />
<line x1="587" y1="463.3" x2="579" y2="463.3" stroke="#000" stroke-width="2" />
<line x1="373.1" y1="455.4" x2="377.1" y2="455.4" stroke="#000" stroke-width="2" />
<line x1="587" y1="455.4" x2="583" y2="455.4" stroke="#000" stroke-width="2" />
<line x1="373.1" y1="447.5" x2="377.1" y2="447.5" stroke="#000" stroke-width="2" />
<line x1="587" y1="447.5" x2="583" y2="447.5" stroke="#000" stroke-width="2" />
<line x1="373.1" y1="439.6" x2="377.1" y2="439.6" stroke="#000" stroke-width="2" />
<line x1="587" y1="439.6" x2="583" y2="439.6" stroke="#000" stroke-width="2" />
<line x1="373.1" y1="431.7" x2="377.1" y2="431.7" stroke="#000" stroke-width="2" />
<line x1="587" y1="431.7" x2="583" y2="431.7" stroke="#000" stroke-width="2" />
<path d="M372.9,436.83 L375.9,436.85 M380.4,437.01 L383.4,437.18 M387.91,437.56 L390.89,437.89 M394.92,438.43 L397.88,438.89 M402.43,439.72 L405.37,440.32 M409.85,441.36 L412.75,442.11 M417.17,443.35 L420.03,444.22 M424.19,445.59 L427.01,446.59 M431.81,448.4 L434.59,449.52 M439.33,451.56 L442.07,452.8 M446.76,455.05 L449.44,456.4 M454.09,458.85 L456.71,460.3 M461.72,463.2 L464.28,464.75 M469.24,467.87 L471.76,469.51 M476.67,472.85 L479.13,474.57 M484,478.12 L486.4,479.93 M491.53,483.92 L493.87,485.8 M498.66,489.76 L500.94,491.71 M506.29,496.39 L508.51,498.4 M513.41,502.93 L515.59,505 M520.44,509.72 L522.56,511.84 M526.96,516.31 L529.04,518.48 M533.58,523.3 L535.62,525.51 M540.21,530.59 L542.19,532.83 M546.02,537.23 L547.98,539.51 M551.94,544.22 L553.86,546.53 M557.56,551.07 L559.44,553.41 M563.48,558.52 L565.32,560.89 M569.1,565.81 L570.9,568.2 M574.71,573.31 L576.49,575.72 M579.69,580.67 L581.91,582.68" stroke="#ff0000" stroke-width="1.8" fill="none"/>
<text x="373.1" y="606.3" font-size="17.5" text-anchor="middle" style="font-family:'Liberation Serif',serif;" >0</text>
<text x="434.21" y="606.3" font-size="17.5" text-anchor="middle" style="font-family:'Liberation Serif',serif;" >100</text>
<text x="495.33" y="606.3" font-size="17.5" text-anchor="middle" style="font-family:'Liberation Serif',serif;" >200</text>
<text x="556.44" y="606.3" font-size="17.5" text-anchor="middle" style="font-family:'Liberation Serif',serif;" >300</text>
<text x="597.3" y="586.8" font-size="17.5" text-anchor="start" style="font-family:'Liberation Serif',serif;" >0</text>
<text x="597.3" y="547.3" font-size="17.5" text-anchor="start" style="font-family:'Liberation Serif',serif;" >500</text>
<text x="597.3" y="507.8" font-size="17.5" text-anchor="start" style="font-family:'Liberation Serif',serif;" >1000</text>
<text x="597.3" y="468.3" font-size="17.5" text-anchor="start" style="font-family:'Liberation Serif',serif;" >1500</text>
<text x="597.3" y="428.8" font-size="17.5" text-anchor="start" style="font-family:'Liberation Serif',serif;" >2000</text>
<line x1="580.3" y1="515" x2="580.3" y2="564" stroke="#ff0000" stroke-width="1.7" />
<path d="M574.2,562.6 L586.7,562.6 L580.4,574.9 Z" fill="#ff0000"/>
<rect x="385.5" y="550.3" width="47.1" height="1.5" fill="#333"/>
<rect x="492.7" y="550.1" width="24.1" height="1.6" fill="#333"/>
<rect x="438" y="549.3" width="10.4" height="1.3" fill="#222"/>
<rect x="438" y="553" width="10.4" height="1.3" fill="#222"/>
<rect x="467.6" y="551.4" width="10.2" height="1.3" fill="#222"/>
<path d="M492.3,529.6 Q476.4,550.7 492.3,571.7 Q479.4,550.7 492.3,529.6 Z" fill="#111"/>
<path d="M517.7,529.6 Q533.6,550.7 517.7,571.7 Q530.6,550.7 517.7,529.6 Z" fill="#111"/>
<g clip-path="url(#clipD)">
<path d="M111.1,847.9 L116,841.56 L116.8,840.99 L117.6,840.42 L118.4,839.86 L119.2,839.3 L120,838.74 L120.8,838.18 L121.6,837.63 L122.4,837.08 L123.2,836.53 L124,835.99 L124.8,835.45 L125.6,834.91 L126.4,834.37 L127.2,833.84 L128,833.31 L128.8,832.79 L129.6,832.26 L130.4,831.74 L131.2,831.22 L132,830.71 L132.8,830.19 L133.6,829.68 L134.4,829.17 L135.2,828.67 L136,828.16 L136.8,827.66 L137.6,827.17 L138.4,826.67 L139.2,826.18 L140,825.69 L140.8,825.21 L141.6,824.73 L142.4,824.25 L143.2,823.77 L144,823.3 L144.8,822.83 L145.6,822.37 L146.4,821.91 L147.2,821.46 L148,821 L148.8,820.56 L149.6,820.11 L150.4,819.68 L151.2,819.24 L152,818.81 L152.8,818.39 L153.6,817.97 L154.4,817.55 L155.2,817.14 L156,816.74 L156.8,816.34 L157.6,815.95 L158.4,815.56 L159.2,815.17 L160,814.8 L160.8,814.42 L161.6,814.06 L162.4,813.7 L163.2,813.34 L164,813 L164.8,812.66 L165.6,812.32 L166.4,811.99 L167.2,811.67 L168,811.36 L168.8,811.05 L169.6,810.75 L170.4,810.46 L171.2,810.18 L172,809.9 L172.8,809.64 L173.6,809.38 L174.4,809.13 L175.2,808.89 L176,808.66 L176.8,808.44 L177.6,808.22 L178.4,808.02 L179.2,807.83 L180,807.64 L180.8,807.47 L181.6,807.31 L182.4,807.16 L183.2,807.02 L184,806.89 L184.8,806.77 L185.6,806.67 L186.4,806.57 L187.2,806.49 L188,806.42 L188.8,806.36 L189.6,806.31 L190.4,806.28 L191.2,806.26 L192,806.25 L192.8,806.25 L193.6,806.26 L194.4,806.29 L195.2,806.32 L196,806.37 L196.8,806.42 L197.6,806.49 L198.4,806.56 L199.2,806.65 L200,806.74 L200.8,806.84 L201.6,806.96 L202.4,807.08 L203.2,807.2 L204,807.34 L204.8,807.48 L205.6,807.63 L206.4,807.79 L207.2,807.96 L208,808.13 L208.8,808.3 L209.6,808.49 L210.4,808.68 L211.2,808.87 L212,809.07 L212.8,809.27 L213.6,809.48 L214.4,809.69 L215.2,809.91 L216,810.13 L216.8,810.36 L217.6,810.58 L218.4,810.81 L219.2,811.05 L220,811.29 L220.8,811.53 L221.6,811.77 L222.4,812.01 L223.2,812.26 L224,812.51 L224.8,812.77 L225.6,813.02 L226.4,813.28 L227.2,813.54 L228,813.8 L228.8,814.06 L229.6,814.32 L230.4,814.59 L231.2,814.86 L232,815.12 L232.8,815.39 L233.6,815.66 L234.4,815.94 L235.2,816.21 L236,816.48 L236.8,816.75 L237.6,817.03 L238.4,817.3 L239.2,817.57 L240,817.85 L240.8,818.12 L241.6,818.39 L242.4,818.66 L243.2,818.94 L244,819.21 L244.8,819.48 L245.6,819.75 L246.4,820.02 L247.2,820.29 L248,820.55 L248.8,820.82 L249.6,821.08 L250.4,821.34 L251.2,821.6 L252,821.86 L252.8,822.12 L253.6,822.37 L254.4,822.62 L255.2,822.87 L256,823.12 L256.8,823.36 L257.6,823.6 L258.4,823.84 L259.2,824.08 L260,824.31 L260.8,824.54 L261.6,824.77 L262.4,824.99 L263.2,825.21 L264,825.42 L264.8,825.63 L265.6,825.84 L266.4,826.04 L267.2,826.24 L268,826.44 L268.8,826.63 L269.6,826.81 L270.4,826.99 L271.2,827.17 L272,827.34 L272.8,827.51 L273.6,827.67 L274.4,827.82 L275.2,827.97 L276,828.12 L276.8,828.26 L277.6,828.4 L278.4,828.53 L279.2,828.65 L280,828.78 L280.8,828.89 L281.6,829.01 L282.4,829.12 L283.2,829.22 L284,829.33 L284.8,829.42 L285.6,829.52 L286.4,829.61 L287.2,829.69 L288,829.78 L288.8,829.86 L289.6,829.93 L290.4,830.01 L291.2,830.08 L292,830.14 L292.8,830.21 L293.6,830.27 L294.4,830.33 L295.2,830.39 L296,830.44 L296.8,830.49 L297.6,830.54 L298.4,830.59 L299.2,830.63 L300,830.68 L300.8,830.72 L301.6,830.76 L302.4,830.79 L303.2,830.83 L304,830.86 L304.8,830.9 L305.6,830.93 L306.4,830.96 L307.2,830.99 L308,831.02 L308.8,831.04 L309.6,831.07 L310.4,831.1 L311.2,831.12 L312,831.14 L312.8,831.17 L313.6,831.19 L314.4,831.22 L315.2,831.24 L316,831.26 L316.8,831.28 L317.6,831.31 L318.4,831.33 L319.2,831.36 L320,831.38 L320.8,831.4 L321.6,831.43 L322.4,831.46 L323.2,831.48 L324,831.51 L324.8,831.54 L325.6,831.57 L326.4,831.6 L327.2,831.63 L328,831.67 L328.5,831.69" fill="none" stroke="#ff8000" stroke-width="2.7" stroke-linejoin="round" stroke-linecap="round" />
<path d="M111.1,847.9 L116,840.02 L116.8,839.39 L117.6,838.74 L118.4,838.07 L119.2,837.39 L120,836.68 L120.8,835.96 L121.6,835.22 L122.4,834.46 L123.2,833.68 L124,832.89 L124.8,832.09 L125.6,831.27 L126.4,830.44 L127.2,829.59 L128,828.73 L128.8,827.86 L129.6,826.98 L130.4,826.08 L131.2,825.18 L132,824.26 L132.8,823.34 L133.6,822.41 L134.4,821.47 L135.2,820.52 L136,819.57 L136.8,818.61 L137.6,817.64 L138.4,816.67 L139.2,815.7 L140,814.72 L140.8,813.74 L141.6,812.75 L142.4,811.76 L143.2,810.78 L144,809.79 L144.8,808.8 L145.6,807.81 L146.4,806.82 L147.2,805.83 L148,804.85 L148.8,803.86 L149.6,802.88 L150.4,801.91 L151.2,800.94 L152,799.97 L152.8,799.01 L153.6,798.05 L154.4,797.11 L155.2,796.16 L156,795.23 L156.8,794.31 L157.6,793.39 L158.4,792.49 L159.2,791.59 L160,790.71 L160.8,789.83 L161.6,788.97 L162.4,788.12 L163.2,787.29 L164,786.47 L164.8,785.66 L165.6,784.87 L166.4,784.09 L167.2,783.33 L168,782.58 L168.8,781.86 L169.6,781.15 L170.4,780.46 L171.2,779.79 L172,779.14 L172.8,778.5 L173.6,777.89 L174.4,777.3 L175.2,776.74 L176,776.19 L176.8,775.67 L177.6,775.17 L178.4,774.69 L179.2,774.24 L180,773.81 L180.8,773.4 L181.6,773.01 L182.4,772.64 L183.2,772.29 L184,771.96 L184.8,771.65 L185.6,771.37 L186.4,771.1 L187.2,770.85 L188,770.62 L188.8,770.41 L189.6,770.22 L190.4,770.05 L191.2,769.89 L192,769.76 L192.8,769.64 L193.6,769.54 L194.4,769.45 L195.2,769.39 L196,769.33 L196.8,769.3 L197.6,769.28 L198.4,769.28 L199.2,769.29 L200,769.32 L200.8,769.37 L201.6,769.42 L202.4,769.5 L203.2,769.58 L204,769.69 L204.8,769.8 L205.6,769.93 L206.4,770.07 L207.2,770.23 L208,770.39 L208.8,770.58 L209.6,770.77 L210.4,770.97 L211.2,771.19 L212,771.42 L212.8,771.66 L213.6,771.91 L214.4,772.17 L215.2,772.44 L216,772.72 L216.8,773.01 L217.6,773.31 L218.4,773.62 L219.2,773.94 L220,774.27 L220.8,774.6 L221.6,774.95 L222.4,775.3 L223.2,775.66 L224,776.03 L224.8,776.41 L225.6,776.79 L226.4,777.18 L227.2,777.58 L228,777.98 L228.8,778.39 L229.6,778.8 L230.4,779.22 L231.2,779.64 L232,780.07 L232.8,780.51 L233.6,780.94 L234.4,781.39 L235.2,781.83 L236,782.28 L236.8,782.74 L237.6,783.19 L238.4,783.65 L239.2,784.11 L240,784.58 L240.8,785.04 L241.6,785.51 L242.4,785.98 L243.2,786.45 L244,786.92 L244.8,787.39 L245.6,787.86 L246.4,788.33 L247.2,788.8 L248,789.27 L248.8,789.74 L249.6,790.21 L250.4,790.68 L251.2,791.15 L252,791.61 L252.8,792.07 L253.6,792.53 L254.4,792.99 L255.2,793.45 L256,793.9 L256.8,794.35 L257.6,794.79 L258.4,795.23 L259.2,795.67 L260,796.1 L260.8,796.53 L261.6,796.95 L262.4,797.37 L263.2,797.78 L264,798.19 L264.8,798.59 L265.6,798.98 L266.4,799.37 L267.2,799.75 L268,800.12 L268.8,800.48 L269.6,800.84 L270.4,801.19 L271.2,801.54 L272,801.87 L272.8,802.19 L273.6,802.51 L274.4,802.82 L275.2,803.12 L276,803.41 L276.8,803.69 L277.6,803.96 L278.4,804.22 L279.2,804.48 L280,804.73 L280.8,804.97 L281.6,805.21 L282.4,805.43 L283.2,805.65 L284,805.86 L284.8,806.07 L285.6,806.27 L286.4,806.46 L287.2,806.64 L288,806.82 L288.8,806.99 L289.6,807.16 L290.4,807.32 L291.2,807.47 L292,807.62 L292.8,807.76 L293.6,807.9 L294.4,808.03 L295.2,808.16 L296,808.28 L296.8,808.39 L297.6,808.5 L298.4,808.61 L299.2,808.71 L300,808.81 L300.8,808.9 L301.6,808.99 L302.4,809.08 L303.2,809.16 L304,809.24 L304.8,809.31 L305.6,809.38 L306.4,809.45 L307.2,809.51 L308,809.57 L308.8,809.63 L309.6,809.69 L310.4,809.74 L311.2,809.79 L312,809.84 L312.8,809.89 L313.6,809.93 L314.4,809.97 L315.2,810.01 L316,810.05 L316.8,810.09 L317.6,810.12 L318.4,810.16 L319.2,810.19 L320,810.22 L320.8,810.26 L321.6,810.29 L322.4,810.32 L323.2,810.35 L324,810.38 L324.8,810.41 L325.6,810.44 L326.4,810.47 L327.2,810.5 L328,810.53 L328.5,810.55" fill="none" stroke="#ff00ff" stroke-width="2.7" stroke-linejoin="round" stroke-linecap="round" />
<path d="M111.1,847.9 L116,839.55 L116.8,838.6 L117.6,837.66 L118.4,836.72 L119.2,835.79 L120,834.87 L120.8,833.94 L121.6,833.02 L122.4,832.11 L123.2,831.2 L124,830.29 L124.8,829.38 L125.6,828.47 L126.4,827.57 L127.2,826.67 L128,825.76 L128.8,824.86 L129.6,823.96 L130.4,823.06 L131.2,822.16 L132,821.25 L132.8,820.35 L133.6,819.44 L134.4,818.53 L135.2,817.62 L136,816.71 L136.8,815.79 L137.6,814.87 L138.4,813.95 L139.2,813.02 L140,812.09 L140.8,811.15 L141.6,810.21 L142.4,809.26 L143.2,808.31 L144,807.35 L144.8,806.38 L145.6,805.41 L146.4,804.43 L147.2,803.44 L148,802.45 L148.8,801.45 L149.6,800.45 L150.4,799.44 L151.2,798.43 L152,797.41 L152.8,796.4 L153.6,795.38 L154.4,794.36 L155.2,793.33 L156,792.31 L156.8,791.29 L157.6,790.27 L158.4,789.25 L159.2,788.23 L160,787.21 L160.8,786.2 L161.6,785.19 L162.4,784.18 L163.2,783.18 L164,782.18 L164.8,781.19 L165.6,780.2 L166.4,779.23 L167.2,778.25 L168,777.29 L168.8,776.33 L169.6,775.38 L170.4,774.45 L171.2,773.52 L172,772.6 L172.8,771.69 L173.6,770.8 L174.4,769.91 L175.2,769.04 L176,768.18 L176.8,767.34 L177.6,766.51 L178.4,765.69 L179.2,764.89 L180,764.1 L180.8,763.33 L181.6,762.58 L182.4,761.84 L183.2,761.12 L184,760.41 L184.8,759.72 L185.6,759.05 L186.4,758.39 L187.2,757.76 L188,757.14 L188.8,756.54 L189.6,755.96 L190.4,755.4 L191.2,754.86 L192,754.34 L192.8,753.84 L193.6,753.36 L194.4,752.9 L195.2,752.46 L196,752.04 L196.8,751.65 L197.6,751.27 L198.4,750.92 L199.2,750.59 L200,750.29 L200.8,750.01 L201.6,749.75 L202.4,749.52 L203.2,749.31 L204,749.12 L204.8,748.97 L205.6,748.83 L206.4,748.72 L207.2,748.64 L208,748.58 L208.8,748.56 L209.6,748.55 L210.4,748.58 L211.2,748.63 L212,748.71 L212.8,748.82 L213.6,748.96 L214.4,749.12 L215.2,749.32 L216,749.54 L216.8,749.79 L217.6,750.07 L218.4,750.38 L219.2,750.71 L220,751.06 L220.8,751.44 L221.6,751.83 L222.4,752.24 L223.2,752.66 L224,753.1 L224.8,753.55 L225.6,754.01 L226.4,754.48 L227.2,754.96 L228,755.44 L228.8,755.92 L229.6,756.41 L230.4,756.9 L231.2,757.39 L232,757.88 L232.8,758.37 L233.6,758.86 L234.4,759.36 L235.2,759.85 L236,760.35 L236.8,760.85 L237.6,761.35 L238.4,761.86 L239.2,762.37 L240,762.89 L240.8,763.4 L241.6,763.92 L242.4,764.45 L243.2,764.97 L244,765.5 L244.8,766.02 L245.6,766.55 L246.4,767.08 L247.2,767.62 L248,768.15 L248.8,768.68 L249.6,769.21 L250.4,769.75 L251.2,770.28 L252,770.81 L252.8,771.34 L253.6,771.87 L254.4,772.4 L255.2,772.93 L256,773.45 L256.8,773.98 L257.6,774.5 L258.4,775.02 L259.2,775.53 L260,776.04 L260.8,776.55 L261.6,777.06 L262.4,777.56 L263.2,778.06 L264,778.55 L264.8,779.04 L265.6,779.52 L266.4,780 L267.2,780.47 L268,780.94 L268.8,781.4 L269.6,781.86 L270.4,782.31 L271.2,782.75 L272,783.19 L272.8,783.62 L273.6,784.04 L274.4,784.46 L275.2,784.87 L276,785.28 L276.8,785.67 L277.6,786.07 L278.4,786.45 L279.2,786.83 L280,787.2 L280.8,787.56 L281.6,787.92 L282.4,788.27 L283.2,788.62 L284,788.95 L284.8,789.29 L285.6,789.61 L286.4,789.93 L287.2,790.24 L288,790.54 L288.8,790.83 L289.6,791.12 L290.4,791.4 L291.2,791.68 L292,791.94 L292.8,792.2 L293.6,792.46 L294.4,792.7 L295.2,792.94 L296,793.17 L296.8,793.39 L297.6,793.61 L298.4,793.82 L299.2,794.02 L300,794.21 L300.8,794.4 L301.6,794.57 L302.4,794.74 L303.2,794.91 L304,795.06 L304.8,795.21 L305.6,795.35 L306.4,795.48 L307.2,795.6 L308,795.72 L308.8,795.83 L309.6,795.93 L310.4,796.02 L311.2,796.1 L312,796.18 L312.8,796.25 L313.6,796.31 L314.4,796.36 L315.2,796.4 L316,796.43 L316.8,796.46 L317.6,796.48 L318.4,796.49 L319.2,796.49 L320,796.48 L320.8,796.47 L321.6,796.45 L322.4,796.41 L323.2,796.37 L324,796.32 L324.8,796.27 L325.6,796.2 L326.4,796.13 L327.2,796.04 L328,795.95 L328.5,795.89" fill="none" stroke="#808080" stroke-width="2.7" stroke-linejoin="round" stroke-linecap="round" />
<path d="M111.1,847.9 L116,839.28 L116.8,838.37 L117.6,837.46 L118.4,836.54 L119.2,835.62 L120,834.7 L120.8,833.78 L121.6,832.86 L122.4,831.93 L123.2,831.01 L124,830.08 L124.8,829.15 L125.6,828.21 L126.4,827.28 L127.2,826.34 L128,825.4 L128.8,824.46 L129.6,823.52 L130.4,822.57 L131.2,821.62 L132,820.67 L132.8,819.72 L133.6,818.76 L134.4,817.81 L135.2,816.85 L136,815.89 L136.8,814.92 L137.6,813.96 L138.4,812.99 L139.2,812.02 L140,811.04 L140.8,810.07 L141.6,809.09 L142.4,808.11 L143.2,807.13 L144,806.14 L144.8,805.15 L145.6,804.16 L146.4,803.17 L147.2,802.17 L148,801.17 L148.8,800.17 L149.6,799.17 L150.4,798.16 L151.2,797.16 L152,796.14 L152.8,795.13 L153.6,794.11 L154.4,793.1 L155.2,792.07 L156,791.05 L156.8,790.02 L157.6,788.99 L158.4,787.96 L159.2,786.92 L160,785.88 L160.8,784.84 L161.6,783.8 L162.4,782.75 L163.2,781.7 L164,780.65 L164.8,779.59 L165.6,778.53 L166.4,777.47 L167.2,776.4 L168,775.33 L168.8,774.26 L169.6,773.19 L170.4,772.12 L171.2,771.04 L172,769.97 L172.8,768.9 L173.6,767.84 L174.4,766.77 L175.2,765.72 L176,764.67 L176.8,763.63 L177.6,762.6 L178.4,761.58 L179.2,760.57 L180,759.58 L180.8,758.6 L181.6,757.63 L182.4,756.68 L183.2,755.74 L184,754.83 L184.8,753.93 L185.6,753.06 L186.4,752.2 L187.2,751.37 L188,750.56 L188.8,749.78 L189.6,749.02 L190.4,748.29 L191.2,747.58 L192,746.9 L192.8,746.25 L193.6,745.62 L194.4,745.01 L195.2,744.44 L196,743.89 L196.8,743.37 L197.6,742.88 L198.4,742.41 L199.2,741.98 L200,741.57 L200.8,741.19 L201.6,740.84 L202.4,740.52 L203.2,740.24 L204,739.98 L204.8,739.75 L205.6,739.55 L206.4,739.39 L207.2,739.26 L208,739.15 L208.8,739.09 L209.6,739.05 L210.4,739.04 L211.2,739.07 L212,739.14 L212.8,739.23 L213.6,739.35 L214.4,739.51 L215.2,739.69 L216,739.9 L216.8,740.14 L217.6,740.41 L218.4,740.7 L219.2,741.02 L220,741.36 L220.8,741.73 L221.6,742.12 L222.4,742.54 L223.2,742.97 L224,743.43 L224.8,743.9 L225.6,744.4 L226.4,744.92 L227.2,745.45 L228,746 L228.8,746.57 L229.6,747.15 L230.4,747.75 L231.2,748.36 L232,748.99 L232.8,749.63 L233.6,750.28 L234.4,750.94 L235.2,751.61 L236,752.3 L236.8,752.99 L237.6,753.69 L238.4,754.4 L239.2,755.11 L240,755.84 L240.8,756.56 L241.6,757.29 L242.4,758.03 L243.2,758.77 L244,759.51 L244.8,760.25 L245.6,760.99 L246.4,761.74 L247.2,762.48 L248,763.22 L248.8,763.96 L249.6,764.7 L250.4,765.43 L251.2,766.16 L252,766.88 L252.8,767.6 L253.6,768.31 L254.4,769.01 L255.2,769.71 L256,770.4 L256.8,771.07 L257.6,771.74 L258.4,772.4 L259.2,773.06 L260,773.7 L260.8,774.33 L261.6,774.96 L262.4,775.57 L263.2,776.18 L264,776.78 L264.8,777.37 L265.6,777.95 L266.4,778.52 L267.2,779.09 L268,779.64 L268.8,780.19 L269.6,780.72 L270.4,781.25 L271.2,781.77 L272,782.28 L272.8,782.78 L273.6,783.27 L274.4,783.76 L275.2,784.23 L276,784.7 L276.8,785.15 L277.6,785.6 L278.4,786.04 L279.2,786.47 L280,786.89 L280.8,787.3 L281.6,787.71 L282.4,788.1 L283.2,788.49 L284,788.86 L284.8,789.23 L285.6,789.59 L286.4,789.94 L287.2,790.28 L288,790.61 L288.8,790.94 L289.6,791.25 L290.4,791.56 L291.2,791.85 L292,792.14 L292.8,792.42 L293.6,792.69 L294.4,792.95 L295.2,793.2 L296,793.45 L296.8,793.68 L297.6,793.91 L298.4,794.12 L299.2,794.33 L300,794.53 L300.8,794.72 L301.6,794.9 L302.4,795.07 L303.2,795.23 L304,795.39 L304.8,795.53 L305.6,795.67 L306.4,795.79 L307.2,795.91 L308,796.02 L308.8,796.12 L309.6,796.21 L310.4,796.29 L311.2,796.37 L312,796.43 L312.8,796.49 L313.6,796.53 L314.4,796.57 L315.2,796.6 L316,796.62 L316.8,796.63 L317.6,796.63 L318.4,796.62 L319.2,796.61 L320,796.58 L320.8,796.55 L321.6,796.5 L322.4,796.45 L323.2,796.39 L324,796.32 L324.8,796.24 L325.6,796.15 L326.4,796.05 L327.2,795.95 L328,795.83 L328.5,795.75" fill="none" stroke="#008000" stroke-width="2.7" stroke-linejoin="round" stroke-linecap="round" />
<path d="M111.1,847.9 L116,838.61 L116.8,837.82 L117.6,837.01 L118.4,836.2 L119.2,835.38 L120,834.55 L120.8,833.7 L121.6,832.85 L122.4,831.99 L123.2,831.12 L124,830.24 L124.8,829.35 L125.6,828.45 L126.4,827.54 L127.2,826.62 L128,825.69 L128.8,824.75 L129.6,823.81 L130.4,822.85 L131.2,821.89 L132,820.92 L132.8,819.93 L133.6,818.94 L134.4,817.95 L135.2,816.94 L136,815.92 L136.8,814.9 L137.6,813.87 L138.4,812.82 L139.2,811.78 L140,810.72 L140.8,809.65 L141.6,808.58 L142.4,807.5 L143.2,806.41 L144,805.32 L144.8,804.21 L145.6,803.1 L146.4,801.98 L147.2,800.86 L148,799.73 L148.8,798.59 L149.6,797.44 L150.4,796.28 L151.2,795.12 L152,793.95 L152.8,792.78 L153.6,791.6 L154.4,790.41 L155.2,789.21 L156,788.01 L156.8,786.81 L157.6,785.59 L158.4,784.38 L159.2,783.16 L160,781.93 L160.8,780.71 L161.6,779.48 L162.4,778.25 L163.2,777.02 L164,775.79 L164.8,774.56 L165.6,773.34 L166.4,772.11 L167.2,770.89 L168,769.67 L168.8,768.45 L169.6,767.24 L170.4,766.03 L171.2,764.83 L172,763.63 L172.8,762.44 L173.6,761.26 L174.4,760.09 L175.2,758.93 L176,757.77 L176.8,756.63 L177.6,755.49 L178.4,754.37 L179.2,753.26 L180,752.16 L180.8,751.08 L181.6,750.01 L182.4,748.95 L183.2,747.91 L184,746.88 L184.8,745.87 L185.6,744.88 L186.4,743.9 L187.2,742.94 L188,742 L188.8,741.07 L189.6,740.17 L190.4,739.28 L191.2,738.41 L192,737.57 L192.8,736.74 L193.6,735.94 L194.4,735.15 L195.2,734.39 L196,733.65 L196.8,732.94 L197.6,732.24 L198.4,731.57 L199.2,730.93 L200,730.31 L200.8,729.72 L201.6,729.15 L202.4,728.6 L203.2,728.09 L204,727.6 L204.8,727.14 L205.6,726.71 L206.4,726.3 L207.2,725.93 L208,725.58 L208.8,725.26 L209.6,724.98 L210.4,724.72 L211.2,724.5 L212,724.31 L212.8,724.15 L213.6,724.02 L214.4,723.93 L215.2,723.87 L216,723.85 L216.8,723.86 L217.6,723.9 L218.4,723.97 L219.2,724.08 L220,724.22 L220.8,724.38 L221.6,724.58 L222.4,724.81 L223.2,725.06 L224,725.34 L224.8,725.65 L225.6,725.98 L226.4,726.34 L227.2,726.73 L228,727.13 L228.8,727.56 L229.6,728.01 L230.4,728.49 L231.2,728.98 L232,729.49 L232.8,730.03 L233.6,730.58 L234.4,731.15 L235.2,731.73 L236,732.33 L236.8,732.95 L237.6,733.58 L238.4,734.22 L239.2,734.88 L240,735.55 L240.8,736.23 L241.6,736.92 L242.4,737.63 L243.2,738.34 L244,739.06 L244.8,739.79 L245.6,740.52 L246.4,741.26 L247.2,742.01 L248,742.76 L248.8,743.52 L249.6,744.28 L250.4,745.04 L251.2,745.8 L252,746.57 L252.8,747.33 L253.6,748.1 L254.4,748.86 L255.2,749.62 L256,750.38 L256.8,751.14 L257.6,751.89 L258.4,752.64 L259.2,753.38 L260,754.12 L260.8,754.86 L261.6,755.59 L262.4,756.32 L263.2,757.04 L264,757.75 L264.8,758.46 L265.6,759.16 L266.4,759.86 L267.2,760.54 L268,761.23 L268.8,761.9 L269.6,762.56 L270.4,763.22 L271.2,763.87 L272,764.51 L272.8,765.14 L273.6,765.76 L274.4,766.37 L275.2,766.97 L276,767.56 L276.8,768.14 L277.6,768.71 L278.4,769.27 L279.2,769.81 L280,770.34 L280.8,770.87 L281.6,771.37 L282.4,771.87 L283.2,772.35 L284,772.82 L284.8,773.27 L285.6,773.71 L286.4,774.14 L287.2,774.55 L288,774.95 L288.8,775.33 L289.6,775.69 L290.4,776.04 L291.2,776.37 L292,776.69 L292.8,776.99 L293.6,777.27 L294.4,777.54 L295.2,777.8 L296,778.04 L296.8,778.26 L297.6,778.48 L298.4,778.68 L299.2,778.86 L300,779.04 L300.8,779.2 L301.6,779.35 L302.4,779.49 L303.2,779.62 L304,779.73 L304.8,779.84 L305.6,779.93 L306.4,780.02 L307.2,780.1 L308,780.16 L308.8,780.22 L309.6,780.27 L310.4,780.31 L311.2,780.35 L312,780.37 L312.8,780.39 L313.6,780.4 L314.4,780.41 L315.2,780.41 L316,780.4 L316.8,780.39 L317.6,780.37 L318.4,780.35 L319.2,780.33 L320,780.3 L320.8,780.26 L321.6,780.23 L322.4,780.19 L323.2,780.15 L324,780.1 L324.8,780.05 L325.6,780.01 L326.4,779.96 L327.2,779.9 L328,779.85 L328.5,779.82" fill="none" stroke="#8000ff" stroke-width="2.7" stroke-linejoin="round" stroke-linecap="round" />
<path d="M111.1,847.9 L116,838.57 L116.8,837.8 L117.6,837.03 L118.4,836.23 L119.2,835.43 L120,834.61 L120.8,833.78 L121.6,832.93 L122.4,832.07 L123.2,831.2 L124,830.32 L124.8,829.43 L125.6,828.52 L126.4,827.61 L127.2,826.68 L128,825.74 L128.8,824.79 L129.6,823.83 L130.4,822.86 L131.2,821.87 L132,820.88 L132.8,819.88 L133.6,818.87 L134.4,817.85 L135.2,816.82 L136,815.79 L136.8,814.74 L137.6,813.69 L138.4,812.62 L139.2,811.55 L140,810.47 L140.8,809.39 L141.6,808.3 L142.4,807.2 L143.2,806.09 L144,804.98 L144.8,803.86 L145.6,802.73 L146.4,801.6 L147.2,800.47 L148,799.32 L148.8,798.18 L149.6,797.03 L150.4,795.87 L151.2,794.71 L152,793.54 L152.8,792.37 L153.6,791.2 L154.4,790.02 L155.2,788.84 L156,787.66 L156.8,786.47 L157.6,785.28 L158.4,784.09 L159.2,782.9 L160,781.7 L160.8,780.51 L161.6,779.31 L162.4,778.11 L163.2,776.91 L164,775.7 L164.8,774.5 L165.6,773.3 L166.4,772.09 L167.2,770.89 L168,769.69 L168.8,768.48 L169.6,767.28 L170.4,766.08 L171.2,764.88 L172,763.68 L172.8,762.49 L173.6,761.29 L174.4,760.1 L175.2,758.91 L176,757.72 L176.8,756.54 L177.6,755.35 L178.4,754.17 L179.2,753 L180,751.83 L180.8,750.66 L181.6,749.49 L182.4,748.34 L183.2,747.18 L184,746.03 L184.8,744.89 L185.6,743.76 L186.4,742.64 L187.2,741.53 L188,740.43 L188.8,739.35 L189.6,738.28 L190.4,737.22 L191.2,736.18 L192,735.16 L192.8,734.16 L193.6,733.18 L194.4,732.21 L195.2,731.27 L196,730.36 L196.8,729.46 L197.6,728.6 L198.4,727.75 L199.2,726.94 L200,726.15 L200.8,725.4 L201.6,724.67 L202.4,723.96 L203.2,723.29 L204,722.65 L204.8,722.03 L205.6,721.45 L206.4,720.9 L207.2,720.37 L208,719.88 L208.8,719.42 L209.6,719 L210.4,718.6 L211.2,718.24 L212,717.91 L212.8,717.61 L213.6,717.35 L214.4,717.12 L215.2,716.93 L216,716.77 L216.8,716.64 L217.6,716.55 L218.4,716.5 L219.2,716.48 L220,716.49 L220.8,716.53 L221.6,716.61 L222.4,716.72 L223.2,716.86 L224,717.03 L224.8,717.24 L225.6,717.48 L226.4,717.74 L227.2,718.04 L228,718.37 L228.8,718.72 L229.6,719.11 L230.4,719.52 L231.2,719.96 L232,720.43 L232.8,720.92 L233.6,721.44 L234.4,721.98 L235.2,722.54 L236,723.13 L236.8,723.73 L237.6,724.36 L238.4,725 L239.2,725.66 L240,726.34 L240.8,727.04 L241.6,727.75 L242.4,728.47 L243.2,729.21 L244,729.96 L244.8,730.72 L245.6,731.49 L246.4,732.27 L247.2,733.06 L248,733.86 L248.8,734.66 L249.6,735.47 L250.4,736.28 L251.2,737.1 L252,737.92 L252.8,738.74 L253.6,739.56 L254.4,740.39 L255.2,741.21 L256,742.03 L256.8,742.85 L257.6,743.66 L258.4,744.47 L259.2,745.27 L260,746.07 L260.8,746.86 L261.6,747.64 L262.4,748.41 L263.2,749.17 L264,749.92 L264.8,750.66 L265.6,751.39 L266.4,752.1 L267.2,752.8 L268,753.49 L268.8,754.17 L269.6,754.83 L270.4,755.48 L271.2,756.13 L272,756.76 L272.8,757.37 L273.6,757.98 L274.4,758.57 L275.2,759.15 L276,759.73 L276.8,760.28 L277.6,760.83 L278.4,761.37 L279.2,761.89 L280,762.4 L280.8,762.9 L281.6,763.39 L282.4,763.87 L283.2,764.34 L284,764.79 L284.8,765.24 L285.6,765.67 L286.4,766.09 L287.2,766.5 L288,766.9 L288.8,767.29 L289.6,767.67 L290.4,768.04 L291.2,768.39 L292,768.73 L292.8,769.07 L293.6,769.39 L294.4,769.7 L295.2,770 L296,770.29 L296.8,770.57 L297.6,770.84 L298.4,771.1 L299.2,771.35 L300,771.58 L300.8,771.81 L301.6,772.02 L302.4,772.23 L303.2,772.43 L304,772.61 L304.8,772.78 L305.6,772.95 L306.4,773.1 L307.2,773.24 L308,773.38 L308.8,773.5 L309.6,773.61 L310.4,773.72 L311.2,773.81 L312,773.89 L312.8,773.96 L313.6,774.03 L314.4,774.08 L315.2,774.12 L316,774.15 L316.8,774.18 L317.6,774.19 L318.4,774.19 L319.2,774.19 L320,774.17 L320.8,774.15 L321.6,774.11 L322.4,774.07 L323.2,774.02 L324,773.95 L324.8,773.88 L325.6,773.8 L326.4,773.71 L327.2,773.61 L328,773.5 L328.5,773.42" fill="none" stroke="#800000" stroke-width="2.7" stroke-linejoin="round" stroke-linecap="round" />
<path d="M111.5,847 L116.4,837.76 L117.2,836.96 L118,836.15 L118.8,835.33 L119.6,834.5 L120.4,833.65 L121.2,832.8 L122,831.93 L122.8,831.06 L123.6,830.17 L124.4,829.27 L125.2,828.37 L126,827.45 L126.8,826.52 L127.6,825.59 L128.4,824.64 L129.2,823.69 L130,822.73 L130.8,821.75 L131.6,820.77 L132.4,819.78 L133.2,818.79 L134,817.78 L134.8,816.77 L135.6,815.74 L136.4,814.71 L137.2,813.68 L138,812.63 L138.8,811.58 L139.6,810.52 L140.4,809.46 L141.2,808.38 L142,807.31 L142.8,806.22 L143.6,805.13 L144.4,804.03 L145.2,802.93 L146,801.82 L146.8,800.7 L147.6,799.58 L148.4,798.46 L149.2,797.33 L150,796.19 L150.8,795.05 L151.6,793.9 L152.4,792.75 L153.2,791.6 L154,790.44 L154.8,789.28 L155.6,788.11 L156.4,786.95 L157.2,785.77 L158,784.6 L158.8,783.42 L159.6,782.23 L160.4,781.05 L161.2,779.86 L162,778.67 L162.8,777.48 L163.6,776.28 L164.4,775.08 L165.2,773.89 L166,772.68 L166.8,771.48 L167.6,770.28 L168.4,769.07 L169.2,767.87 L170,766.66 L170.8,765.45 L171.6,764.25 L172.4,763.04 L173.2,761.83 L174,760.62 L174.8,759.41 L175.6,758.2 L176.4,756.99 L177.2,755.79 L178,754.58 L178.8,753.37 L179.6,752.17 L180.4,750.97 L181.2,749.76 L182,748.56 L182.8,747.36 L183.6,746.17 L184.4,744.98 L185.2,743.79 L186,742.6 L186.8,741.43 L187.6,740.25 L188.4,739.09 L189.2,737.94 L190,736.79 L190.8,735.65 L191.6,734.53 L192.4,733.41 L193.2,732.31 L194,731.23 L194.8,730.15 L195.6,729.09 L196.4,728.05 L197.2,727.02 L198,726.01 L198.8,725.02 L199.6,724.05 L200.4,723.1 L201.2,722.17 L202,721.26 L202.8,720.37 L203.6,719.51 L204.4,718.67 L205.2,717.86 L206,717.07 L206.8,716.31 L207.6,715.57 L208.4,714.87 L209.2,714.19 L210,713.54 L210.8,712.92 L211.6,712.34 L212.4,711.79 L213.2,711.27 L214,710.78 L214.8,710.33 L215.6,709.92 L216.4,709.54 L217.2,709.2 L218,708.89 L218.8,708.62 L219.6,708.38 L220.4,708.18 L221.2,708.02 L222,707.88 L222.8,707.78 L223.6,707.71 L224.4,707.67 L225.2,707.66 L226,707.69 L226.8,707.74 L227.6,707.82 L228.4,707.93 L229.2,708.06 L230,708.23 L230.8,708.42 L231.6,708.63 L232.4,708.87 L233.2,709.14 L234,709.43 L234.8,709.74 L235.6,710.08 L236.4,710.44 L237.2,710.82 L238,711.22 L238.8,711.65 L239.6,712.09 L240.4,712.55 L241.2,713.03 L242,713.53 L242.8,714.05 L243.6,714.58 L244.4,715.13 L245.2,715.7 L246,716.28 L246.8,716.88 L247.6,717.49 L248.4,718.11 L249.2,718.75 L250,719.4 L250.8,720.06 L251.6,720.73 L252.4,721.41 L253.2,722.1 L254,722.8 L254.8,723.51 L255.6,724.23 L256.4,724.95 L257.2,725.69 L258,726.42 L258.8,727.17 L259.6,727.92 L260.4,728.67 L261.2,729.43 L262,730.19 L262.8,730.95 L263.6,731.72 L264.4,732.48 L265.2,733.25 L266,734.01 L266.8,734.78 L267.6,735.55 L268.4,736.31 L269.2,737.07 L270,737.83 L270.8,738.58 L271.6,739.33 L272.4,740.07 L273.2,740.81 L274,741.54 L274.8,742.27 L275.6,742.99 L276.4,743.7 L277.2,744.4 L278,745.09 L278.8,745.77 L279.6,746.44 L280.4,747.1 L281.2,747.75 L282,748.38 L282.8,749.01 L283.6,749.62 L284.4,750.21 L285.2,750.79 L286,751.35 L286.8,751.9 L287.6,752.43 L288.4,752.94 L289.2,753.44 L290,753.92 L290.8,754.37 L291.6,754.81 L292.4,755.23 L293.2,755.63 L294,756 L294.8,756.37 L295.6,756.71 L296.4,757.03 L297.2,757.34 L298,757.63 L298.8,757.91 L299.6,758.17 L300.4,758.41 L301.2,758.64 L302,758.85 L302.8,759.05 L303.6,759.24 L304.4,759.41 L305.2,759.57 L306,759.72 L306.8,759.85 L307.6,759.97 L308.4,760.08 L309.2,760.18 L310,760.27 L310.8,760.34 L311.6,760.41 L312.4,760.47 L313.2,760.52 L314,760.55 L314.8,760.59 L315.6,760.61 L316.4,760.62 L317.2,760.63 L318,760.63 L318.8,760.63 L319.6,760.62 L320.4,760.6 L321.2,760.58 L322,760.55 L322.8,760.52 L323.6,760.49 L324.4,760.45 L325.2,760.41 L326,760.36 L326.8,760.31 L327.6,760.26 L328.4,760.21 L328.9,760.18" fill="none" stroke="#00ffff" stroke-width="2.7" stroke-linejoin="round" stroke-linecap="round" />
<path d="M111.1,847.9 L116,838.66 L116.8,837.86 L117.6,837.05 L118.4,836.23 L119.2,835.4 L120,834.55 L120.8,833.7 L121.6,832.83 L122.4,831.96 L123.2,831.07 L124,830.17 L124.8,829.27 L125.6,828.35 L126.4,827.42 L127.2,826.49 L128,825.54 L128.8,824.59 L129.6,823.63 L130.4,822.65 L131.2,821.67 L132,820.68 L132.8,819.69 L133.6,818.68 L134.4,817.67 L135.2,816.64 L136,815.61 L136.8,814.58 L137.6,813.53 L138.4,812.48 L139.2,811.42 L140,810.36 L140.8,809.28 L141.6,808.21 L142.4,807.12 L143.2,806.03 L144,804.93 L144.8,803.83 L145.6,802.72 L146.4,801.6 L147.2,800.48 L148,799.36 L148.8,798.23 L149.6,797.09 L150.4,795.95 L151.2,794.8 L152,793.65 L152.8,792.5 L153.6,791.34 L154.4,790.18 L155.2,789.01 L156,787.85 L156.8,786.67 L157.6,785.5 L158.4,784.32 L159.2,783.13 L160,781.95 L160.8,780.76 L161.6,779.57 L162.4,778.38 L163.2,777.18 L164,775.98 L164.8,774.79 L165.6,773.58 L166.4,772.38 L167.2,771.18 L168,769.97 L168.8,768.77 L169.6,767.56 L170.4,766.35 L171.2,765.15 L172,763.94 L172.8,762.73 L173.6,761.52 L174.4,760.31 L175.2,759.1 L176,757.89 L176.8,756.69 L177.6,755.48 L178.4,754.27 L179.2,753.07 L180,751.87 L180.8,750.66 L181.6,749.46 L182.4,748.26 L183.2,747.07 L184,745.88 L184.8,744.69 L185.6,743.5 L186.4,742.33 L187.2,741.15 L188,739.99 L188.8,738.84 L189.6,737.69 L190.4,736.55 L191.2,735.43 L192,734.31 L192.8,733.21 L193.6,732.13 L194.4,731.05 L195.2,729.99 L196,728.95 L196.8,727.92 L197.6,726.91 L198.4,725.92 L199.2,724.95 L200,724 L200.8,723.07 L201.6,722.16 L202.4,721.27 L203.2,720.41 L204,719.57 L204.8,718.76 L205.6,717.97 L206.4,717.21 L207.2,716.47 L208,715.77 L208.8,715.09 L209.6,714.44 L210.4,713.82 L211.2,713.24 L212,712.69 L212.8,712.17 L213.6,711.68 L214.4,711.23 L215.2,710.82 L216,710.44 L216.8,710.1 L217.6,709.79 L218.4,709.52 L219.2,709.28 L220,709.08 L220.8,708.92 L221.6,708.78 L222.4,708.68 L223.2,708.61 L224,708.57 L224.8,708.56 L225.6,708.59 L226.4,708.64 L227.2,708.72 L228,708.83 L228.8,708.96 L229.6,709.13 L230.4,709.32 L231.2,709.53 L232,709.77 L232.8,710.04 L233.6,710.33 L234.4,710.64 L235.2,710.98 L236,711.34 L236.8,711.72 L237.6,712.12 L238.4,712.55 L239.2,712.99 L240,713.45 L240.8,713.93 L241.6,714.43 L242.4,714.95 L243.2,715.48 L244,716.03 L244.8,716.6 L245.6,717.18 L246.4,717.78 L247.2,718.39 L248,719.01 L248.8,719.65 L249.6,720.3 L250.4,720.96 L251.2,721.63 L252,722.31 L252.8,723 L253.6,723.7 L254.4,724.41 L255.2,725.13 L256,725.85 L256.8,726.59 L257.6,727.32 L258.4,728.07 L259.2,728.82 L260,729.57 L260.8,730.33 L261.6,731.09 L262.4,731.85 L263.2,732.62 L264,733.38 L264.8,734.15 L265.6,734.91 L266.4,735.68 L267.2,736.45 L268,737.21 L268.8,737.97 L269.6,738.73 L270.4,739.48 L271.2,740.23 L272,740.97 L272.8,741.71 L273.6,742.44 L274.4,743.17 L275.2,743.89 L276,744.6 L276.8,745.3 L277.6,745.99 L278.4,746.67 L279.2,747.34 L280,748 L280.8,748.65 L281.6,749.28 L282.4,749.91 L283.2,750.52 L284,751.11 L284.8,751.69 L285.6,752.25 L286.4,752.8 L287.2,753.33 L288,753.84 L288.8,754.34 L289.6,754.82 L290.4,755.27 L291.2,755.71 L292,756.13 L292.8,756.53 L293.6,756.9 L294.4,757.27 L295.2,757.61 L296,757.93 L296.8,758.24 L297.6,758.53 L298.4,758.81 L299.2,759.07 L300,759.31 L300.8,759.54 L301.6,759.75 L302.4,759.95 L303.2,760.14 L304,760.31 L304.8,760.47 L305.6,760.62 L306.4,760.75 L307.2,760.87 L308,760.98 L308.8,761.08 L309.6,761.17 L310.4,761.24 L311.2,761.31 L312,761.37 L312.8,761.42 L313.6,761.45 L314.4,761.49 L315.2,761.51 L316,761.52 L316.8,761.53 L317.6,761.53 L318.4,761.53 L319.2,761.52 L320,761.5 L320.8,761.48 L321.6,761.45 L322.4,761.42 L323.2,761.39 L324,761.35 L324.8,761.31 L325.6,761.26 L326.4,761.21 L327.2,761.16 L328,761.11 L328.5,761.08" fill="none" stroke="#0000ff" stroke-width="2.7" stroke-linejoin="round" stroke-linecap="round" />
</g>
<line x1="111.1" y1="765.2" x2="328.5" y2="765.2" stroke="#000" stroke-width="2.5" stroke-dasharray="8.6 7.2 2.6 7.2" stroke-dashoffset="-10.7"/>
<rect x="111.1" y="689.8" width="217.4" height="158.1" fill="none" stroke="#000" stroke-width="2.1"/>
<line x1="119.8" y1="847.9" x2="119.8" y2="843.9" stroke="#000" stroke-width="2" />
<line x1="119.8" y1="689.8" x2="119.8" y2="693.8" stroke="#000" stroke-width="2" />
<line x1="128.49" y1="847.9" x2="128.49" y2="843.9" stroke="#000" stroke-width="2" />
<line x1="128.49" y1="689.8" x2="128.49" y2="693.8" stroke="#000" stroke-width="2" />
<line x1="137.19" y1="847.9" x2="137.19" y2="843.9" stroke="#000" stroke-width="2" />
<line x1="137.19" y1="689.8" x2="137.19" y2="693.8" stroke="#000" stroke-width="2" />
<line x1="145.88" y1="847.9" x2="145.88" y2="843.9" stroke="#000" stroke-width="2" />
<line x1="145.88" y1="689.8" x2="145.88" y2="693.8" stroke="#000" stroke-width="2" />
<line x1="154.58" y1="847.9" x2="154.58" y2="839.9" stroke="#000" stroke-width="2" />
<line x1="154.58" y1="689.8" x2="154.58" y2="697.8" stroke="#000" stroke-width="2" />
<line x1="163.28" y1="847.9" x2="163.28" y2="843.9" stroke="#000" stroke-width="2" />
<line x1="163.28" y1="689.8" x2="163.28" y2="693.8" stroke="#000" stroke-width="2" />
<line x1="171.97" y1="847.9" x2="171.97" y2="843.9" stroke="#000" stroke-width="2" />
<line x1="171.97" y1="689.8" x2="171.97" y2="693.8" stroke="#000" stroke-width="2" />
<line x1="180.67" y1="847.9" x2="180.67" y2="843.9" stroke="#000" stroke-width="2" />
<line x1="180.67" y1="689.8" x2="180.67" y2="693.8" stroke="#000" stroke-width="2" />
<line x1="189.36" y1="847.9" x2="189.36" y2="843.9" stroke="#000" stroke-width="2" />
<line x1="189.36" y1="689.8" x2="189.36" y2="693.8" stroke="#000" stroke-width="2" />
<line x1="198.06" y1="847.9" x2="198.06" y2="839.9" stroke="#000" stroke-width="2" />
<line x1="198.06" y1="689.8" x2="198.06" y2="697.8" stroke="#000" stroke-width="2" />
<line x1="206.76" y1="847.9" x2="206.76" y2="843.9" stroke="#000" stroke-width="2" />
<line x1="206.76" y1="689.8" x2="206.76" y2="693.8" stroke="#000" stroke-width="2" />
<line x1="215.45" y1="847.9" x2="215.45" y2="843.9" stroke="#000" stroke-width="2" />
<line x1="215.45" y1="689.8" x2="215.45" y2="693.8" stroke="#000" stroke-width="2" />
<line x1="224.15" y1="847.9" x2="224.15" y2="843.9" stroke="#000" stroke-width="2" />
<line x1="224.15" y1="689.8" x2="224.15" y2="693.8" stroke="#000" stroke-width="2" />
<line x1="232.84" y1="847.9" x2="232.84" y2="843.9" stroke="#000" stroke-width="2" />
<line x1="232.84" y1="689.8" x2="232.84" y2="693.8" stroke="#000" stroke-width="2" />
<line x1="241.54" y1="847.9" x2="241.54" y2="839.9" stroke="#000" stroke-width="2" />
<line x1="241.54" y1="689.8" x2="241.54" y2="697.8" stroke="#000" stroke-width="2" />
<line x1="250.24" y1="847.9" x2="250.24" y2="843.9" stroke="#000" stroke-width="2" />
<line x1="250.24" y1="689.8" x2="250.24" y2="693.8" stroke="#000" stroke-width="2" />
<line x1="258.93" y1="847.9" x2="258.93" y2="843.9" stroke="#000" stroke-width="2" />
<line x1="258.93" y1="689.8" x2="258.93" y2="693.8" stroke="#000" stroke-width="2" />
<line x1="267.63" y1="847.9" x2="267.63" y2="843.9" stroke="#000" stroke-width="2" />
<line x1="267.63" y1="689.8" x2="267.63" y2="693.8" stroke="#000" stroke-width="2" />
<line x1="276.32" y1="847.9" x2="276.32" y2="843.9" stroke="#000" stroke-width="2" />
<line x1="276.32" y1="689.8" x2="276.32" y2="693.8" stroke="#000" stroke-width="2" />
<line x1="285.02" y1="847.9" x2="285.02" y2="839.9" stroke="#000" stroke-width="2" />
<line x1="285.02" y1="689.8" x2="285.02" y2="697.8" stroke="#000" stroke-width="2" />
<line x1="293.72" y1="847.9" x2="293.72" y2="843.9" stroke="#000" stroke-width="2" />
<line x1="293.72" y1="689.8" x2="293.72" y2="693.8" stroke="#000" stroke-width="2" />
<line x1="302.41" y1="847.9" x2="302.41" y2="843.9" stroke="#000" stroke-width="2" />
<line x1="302.41" y1="689.8" x2="302.41" y2="693.8" stroke="#000" stroke-width="2" />
<line x1="311.11" y1="847.9" x2="311.11" y2="843.9" stroke="#000" stroke-width="2" />
<line x1="311.11" y1="689.8" x2="311.11" y2="693.8" stroke="#000" stroke-width="2" />
<line x1="319.8" y1="847.9" x2="319.8" y2="843.9" stroke="#000" stroke-width="2" />
<line x1="319.8" y1="689.8" x2="319.8" y2="693.8" stroke="#000" stroke-width="2" />
<line x1="111.1" y1="828.14" x2="115.1" y2="828.14" stroke="#000" stroke-width="2" />
<line x1="328.5" y1="828.14" x2="324.5" y2="828.14" stroke="#000" stroke-width="2" />
<line x1="111.1" y1="808.38" x2="115.1" y2="808.38" stroke="#000" stroke-width="2" />
<line x1="328.5" y1="808.38" x2="324.5" y2="808.38" stroke="#000" stroke-width="2" />
<line x1="111.1" y1="788.61" x2="115.1" y2="788.61" stroke="#000" stroke-width="2" />
<line x1="328.5" y1="788.61" x2="324.5" y2="788.61" stroke="#000" stroke-width="2" />
<line x1="111.1" y1="768.85" x2="119.1" y2="768.85" stroke="#000" stroke-width="2" />
<line x1="328.5" y1="768.85" x2="320.5" y2="768.85" stroke="#000" stroke-width="2" />
<line x1="111.1" y1="749.09" x2="115.1" y2="749.09" stroke="#000" stroke-width="2" />
<line x1="328.5" y1="749.09" x2="324.5" y2="749.09" stroke="#000" stroke-width="2" />
<line x1="111.1" y1="729.32" x2="115.1" y2="729.32" stroke="#000" stroke-width="2" />
<line x1="328.5" y1="729.32" x2="324.5" y2="729.32" stroke="#000" stroke-width="2" />
<line x1="111.1" y1="709.56" x2="115.1" y2="709.56" stroke="#000" stroke-width="2" />
<line x1="328.5" y1="709.56" x2="324.5" y2="709.56" stroke="#000" stroke-width="2" />
<text x="111.1" y="871.3" font-size="17.5" text-anchor="middle" style="font-family:'Liberation Serif',serif;" >0</text>
<text x="154.58" y="871.3" font-size="17.5" text-anchor="middle" style="font-family:'Liberation Serif',serif;" >1000</text>
<text x="198.06" y="871.3" font-size="17.5" text-anchor="middle" style="font-family:'Liberation Serif',serif;" >2000</text>
<text x="241.54" y="871.3" font-size="17.5" text-anchor="middle" style="font-family:'Liberation Serif',serif;" >3000</text>
<text x="285.02" y="871.3" font-size="17.5" text-anchor="middle" style="font-family:'Liberation Serif',serif;" >4000</text>
<text x="328.5" y="871.3" font-size="17.5" text-anchor="middle" style="font-family:'Liberation Serif',serif;" >5000</text>
<text x="108.5" y="850.6" font-size="17.5" text-anchor="end" style="font-family:'Liberation Serif',serif;" >0</text>
<text x="108.8" y="775.65" font-size="17.5" text-anchor="end" style="font-family:'Liberation Serif',serif;" >2x10<tspan font-size="12" dy="-7.8">6</tspan></text>
<text x="108.8" y="696.6" font-size="17.5" text-anchor="end" style="font-family:'Liberation Serif',serif;" >4x10<tspan font-size="12" dy="-7.8">6</tspan></text>
<line x1="323.8" y1="774" x2="323.8" y2="838" stroke="#ff0000" stroke-width="1.8" />
<path d="M317.6,776.2 L330,776.2 L323.8,766 Z" fill="#ff0000"/>
<path d="M317.6,836.1 L330,836.1 L323.8,847.5 Z" fill="#ff0000"/>
<rect x="373.4" y="722.3" width="10" height="10" fill="#0000ff"/>
<rect x="386.2" y="722.1" width="10" height="10" fill="#0000ff"/>
<rect x="416.8" y="731.2" width="10" height="10" fill="#0000ff"/>
<rect x="429" y="736.1" width="10" height="10" fill="#0000ff"/>
<rect x="459.8" y="749.9" width="10" height="10" fill="#0000ff"/>
<rect x="490" y="749.3" width="10" height="10" fill="#0000ff"/>
<rect x="521" y="764" width="10" height="10" fill="#0000ff"/>
<rect x="551.2" y="791" width="10" height="10" fill="#0000ff"/>
<circle cx="378.4" cy="733.2" r="4.2" fill="none" stroke="#ff0000" stroke-width="1.8"/>
<circle cx="390.8" cy="733.1" r="4.2" fill="none" stroke="#ff0000" stroke-width="1.8"/>
<circle cx="421.6" cy="742.7" r="4.2" fill="none" stroke="#ff0000" stroke-width="1.8"/>
<circle cx="433.7" cy="747.6" r="4.2" fill="none" stroke="#ff0000" stroke-width="1.8"/>
<circle cx="464.5" cy="762.2" r="4.2" fill="none" stroke="#ff0000" stroke-width="1.8"/>
<circle cx="494.7" cy="761.2" r="4.2" fill="none" stroke="#ff0000" stroke-width="1.8"/>
<circle cx="525.6" cy="777.6" r="4.2" fill="none" stroke="#ff0000" stroke-width="1.8"/>
<circle cx="556.1" cy="810.9" r="4.2" fill="none" stroke="#ff0000" stroke-width="1.8"/>
<path d="M374.9,732.73 L377.9,732.79 M382.1,732.9 L385.1,733.01 M389.3,733.19 L392.3,733.34 M396.6,733.6 L399.6,733.81 M403.71,734.14 L406.69,734.41 M410.51,734.8 L413.49,735.15 M418.42,735.78 L421.38,736.21 M425.62,736.88 L428.58,737.4 M432.83,738.2 L435.77,738.81 M440.74,739.93 L443.66,740.65 M447.96,741.79 L450.84,742.61 M455.17,743.92 L458.03,744.85 M462.49,746.4 L465.31,747.44 M469.72,749.17 L472.48,750.32 M477.64,752.61 L480.36,753.89 M484.87,756.16 L487.53,757.56 M492.81,760.55 L495.39,762.1 M500.36,765.28 L502.84,766.96 M507.9,770.59 L510.3,772.4 M515.46,776.54 L517.74,778.48 M522.91,783.09 L525.09,785.14 M529.96,789.95 L532.04,792.11 M537.01,797.51 L538.99,799.77 M543.26,804.82 L545.14,807.15 M549,812.08 L550.8,814.47 M554.33,819.3 L556.07,821.75 M559.17,826.26 L560.83,828.75 M563.6,832.99 L565.2,835.53 M567.62,839.42 L569.18,841.99" stroke="#ff0000" stroke-width="1.8" fill="none"/>
<rect x="373.2" y="689.6" width="213.8" height="158.3" fill="none" stroke="#000" stroke-width="2.1"/>
<line x1="388.47" y1="847.9" x2="388.47" y2="843.9" stroke="#000" stroke-width="2" />
<line x1="388.47" y1="689.6" x2="388.47" y2="693.6" stroke="#000" stroke-width="2" />
<line x1="403.74" y1="847.9" x2="403.74" y2="843.9" stroke="#000" stroke-width="2" />
<line x1="403.74" y1="689.6" x2="403.74" y2="693.6" stroke="#000" stroke-width="2" />
<line x1="419.01" y1="847.9" x2="419.01" y2="843.9" stroke="#000" stroke-width="2" />
<line x1="419.01" y1="689.6" x2="419.01" y2="693.6" stroke="#000" stroke-width="2" />
<line x1="434.29" y1="847.9" x2="434.29" y2="839.9" stroke="#000" stroke-width="2" />
<line x1="434.29" y1="689.6" x2="434.29" y2="697.6" stroke="#000" stroke-width="2" />
<line x1="449.56" y1="847.9" x2="449.56" y2="843.9" stroke="#000" stroke-width="2" />
<line x1="449.56" y1="689.6" x2="449.56" y2="693.6" stroke="#000" stroke-width="2" />
<line x1="464.83" y1="847.9" x2="464.83" y2="843.9" stroke="#000" stroke-width="2" />
<line x1="464.83" y1="689.6" x2="464.83" y2="693.6" stroke="#000" stroke-width="2" />
<line x1="480.1" y1="847.9" x2="480.1" y2="843.9" stroke="#000" stroke-width="2" />
<line x1="480.1" y1="689.6" x2="480.1" y2="693.6" stroke="#000" stroke-width="2" />
<line x1="495.37" y1="847.9" x2="495.37" y2="839.9" stroke="#000" stroke-width="2" />
<line x1="495.37" y1="689.6" x2="495.37" y2="697.6" stroke="#000" stroke-width="2" />
<line x1="510.64" y1="847.9" x2="510.64" y2="843.9" stroke="#000" stroke-width="2" />
<line x1="510.64" y1="689.6" x2="510.64" y2="693.6" stroke="#000" stroke-width="2" />
<line x1="525.91" y1="847.9" x2="525.91" y2="843.9" stroke="#000" stroke-width="2" />
<line x1="525.91" y1="689.6" x2="525.91" y2="693.6" stroke="#000" stroke-width="2" />
<line x1="541.19" y1="847.9" x2="541.19" y2="843.9" stroke="#000" stroke-width="2" />
<line x1="541.19" y1="689.6" x2="541.19" y2="693.6" stroke="#000" stroke-width="2" />
<line x1="556.46" y1="847.9" x2="556.46" y2="839.9" stroke="#000" stroke-width="2" />
<line x1="556.46" y1="689.6" x2="556.46" y2="697.6" stroke="#000" stroke-width="2" />
<line x1="571.73" y1="847.9" x2="571.73" y2="843.9" stroke="#000" stroke-width="2" />
<line x1="571.73" y1="689.6" x2="571.73" y2="693.6" stroke="#000" stroke-width="2" />
<line x1="373.2" y1="834.71" x2="377.2" y2="834.71" stroke="#000" stroke-width="2" />
<line x1="587" y1="834.71" x2="583" y2="834.71" stroke="#000" stroke-width="2" />
<line x1="373.2" y1="821.52" x2="377.2" y2="821.52" stroke="#000" stroke-width="2" />
<line x1="587" y1="821.52" x2="583" y2="821.52" stroke="#000" stroke-width="2" />
<line x1="373.2" y1="808.33" x2="377.2" y2="808.33" stroke="#000" stroke-width="2" />
<line x1="587" y1="808.33" x2="583" y2="808.33" stroke="#000" stroke-width="2" />
<line x1="373.2" y1="795.13" x2="381.2" y2="795.13" stroke="#000" stroke-width="2" />
<line x1="587" y1="795.13" x2="579" y2="795.13" stroke="#000" stroke-width="2" />
<line x1="373.2" y1="781.94" x2="377.2" y2="781.94" stroke="#000" stroke-width="2" />
<line x1="587" y1="781.94" x2="583" y2="781.94" stroke="#000" stroke-width="2" />
<line x1="373.2" y1="768.75" x2="377.2" y2="768.75" stroke="#000" stroke-width="2" />
<line x1="587" y1="768.75" x2="583" y2="768.75" stroke="#000" stroke-width="2" />
<line x1="373.2" y1="755.56" x2="377.2" y2="755.56" stroke="#000" stroke-width="2" />
<line x1="587" y1="755.56" x2="583" y2="755.56" stroke="#000" stroke-width="2" />
<line x1="373.2" y1="742.37" x2="381.2" y2="742.37" stroke="#000" stroke-width="2" />
<line x1="587" y1="742.37" x2="579" y2="742.37" stroke="#000" stroke-width="2" />
<line x1="373.2" y1="729.17" x2="377.2" y2="729.17" stroke="#000" stroke-width="2" />
<line x1="587" y1="729.17" x2="583" y2="729.17" stroke="#000" stroke-width="2" />
<line x1="373.2" y1="715.98" x2="377.2" y2="715.98" stroke="#000" stroke-width="2" />
<line x1="587" y1="715.98" x2="583" y2="715.98" stroke="#000" stroke-width="2" />
<line x1="373.2" y1="702.79" x2="377.2" y2="702.79" stroke="#000" stroke-width="2" />
<line x1="587" y1="702.79" x2="583" y2="702.79" stroke="#000" stroke-width="2" />
<text x="373.2" y="871.3" font-size="17.5" text-anchor="middle" style="font-family:'Liberation Serif',serif;" >0</text>
<text x="434.29" y="871.3" font-size="17.5" text-anchor="middle" style="font-family:'Liberation Serif',serif;" >100</text>
<text x="495.37" y="871.3" font-size="17.5" text-anchor="middle" style="font-family:'Liberation Serif',serif;" >200</text>
<text x="556.46" y="871.3" font-size="17.5" text-anchor="middle" style="font-family:'Liberation Serif',serif;" >300</text>
<text x="597.3" y="853.1" font-size="17.5" text-anchor="start" style="font-family:'Liberation Serif',serif;" >0</text>
<text x="597.3" y="800.33" font-size="17.5" text-anchor="start" style="font-family:'Liberation Serif',serif;" >4000</text>
<text x="597.3" y="747.57" font-size="17.5" text-anchor="start" style="font-family:'Liberation Serif',serif;" >8000</text>
<text x="597.3" y="694.8" font-size="17.5" text-anchor="start" style="font-family:'Liberation Serif',serif;" >12000</text>
<rect x="449.2" y="703.8" width="10.8" height="10.8" fill="#0000ff"/>
<circle cx="399.4" cy="803.7" r="4.25" fill="none" stroke="#ff0000" stroke-width="1.8"/>
<text x="0" y="0" font-size="27.5" style="font-family:'Liberation Sans',sans-serif;font-weight:bold" transform="translate(3.92,24.80) scale(1.0833,1.0263)">A</text>
<text x="0" y="0" font-size="27.5" style="font-family:'Liberation Sans',sans-serif;font-weight:bold" transform="translate(3.54,416.60) scale(0.9824,1.0474)">B</text>
<text x="0" y="0" font-size="27.5" style="font-family:'Liberation Sans',sans-serif;font-weight:bold" transform="translate(346.03,416.90) scale(0.9722,1.0474)">C</text>
<text x="0" y="0" font-size="27.5" style="font-family:'Liberation Sans',sans-serif;font-weight:bold" transform="translate(3.01,676.90) scale(0.9941,1.0474)">D</text>
<text x="0" y="0" font-size="27.5" style="font-family:'Liberation Sans',sans-serif;font-weight:bold" transform="translate(346.17,676.90) scale(1.0133,1.0474)">E</text>
<text x="0" y="0" font-size="22" style="font-family:'Liberation Serif',serif" transform="translate(263.10,379.27) scale(0.9839,1.0583)">Wavenumber (cm<tspan font-size="13" dy="-12">-1</tspan><tspan dy="12">)</tspan></text>
<text x="0" y="0" font-size="22" style="font-family:'Liberation Serif',serif" transform="translate(51.87,247.90) rotate(-90) scale(1.0027,1.0833)"><tspan font-style="italic">SW</tspan>(<tspan font-style="italic">ω</tspan>) (Ω<tspan font-size="13" dy="-12">-1</tspan><tspan dy="12"> cm</tspan><tspan font-size="13" dy="-12">-2</tspan><tspan dy="12">)</tspan></text>
<text x="0" y="0" font-size="28" style="font-family:'Liberation Serif',serif;font-weight:bold" transform="translate(131.60,224.60) scale(0.9864,1.0000)"><tspan font-style="italic">E</tspan> <tspan font-style="italic">//</tspan> <tspan font-style="italic">a</tspan>-axis</text>
<text x="0" y="0" font-size="21" style="font-family:'Liberation Serif',serif" transform="translate(224.54,194.20) scale(0.9615,0.9500)"><tspan font-style="italic">ω</tspan></text>
<text x="0" y="0" font-size="19.5" style="font-family:'Liberation Serif',serif" transform="translate(363.02,75.00) rotate(90) scale(0.8942,1.0059)"><tspan font-style="italic">SW</tspan>(<tspan font-style="italic">ω</tspan>)</text>
<text x="0" y="0" font-size="22" style="font-family:'Liberation Serif',serif" transform="translate(49.77,624.80) rotate(-90) scale(1.0110,1.0833)"><tspan font-style="italic">SW</tspan>(200 cm<tspan font-size="13" dy="-12">-1</tspan><tspan dy="12">, </tspan><tspan font-style="italic">T</tspan>) (Ω<tspan font-size="13" dy="-12">-1</tspan><tspan dy="12">cm</tspan><tspan font-size="13" dy="-12">-2</tspan><tspan dy="12">)</tspan></text>
<text x="0" y="0" font-size="24" style="font-family:'Liberation Serif',serif" transform="translate(132.00,471.62) scale(0.9013,1.0793)"><tspan font-style="italic">SW</tspan>(<tspan font-style="italic">T</tspan>)=<tspan font-style="italic">SW</tspan><tspan font-size="15" dy="6">0</tspan><tspan font-style="italic" dy="-6">e</tspan><tspan font-size="14" dy="-13"><tspan font-style="italic">T</tspan> / <tspan font-style="italic">α</tspan></tspan></text>
<text x="0" y="0" font-size="24" style="font-family:'Liberation Serif',serif" transform="translate(183.08,508.90) scale(0.9211,0.9087)">=121<tspan font-style="italic">e</tspan><tspan font-size="14" dy="-13"><tspan font-style="italic">T</tspan> / 44.26</tspan></text>
<text x="0" y="0" font-size="22" style="font-family:'Liberation Serif',serif" transform="translate(147.40,629.45) scale(0.9774,0.9700)">Temperature (K)</text>
<text x="0" y="0" font-size="22" style="font-family:'Liberation Serif',serif" transform="translate(410.40,629.45) scale(0.9692,0.9700)">Temperature (K)</text>
<text x="0" y="0" font-size="21" style="font-family:'Liberation Serif',serif" transform="translate(652.88,443.15) rotate(90) scale(1.0464,1.0708)"><tspan font-style="italic">Δ</tspan><tspan font-size="13" dy="-12" font-style="italic">EI</tspan><tspan dy="12"> (</tspan><tspan font-style="italic">T</tspan>) (cm<tspan font-size="13" dy="-12">-1</tspan><tspan dy="12">)</tspan></text>
<text x="0" y="0" font-size="19" style="font-family:'Liberation Serif',serif;fill:#333" transform="translate(553.35,522.82) scale(1.1522,0.9200)"><tspan font-style="italic">T</tspan><tspan font-size="12.5" dy="3.8" font-style="italic">c</tspan><tspan font-size="13" dx="-4" dy="-11.5" font-style="italic">EI</tspan></text>
<text x="0" y="0" font-size="15" style="font-family:'Liberation Serif',serif;fill:#333" transform="translate(385.80,544.35) scale(1.2432,0.8500)"><tspan font-style="italic">Δ</tspan><tspan font-size="10.5" dy="-8" font-style="italic">EI</tspan><tspan dy="8">(</tspan><tspan font-style="italic">T</tspan>)</text>
<text x="0" y="0" font-size="15" style="font-family:'Liberation Serif',serif;fill:#333" transform="translate(400.40,567.76) scale(1.1500,0.8462)"><tspan font-style="italic">Δ</tspan><tspan font-size="10.5" dy="3">0</tspan></text>
<text x="0" y="0" font-size="15" style="font-family:'Liberation Serif',serif;fill:#333" transform="translate(452.95,555.70) scale(1.4750,1.0300)">1</text>
<text x="0" y="0" font-size="15" style="font-family:'Liberation Serif',serif;fill:#333" transform="translate(498.89,543.60) scale(1.2125,1.1800)"><tspan font-style="italic">T</tspan></text>
<text x="0" y="0" font-size="15" style="font-family:'Liberation Serif',serif;fill:#333" transform="translate(491.53,567.76) scale(1.1737,1.0125)"><tspan font-style="italic">T</tspan><tspan font-size="10.5" dy="3" font-style="italic">c</tspan><tspan font-size="10.5" dx="-3.5" dy="-9.5" font-style="italic">EI</tspan></text>
<text x="0" y="0" font-size="11" style="font-family:'Liberation Serif',serif;fill:#333" transform="translate(527.30,534.00) scale(1.2200,1.1286)">2</text>
<text x="0" y="0" font-size="22" style="font-family:'Liberation Serif',serif" transform="translate(49.77,860.99) rotate(-90) scale(1.0053,1.0833)"><tspan font-style="italic">ΔSW</tspan>(<tspan font-style="italic">ω</tspan>, <tspan font-style="italic">T</tspan>) (Ω<tspan font-size="13" dy="-12">-1</tspan><tspan dy="12"> cm</tspan><tspan font-size="13" dy="-12">-2</tspan><tspan dy="12">)</tspan></text>
<text x="0" y="0" font-size="22" style="font-family:'Liberation Serif',serif" transform="translate(135.50,901.57) scale(0.9759,0.9833)">Wavenumber (cm<tspan font-size="13" dy="-12">-1</tspan><tspan dy="12">)</tspan></text>
<text x="0" y="0" font-size="15.5" style="font-family:'Liberation Serif',serif" transform="translate(289.40,820.55) scale(1.1464,0.9050)"><tspan font-style="italic">SW</tspan><tspan font-size="10" dy="7.5" font-style="italic">sf</tspan></text>
<text x="0" y="0" font-size="17" style="font-family:'Liberation Serif',serif" transform="translate(475.60,715.02) scale(1.0375,1.0929)"><tspan font-style="italic">SW</tspan>(<tspan font-style="italic">ω</tspan>, 350 K)</text>
<text x="0" y="0" font-size="17" style="font-family:'Liberation Serif',serif" transform="translate(497.06,738.32) scale(1.0375,1.0929)">- <tspan font-style="italic">SW</tspan>(<tspan font-style="italic">ω</tspan>, <tspan font-style="italic">T</tspan>)</text>
<text x="0" y="0" font-size="17" style="font-family:'Liberation Serif',serif" transform="translate(420.70,810.22) scale(1.0323,1.0929)"><tspan font-style="italic">SW</tspan>(<tspan font-style="italic">ω</tspan>, 325 K)</text>
<text x="0" y="0" font-size="17" style="font-family:'Liberation Serif',serif" transform="translate(443.16,832.72) scale(1.0417,1.0929)">- <tspan font-style="italic">SW</tspan>(<tspan font-style="italic">ω</tspan>, <tspan font-style="italic">T</tspan>)</text>
<text x="0" y="0" font-size="22" style="font-family:'Liberation Serif',serif" transform="translate(658.78,716.88) rotate(90) scale(1.0185,1.1310)">Ω<tspan font-size="13" dy="6" font-style="italic">sf</tspan><tspan dy="-6">(</tspan><tspan font-style="italic">T</tspan>) (cm<tspan font-size="13" dy="-12">-1</tspan><tspan dy="12">)</tspan></text>
<text x="0" y="0" font-size="22" style="font-family:'Liberation Serif',serif" transform="translate(410.40,895.92) scale(0.9692,0.9950)">Temperature (K)</text>
</svg>
</body></html>
